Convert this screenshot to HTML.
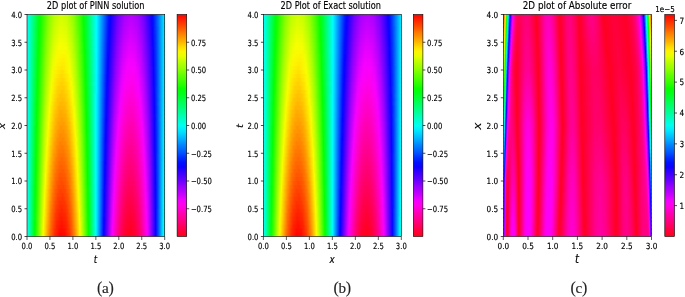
<!DOCTYPE html><html><head><meta charset="utf-8"><title>2D plots</title><style>html,body{margin:0;padding:0;background:#fff}svg{display:block}</style></head><body><svg width="685" height="297" viewBox="0 0 685 297"><defs><linearGradient id="g1"><stop offset="0" stop-color="#00fff3"/><stop offset="0.0072" stop-color="#00ffec"/><stop offset="0.087" stop-color="#00ff10"/><stop offset="0.1014" stop-color="#13ff00"/><stop offset="0.1558" stop-color="#82ff00"/><stop offset="0.2029" stop-color="#beff00"/><stop offset="0.25" stop-color="#d3ff00"/><stop offset="0.2935" stop-color="#c4ff00"/><stop offset="0.3406" stop-color="#8dff00"/><stop offset="0.3913" stop-color="#2cff00"/><stop offset="0.4094" stop-color="#06ff04"/><stop offset="0.4348" stop-color="#00ff3f"/><stop offset="0.5036" stop-color="#00fdff"/><stop offset="0.5906" stop-color="#0019ff"/><stop offset="0.6087" stop-color="#1000ff"/><stop offset="0.663" stop-color="#7500ff"/><stop offset="0.7138" stop-color="#ad00ff"/><stop offset="0.7609" stop-color="#bb00ff"/><stop offset="0.808" stop-color="#a400ff"/><stop offset="0.8587" stop-color="#6400ff"/><stop offset="0.9094" stop-color="#0505ff"/><stop offset="0.9384" stop-color="#0048ff"/><stop offset="1" stop-color="#00f3ff"/></linearGradient><linearGradient id="g2"><stop offset="0" stop-color="#00fff3"/><stop offset="0.0072" stop-color="#00ffec"/><stop offset="0.087" stop-color="#01ff0e"/><stop offset="0.1014" stop-color="#16ff00"/><stop offset="0.1558" stop-color="#86ff00"/><stop offset="0.2029" stop-color="#c3ff00"/><stop offset="0.2464" stop-color="#d9ff00"/><stop offset="0.2899" stop-color="#cbff00"/><stop offset="0.337" stop-color="#97ff00"/><stop offset="0.3877" stop-color="#37ff00"/><stop offset="0.4094" stop-color="#07ff02"/><stop offset="0.4348" stop-color="#00ff3d"/><stop offset="0.5036" stop-color="#00fdff"/><stop offset="0.5906" stop-color="#0016ff"/><stop offset="0.6051" stop-color="#0c00ff"/><stop offset="0.6594" stop-color="#7400ff"/><stop offset="0.7065" stop-color="#ad00ff"/><stop offset="0.7536" stop-color="#c100ff"/><stop offset="0.8007" stop-color="#af00ff"/><stop offset="0.8478" stop-color="#7900ff"/><stop offset="0.9022" stop-color="#1400ff"/><stop offset="0.9167" stop-color="#000fff"/><stop offset="0.9928" stop-color="#00dfff"/><stop offset="1" stop-color="#00f4ff"/></linearGradient><linearGradient id="g3"><stop offset="0" stop-color="#00fff3"/><stop offset="0.0072" stop-color="#00ffec"/><stop offset="0.0833" stop-color="#00ff14"/><stop offset="0.0978" stop-color="#11ff00"/><stop offset="0.1522" stop-color="#84ff00"/><stop offset="0.1993" stop-color="#c5ff00"/><stop offset="0.2428" stop-color="#ddff00"/><stop offset="0.2862" stop-color="#d3ff00"/><stop offset="0.3333" stop-color="#a1ff00"/><stop offset="0.3841" stop-color="#43ff00"/><stop offset="0.4094" stop-color="#08ff01"/><stop offset="0.4312" stop-color="#00ff31"/><stop offset="0.5036" stop-color="#00fdff"/><stop offset="0.5906" stop-color="#0013ff"/><stop offset="0.6051" stop-color="#0f00ff"/><stop offset="0.6594" stop-color="#7900ff"/><stop offset="0.7065" stop-color="#b200ff"/><stop offset="0.7536" stop-color="#c600ff"/><stop offset="0.8007" stop-color="#b400ff"/><stop offset="0.8478" stop-color="#7e00ff"/><stop offset="0.9022" stop-color="#1600ff"/><stop offset="0.9167" stop-color="#010eff"/><stop offset="0.9891" stop-color="#00d4ff"/><stop offset="1" stop-color="#00f4ff"/></linearGradient><linearGradient id="g4"><stop offset="0" stop-color="#00fff3"/><stop offset="0.0072" stop-color="#00ffeb"/><stop offset="0.0833" stop-color="#00ff11"/><stop offset="0.0978" stop-color="#14ff00"/><stop offset="0.1522" stop-color="#88ff00"/><stop offset="0.1993" stop-color="#caff00"/><stop offset="0.2428" stop-color="#e3ff00"/><stop offset="0.2862" stop-color="#d8ff00"/><stop offset="0.3333" stop-color="#a6ff00"/><stop offset="0.3841" stop-color="#46ff00"/><stop offset="0.413" stop-color="#06ff05"/><stop offset="0.442" stop-color="#00ff4d"/><stop offset="0.5036" stop-color="#00fdff"/><stop offset="0.587" stop-color="#0019ff"/><stop offset="0.6014" stop-color="#0a00ff"/><stop offset="0.6558" stop-color="#7700ff"/><stop offset="0.7029" stop-color="#b400ff"/><stop offset="0.75" stop-color="#cb00ff"/><stop offset="0.7971" stop-color="#bc00ff"/><stop offset="0.8442" stop-color="#8700ff"/><stop offset="0.8986" stop-color="#2100ff"/><stop offset="0.913" stop-color="#0506ff"/><stop offset="0.9493" stop-color="#0061ff"/><stop offset="1" stop-color="#00f5ff"/></linearGradient><linearGradient id="g5"><stop offset="0" stop-color="#00fff3"/><stop offset="0.0072" stop-color="#00ffeb"/><stop offset="0.0833" stop-color="#00ff0f"/><stop offset="0.0942" stop-color="#0dff00"/><stop offset="0.1486" stop-color="#86ff00"/><stop offset="0.1957" stop-color="#cbff00"/><stop offset="0.2391" stop-color="#e7ff00"/><stop offset="0.2826" stop-color="#e0ff00"/><stop offset="0.3297" stop-color="#b0ff00"/><stop offset="0.3804" stop-color="#52ff00"/><stop offset="0.413" stop-color="#07ff03"/><stop offset="0.4348" stop-color="#00ff37"/><stop offset="0.5036" stop-color="#00fcff"/><stop offset="0.587" stop-color="#0016ff"/><stop offset="0.6014" stop-color="#0e00ff"/><stop offset="0.6558" stop-color="#7c00ff"/><stop offset="0.7029" stop-color="#b900ff"/><stop offset="0.75" stop-color="#d100ff"/><stop offset="0.7971" stop-color="#c100ff"/><stop offset="0.8442" stop-color="#8b00ff"/><stop offset="0.8986" stop-color="#2400ff"/><stop offset="0.913" stop-color="#0605ff"/><stop offset="0.9384" stop-color="#0042ff"/><stop offset="1" stop-color="#00f5ff"/></linearGradient><linearGradient id="g6"><stop offset="0" stop-color="#00fff3"/><stop offset="0.0072" stop-color="#00ffeb"/><stop offset="0.0833" stop-color="#01ff0d"/><stop offset="0.0942" stop-color="#10ff00"/><stop offset="0.1486" stop-color="#8aff00"/><stop offset="0.1957" stop-color="#d0ff00"/><stop offset="0.2391" stop-color="#edff00"/><stop offset="0.2826" stop-color="#e5ff00"/><stop offset="0.3261" stop-color="#b9ff00"/><stop offset="0.3732" stop-color="#66ff00"/><stop offset="0.413" stop-color="#07ff01"/><stop offset="0.4384" stop-color="#00ff3f"/><stop offset="0.5036" stop-color="#00fcff"/><stop offset="0.587" stop-color="#0013ff"/><stop offset="0.6014" stop-color="#1100ff"/><stop offset="0.6558" stop-color="#8100ff"/><stop offset="0.7029" stop-color="#be00ff"/><stop offset="0.75" stop-color="#d600ff"/><stop offset="0.7971" stop-color="#c600ff"/><stop offset="0.8442" stop-color="#9000ff"/><stop offset="0.8949" stop-color="#2f00ff"/><stop offset="0.913" stop-color="#0603ff"/><stop offset="0.9348" stop-color="#0036ff"/><stop offset="1" stop-color="#00f6ff"/></linearGradient><linearGradient id="g7"><stop offset="0" stop-color="#00fff3"/><stop offset="0.0072" stop-color="#00ffeb"/><stop offset="0.0833" stop-color="#02ff0c"/><stop offset="0.0942" stop-color="#13ff00"/><stop offset="0.1486" stop-color="#8fff00"/><stop offset="0.1957" stop-color="#d5ff00"/><stop offset="0.2391" stop-color="#f2ff00"/><stop offset="0.2826" stop-color="#eaff00"/><stop offset="0.3261" stop-color="#beff00"/><stop offset="0.3732" stop-color="#6aff00"/><stop offset="0.413" stop-color="#09ff00"/><stop offset="0.4312" stop-color="#00ff28"/><stop offset="0.5036" stop-color="#00fcff"/><stop offset="0.587" stop-color="#0010ff"/><stop offset="0.6014" stop-color="#1400ff"/><stop offset="0.6558" stop-color="#8500ff"/><stop offset="0.7029" stop-color="#c400ff"/><stop offset="0.75" stop-color="#dc00ff"/><stop offset="0.7935" stop-color="#ce00ff"/><stop offset="0.8406" stop-color="#9900ff"/><stop offset="0.8913" stop-color="#3a00ff"/><stop offset="0.913" stop-color="#0701ff"/><stop offset="0.9384" stop-color="#003fff"/><stop offset="1" stop-color="#00f7ff"/></linearGradient><linearGradient id="g8"><stop offset="0" stop-color="#00fff3"/><stop offset="0.0072" stop-color="#00ffeb"/><stop offset="0.0797" stop-color="#00ff11"/><stop offset="0.0906" stop-color="#0dff00"/><stop offset="0.1449" stop-color="#8cff00"/><stop offset="0.192" stop-color="#d6ff00"/><stop offset="0.2355" stop-color="#f7ff00"/><stop offset="0.2826" stop-color="#f0ff00"/><stop offset="0.3261" stop-color="#c3ff00"/><stop offset="0.3732" stop-color="#6dff00"/><stop offset="0.4167" stop-color="#06ff04"/><stop offset="0.442" stop-color="#00ff46"/><stop offset="0.5036" stop-color="#00fcff"/><stop offset="0.5833" stop-color="#0016ff"/><stop offset="0.5978" stop-color="#0f00ff"/><stop offset="0.6522" stop-color="#8300ff"/><stop offset="0.6993" stop-color="#c500ff"/><stop offset="0.7428" stop-color="#e000ff"/><stop offset="0.7862" stop-color="#d800ff"/><stop offset="0.8333" stop-color="#a800ff"/><stop offset="0.8841" stop-color="#4d00ff"/><stop offset="0.913" stop-color="#0800ff"/><stop offset="0.9348" stop-color="#0033ff"/><stop offset="1" stop-color="#00f7ff"/></linearGradient><linearGradient id="g9"><stop offset="0" stop-color="#00fff3"/><stop offset="0.0072" stop-color="#00ffeb"/><stop offset="0.0797" stop-color="#00ff0f"/><stop offset="0.0906" stop-color="#0fff00"/><stop offset="0.1449" stop-color="#90ff00"/><stop offset="0.192" stop-color="#dbff00"/><stop offset="0.2283" stop-color="#f8fe00"/><stop offset="0.2862" stop-color="#f3ff00"/><stop offset="0.3297" stop-color="#c3ff00"/><stop offset="0.3768" stop-color="#69ff00"/><stop offset="0.4167" stop-color="#07ff02"/><stop offset="0.4384" stop-color="#00ff39"/><stop offset="0.5036" stop-color="#00fcff"/><stop offset="0.5833" stop-color="#0013ff"/><stop offset="0.5978" stop-color="#1200ff"/><stop offset="0.6522" stop-color="#8800ff"/><stop offset="0.6993" stop-color="#cb00ff"/><stop offset="0.7428" stop-color="#e500ff"/><stop offset="0.7862" stop-color="#dd00ff"/><stop offset="0.8333" stop-color="#ad00ff"/><stop offset="0.8841" stop-color="#5000ff"/><stop offset="0.9167" stop-color="#0605ff"/><stop offset="0.9457" stop-color="#0051ff"/><stop offset="1" stop-color="#00f8ff"/></linearGradient><linearGradient id="g10"><stop offset="0" stop-color="#00fff3"/><stop offset="0.0072" stop-color="#00ffeb"/><stop offset="0.0797" stop-color="#01ff0d"/><stop offset="0.0906" stop-color="#12ff00"/><stop offset="0.1449" stop-color="#94ff00"/><stop offset="0.192" stop-color="#e0ff00"/><stop offset="0.2246" stop-color="#f9fb00"/><stop offset="0.279" stop-color="#f9fb00"/><stop offset="0.3116" stop-color="#e0ff00"/><stop offset="0.3587" stop-color="#94ff00"/><stop offset="0.413" stop-color="#12ff00"/><stop offset="0.4239" stop-color="#01ff0e"/><stop offset="0.5036" stop-color="#00fcff"/><stop offset="0.5833" stop-color="#0011ff"/><stop offset="0.5978" stop-color="#1500ff"/><stop offset="0.6522" stop-color="#8d00ff"/><stop offset="0.6993" stop-color="#d000ff"/><stop offset="0.7428" stop-color="#eb00ff"/><stop offset="0.7862" stop-color="#e200ff"/><stop offset="0.8333" stop-color="#b100ff"/><stop offset="0.8841" stop-color="#5300ff"/><stop offset="0.9167" stop-color="#0603ff"/><stop offset="0.9384" stop-color="#003aff"/><stop offset="1" stop-color="#00f9ff"/></linearGradient><linearGradient id="g11"><stop offset="0" stop-color="#00fff3"/><stop offset="0.0072" stop-color="#00ffeb"/><stop offset="0.0797" stop-color="#02ff0c"/><stop offset="0.0906" stop-color="#15ff00"/><stop offset="0.1449" stop-color="#98ff00"/><stop offset="0.192" stop-color="#e5ff00"/><stop offset="0.2174" stop-color="#f9fb00"/><stop offset="0.2681" stop-color="#fcf500"/><stop offset="0.3007" stop-color="#f1ff00"/><stop offset="0.3442" stop-color="#b4ff00"/><stop offset="0.3949" stop-color="#45ff00"/><stop offset="0.4203" stop-color="#05ff05"/><stop offset="0.4529" stop-color="#00ff61"/><stop offset="0.5036" stop-color="#00fbff"/><stop offset="0.5833" stop-color="#010eff"/><stop offset="0.5942" stop-color="#0f00ff"/><stop offset="0.6486" stop-color="#8a00ff"/><stop offset="0.6957" stop-color="#d100ff"/><stop offset="0.7391" stop-color="#ef00ff"/><stop offset="0.7826" stop-color="#e900ff"/><stop offset="0.8261" stop-color="#c000ff"/><stop offset="0.8732" stop-color="#6e00ff"/><stop offset="0.9167" stop-color="#0702ff"/><stop offset="0.9384" stop-color="#0039ff"/><stop offset="1" stop-color="#00f9ff"/></linearGradient><linearGradient id="g12"><stop offset="0" stop-color="#00fff3"/><stop offset="0.0072" stop-color="#00ffeb"/><stop offset="0.0761" stop-color="#00ff12"/><stop offset="0.087" stop-color="#0eff00"/><stop offset="0.1413" stop-color="#95ff00"/><stop offset="0.1884" stop-color="#e6ff00"/><stop offset="0.2138" stop-color="#faf900"/><stop offset="0.2645" stop-color="#fef000"/><stop offset="0.3043" stop-color="#f2ff00"/><stop offset="0.3478" stop-color="#b2ff00"/><stop offset="0.3986" stop-color="#3eff00"/><stop offset="0.4203" stop-color="#06ff04"/><stop offset="0.4457" stop-color="#00ff49"/><stop offset="0.5036" stop-color="#00fbff"/><stop offset="0.5797" stop-color="#0015ff"/><stop offset="0.5906" stop-color="#0900ff"/><stop offset="0.6449" stop-color="#8800ff"/><stop offset="0.692" stop-color="#d200ff"/><stop offset="0.7355" stop-color="#f400ff"/><stop offset="0.779" stop-color="#f000ff"/><stop offset="0.8225" stop-color="#c900ff"/><stop offset="0.8696" stop-color="#7900ff"/><stop offset="0.9167" stop-color="#0801ff"/><stop offset="0.9384" stop-color="#0037ff"/><stop offset="1" stop-color="#00faff"/></linearGradient><linearGradient id="g13"><stop offset="0" stop-color="#00fff3"/><stop offset="0.0072" stop-color="#00ffeb"/><stop offset="0.0761" stop-color="#00ff10"/><stop offset="0.087" stop-color="#10ff00"/><stop offset="0.1413" stop-color="#99ff00"/><stop offset="0.1884" stop-color="#ebff00"/><stop offset="0.2101" stop-color="#fbf800"/><stop offset="0.2609" stop-color="#ffeb00"/><stop offset="0.308" stop-color="#f3ff00"/><stop offset="0.3514" stop-color="#afff00"/><stop offset="0.4022" stop-color="#38ff00"/><stop offset="0.4203" stop-color="#07ff02"/><stop offset="0.4384" stop-color="#00ff31"/><stop offset="0.5036" stop-color="#00fbff"/><stop offset="0.5797" stop-color="#0012ff"/><stop offset="0.5906" stop-color="#0c00ff"/><stop offset="0.6449" stop-color="#8c00ff"/><stop offset="0.692" stop-color="#d700ff"/><stop offset="0.7319" stop-color="#f700ff"/><stop offset="0.7862" stop-color="#f200ff"/><stop offset="0.8297" stop-color="#c400ff"/><stop offset="0.8768" stop-color="#6d00ff"/><stop offset="0.9167" stop-color="#0900ff"/><stop offset="0.9348" stop-color="#002bff"/><stop offset="1" stop-color="#00fbff"/></linearGradient><linearGradient id="g14"><stop offset="0" stop-color="#00fff3"/><stop offset="0.0072" stop-color="#00ffeb"/><stop offset="0.0761" stop-color="#01ff0e"/><stop offset="0.087" stop-color="#13ff00"/><stop offset="0.1377" stop-color="#95ff00"/><stop offset="0.1848" stop-color="#ebff00"/><stop offset="0.2065" stop-color="#fbf600"/><stop offset="0.2536" stop-color="#ffe500"/><stop offset="0.308" stop-color="#f7fe00"/><stop offset="0.3514" stop-color="#b3ff00"/><stop offset="0.4022" stop-color="#3bff00"/><stop offset="0.4203" stop-color="#08ff00"/><stop offset="0.4384" stop-color="#00ff2f"/><stop offset="0.5036" stop-color="#00fbff"/><stop offset="0.5797" stop-color="#0010ff"/><stop offset="0.5906" stop-color="#0f00ff"/><stop offset="0.6449" stop-color="#9100ff"/><stop offset="0.692" stop-color="#dd00ff"/><stop offset="0.7283" stop-color="#f800fc"/><stop offset="0.7826" stop-color="#f800fe"/><stop offset="0.8225" stop-color="#d200ff"/><stop offset="0.8696" stop-color="#8000ff"/><stop offset="0.9203" stop-color="#0605ff"/><stop offset="0.9493" stop-color="#0056ff"/><stop offset="1" stop-color="#00fcff"/></linearGradient><linearGradient id="g15"><stop offset="0" stop-color="#00fff3"/><stop offset="0.0072" stop-color="#00ffeb"/><stop offset="0.0761" stop-color="#02ff0c"/><stop offset="0.087" stop-color="#16ff00"/><stop offset="0.1377" stop-color="#99ff00"/><stop offset="0.1848" stop-color="#f0ff00"/><stop offset="0.2174" stop-color="#ffec00"/><stop offset="0.2572" stop-color="#ffe000"/><stop offset="0.3116" stop-color="#f8fe00"/><stop offset="0.3551" stop-color="#b0ff00"/><stop offset="0.4058" stop-color="#34ff00"/><stop offset="0.4239" stop-color="#05ff06"/><stop offset="0.4601" stop-color="#00ff72"/><stop offset="0.5036" stop-color="#00fbff"/><stop offset="0.5797" stop-color="#010eff"/><stop offset="0.5906" stop-color="#1200ff"/><stop offset="0.6449" stop-color="#9500ff"/><stop offset="0.692" stop-color="#e200ff"/><stop offset="0.721" stop-color="#f900fb"/><stop offset="0.7754" stop-color="#fb00f8"/><stop offset="0.8043" stop-color="#ec00ff"/><stop offset="0.8514" stop-color="#a800ff"/><stop offset="0.9022" stop-color="#3500ff"/><stop offset="0.9203" stop-color="#0603ff"/><stop offset="0.942" stop-color="#003fff"/><stop offset="1" stop-color="#00fcff"/></linearGradient><linearGradient id="g16"><stop offset="0" stop-color="#00fff3"/><stop offset="0.0072" stop-color="#00ffea"/><stop offset="0.0761" stop-color="#03ff0b"/><stop offset="0.087" stop-color="#18ff00"/><stop offset="0.1377" stop-color="#9dff00"/><stop offset="0.1812" stop-color="#efff00"/><stop offset="0.2101" stop-color="#ffec00"/><stop offset="0.25" stop-color="#ffda00"/><stop offset="0.2899" stop-color="#ffea00"/><stop offset="0.3188" stop-color="#f4ff00"/><stop offset="0.3623" stop-color="#a5ff00"/><stop offset="0.413" stop-color="#22ff00"/><stop offset="0.4239" stop-color="#06ff04"/><stop offset="0.4493" stop-color="#00ff4e"/><stop offset="0.5036" stop-color="#00faff"/><stop offset="0.5761" stop-color="#0014ff"/><stop offset="0.587" stop-color="#0b00ff"/><stop offset="0.6413" stop-color="#9200ff"/><stop offset="0.6884" stop-color="#e200ff"/><stop offset="0.7138" stop-color="#f900fb"/><stop offset="0.7681" stop-color="#fd00f2"/><stop offset="0.8043" stop-color="#f100ff"/><stop offset="0.8478" stop-color="#b300ff"/><stop offset="0.8986" stop-color="#4200ff"/><stop offset="0.9203" stop-color="#0702ff"/><stop offset="0.9384" stop-color="#0032ff"/><stop offset="1" stop-color="#00fdff"/></linearGradient><linearGradient id="g17"><stop offset="0" stop-color="#00fff3"/><stop offset="0.0072" stop-color="#00ffea"/><stop offset="0.0725" stop-color="#00ff11"/><stop offset="0.0833" stop-color="#10ff00"/><stop offset="0.1341" stop-color="#99ff00"/><stop offset="0.1812" stop-color="#f4ff00"/><stop offset="0.221" stop-color="#ffdf00"/><stop offset="0.2609" stop-color="#ffd500"/><stop offset="0.3116" stop-color="#fbf700"/><stop offset="0.3297" stop-color="#e8ff00"/><stop offset="0.3768" stop-color="#87ff00"/><stop offset="0.4239" stop-color="#07ff02"/><stop offset="0.4457" stop-color="#00ff40"/><stop offset="0.5036" stop-color="#00faff"/><stop offset="0.5761" stop-color="#0012ff"/><stop offset="0.587" stop-color="#0e00ff"/><stop offset="0.6413" stop-color="#9600ff"/><stop offset="0.6884" stop-color="#e800ff"/><stop offset="0.7138" stop-color="#fb00f8"/><stop offset="0.7645" stop-color="#ff00ee"/><stop offset="0.808" stop-color="#f200ff"/><stop offset="0.8514" stop-color="#b000ff"/><stop offset="0.9022" stop-color="#3a00ff"/><stop offset="0.9203" stop-color="#0801ff"/><stop offset="0.9384" stop-color="#0031ff"/><stop offset="1" stop-color="#00feff"/></linearGradient><linearGradient id="g18"><stop offset="0" stop-color="#00fff3"/><stop offset="0.0072" stop-color="#00ffea"/><stop offset="0.0725" stop-color="#00ff0f"/><stop offset="0.0833" stop-color="#13ff00"/><stop offset="0.1341" stop-color="#9dff00"/><stop offset="0.1775" stop-color="#f3ff00"/><stop offset="0.2101" stop-color="#ffe200"/><stop offset="0.25" stop-color="#ffcf00"/><stop offset="0.2899" stop-color="#ffdf00"/><stop offset="0.3225" stop-color="#f8fe00"/><stop offset="0.3659" stop-color="#a5ff00"/><stop offset="0.4167" stop-color="#1dff00"/><stop offset="0.4275" stop-color="#04ff08"/><stop offset="0.4855" stop-color="#00ffc5"/><stop offset="0.5036" stop-color="#00faff"/><stop offset="0.5761" stop-color="#000fff"/><stop offset="0.587" stop-color="#1100ff"/><stop offset="0.6377" stop-color="#9300ff"/><stop offset="0.6848" stop-color="#e800ff"/><stop offset="0.7065" stop-color="#fa00f8"/><stop offset="0.7572" stop-color="#ff00e7"/><stop offset="0.808" stop-color="#f700ff"/><stop offset="0.8514" stop-color="#b400ff"/><stop offset="0.9022" stop-color="#3d00ff"/><stop offset="0.9203" stop-color="#0900ff"/><stop offset="0.9384" stop-color="#002fff"/><stop offset="1" stop-color="#00ffff"/></linearGradient><linearGradient id="g19"><stop offset="0" stop-color="#00fff3"/><stop offset="0.0072" stop-color="#00ffea"/><stop offset="0.0725" stop-color="#01ff0e"/><stop offset="0.0833" stop-color="#15ff00"/><stop offset="0.1341" stop-color="#a1ff00"/><stop offset="0.1775" stop-color="#f7fe00"/><stop offset="0.2283" stop-color="#ffd000"/><stop offset="0.2681" stop-color="#ffcd00"/><stop offset="0.3152" stop-color="#fdf400"/><stop offset="0.3333" stop-color="#ecff00"/><stop offset="0.3804" stop-color="#86ff00"/><stop offset="0.4239" stop-color="#09ff00"/><stop offset="0.4384" stop-color="#00ff25"/><stop offset="0.5036" stop-color="#00faff"/><stop offset="0.5761" stop-color="#010eff"/><stop offset="0.587" stop-color="#1400ff"/><stop offset="0.6377" stop-color="#9700ff"/><stop offset="0.6848" stop-color="#ed00ff"/><stop offset="0.7101" stop-color="#fd00f3"/><stop offset="0.7572" stop-color="#ff00e2"/><stop offset="0.8116" stop-color="#f700ff"/><stop offset="0.8551" stop-color="#b000ff"/><stop offset="0.9058" stop-color="#3500ff"/><stop offset="0.9239" stop-color="#0506ff"/><stop offset="0.9565" stop-color="#006aff"/><stop offset="1" stop-color="#00fffe"/></linearGradient><linearGradient id="g20"><stop offset="0" stop-color="#00fff3"/><stop offset="0.0072" stop-color="#00ffea"/><stop offset="0.0725" stop-color="#02ff0c"/><stop offset="0.0833" stop-color="#18ff00"/><stop offset="0.1341" stop-color="#a5ff00"/><stop offset="0.1739" stop-color="#f7ff00"/><stop offset="0.2174" stop-color="#ffd200"/><stop offset="0.2572" stop-color="#ffc500"/><stop offset="0.2971" stop-color="#ffdb00"/><stop offset="0.3297" stop-color="#f7ff00"/><stop offset="0.3768" stop-color="#93ff00"/><stop offset="0.4275" stop-color="#05ff05"/><stop offset="0.4601" stop-color="#00ff6c"/><stop offset="0.5036" stop-color="#00faff"/><stop offset="0.5761" stop-color="#020cff"/><stop offset="0.587" stop-color="#1700ff"/><stop offset="0.6377" stop-color="#9c00ff"/><stop offset="0.6848" stop-color="#f200ff"/><stop offset="0.7246" stop-color="#ff00e4"/><stop offset="0.7645" stop-color="#ff00de"/><stop offset="0.8152" stop-color="#f700ff"/><stop offset="0.8587" stop-color="#ad00ff"/><stop offset="0.9058" stop-color="#3700ff"/><stop offset="0.9239" stop-color="#0605ff"/><stop offset="0.9529" stop-color="#005dff"/><stop offset="1" stop-color="#00fffd"/></linearGradient><linearGradient id="g21"><stop offset="0" stop-color="#00fff3"/><stop offset="0.0072" stop-color="#00ffea"/><stop offset="0.0725" stop-color="#03ff0b"/><stop offset="0.0833" stop-color="#1aff00"/><stop offset="0.1341" stop-color="#a9ff00"/><stop offset="0.1703" stop-color="#f5ff00"/><stop offset="0.2029" stop-color="#ffda00"/><stop offset="0.2428" stop-color="#ffc000"/><stop offset="0.2826" stop-color="#ffca00"/><stop offset="0.3297" stop-color="#f8fc00"/><stop offset="0.3659" stop-color="#b1ff00"/><stop offset="0.4167" stop-color="#25ff00"/><stop offset="0.4275" stop-color="#06ff04"/><stop offset="0.4529" stop-color="#00ff52"/><stop offset="0.5" stop-color="#00fff8"/><stop offset="0.5109" stop-color="#00e0ff"/><stop offset="0.5761" stop-color="#030aff"/><stop offset="0.587" stop-color="#1a00ff"/><stop offset="0.6377" stop-color="#a000ff"/><stop offset="0.6812" stop-color="#f200ff"/><stop offset="0.7174" stop-color="#ff00e4"/><stop offset="0.7572" stop-color="#ff00d7"/><stop offset="0.8007" stop-color="#ff00f0"/><stop offset="0.8225" stop-color="#f200ff"/><stop offset="0.8696" stop-color="#9800ff"/><stop offset="0.9167" stop-color="#1900ff"/><stop offset="0.9275" stop-color="#020bff"/><stop offset="1" stop-color="#00fffc"/></linearGradient><linearGradient id="g22"><stop offset="0" stop-color="#00fff3"/><stop offset="0.0072" stop-color="#00ffea"/><stop offset="0.0725" stop-color="#03ff09"/><stop offset="0.0833" stop-color="#1dff00"/><stop offset="0.1341" stop-color="#adff00"/><stop offset="0.1703" stop-color="#f8fd00"/><stop offset="0.221" stop-color="#ffc400"/><stop offset="0.2609" stop-color="#ffbb00"/><stop offset="0.3007" stop-color="#ffd500"/><stop offset="0.3333" stop-color="#f8fd00"/><stop offset="0.3732" stop-color="#a3ff00"/><stop offset="0.4275" stop-color="#07ff02"/><stop offset="0.4457" stop-color="#00ff37"/><stop offset="0.5" stop-color="#00fff8"/><stop offset="0.5109" stop-color="#00e0ff"/><stop offset="0.5725" stop-color="#0010ff"/><stop offset="0.5833" stop-color="#1200ff"/><stop offset="0.6341" stop-color="#9c00ff"/><stop offset="0.6775" stop-color="#f100ff"/><stop offset="0.7101" stop-color="#ff00e4"/><stop offset="0.75" stop-color="#ff00d2"/><stop offset="0.7899" stop-color="#ff00e1"/><stop offset="0.8225" stop-color="#f700ff"/><stop offset="0.8659" stop-color="#a400ff"/><stop offset="0.913" stop-color="#2600ff"/><stop offset="0.9239" stop-color="#0702ff"/><stop offset="0.942" stop-color="#0037ff"/><stop offset="1" stop-color="#00fffb"/></linearGradient><linearGradient id="g23"><stop offset="0" stop-color="#00fff3"/><stop offset="0.0072" stop-color="#00ffea"/><stop offset="0.0688" stop-color="#00ff10"/><stop offset="0.0761" stop-color="#08ff00"/><stop offset="0.1268" stop-color="#9eff00"/><stop offset="0.1667" stop-color="#f7fe00"/><stop offset="0.2065" stop-color="#ffcc00"/><stop offset="0.2464" stop-color="#ffb500"/><stop offset="0.2862" stop-color="#ffc200"/><stop offset="0.3333" stop-color="#f9fa00"/><stop offset="0.3587" stop-color="#caff00"/><stop offset="0.4094" stop-color="#41ff00"/><stop offset="0.4275" stop-color="#08ff00"/><stop offset="0.442" stop-color="#00ff29"/><stop offset="0.5" stop-color="#00fff8"/><stop offset="0.5109" stop-color="#00e0ff"/><stop offset="0.5725" stop-color="#010eff"/><stop offset="0.5833" stop-color="#1500ff"/><stop offset="0.6341" stop-color="#a000ff"/><stop offset="0.6775" stop-color="#f600ff"/><stop offset="0.7174" stop-color="#ff00d9"/><stop offset="0.7572" stop-color="#ff00cc"/><stop offset="0.7971" stop-color="#ff00e3"/><stop offset="0.8261" stop-color="#f600ff"/><stop offset="0.8696" stop-color="#9f00ff"/><stop offset="0.9167" stop-color="#1d00ff"/><stop offset="0.9275" stop-color="#0309ff"/><stop offset="0.9855" stop-color="#00cfff"/><stop offset="1" stop-color="#00fffa"/></linearGradient><linearGradient id="g24"><stop offset="0" stop-color="#00fff3"/><stop offset="0.0072" stop-color="#00ffea"/><stop offset="0.0688" stop-color="#01ff0e"/><stop offset="0.0797" stop-color="#16ff00"/><stop offset="0.1304" stop-color="#acff00"/><stop offset="0.163" stop-color="#f6ff00"/><stop offset="0.192" stop-color="#ffd800"/><stop offset="0.2319" stop-color="#ffb300"/><stop offset="0.2717" stop-color="#ffb400"/><stop offset="0.3116" stop-color="#ffd800"/><stop offset="0.3406" stop-color="#f5ff00"/><stop offset="0.3877" stop-color="#84ff00"/><stop offset="0.4275" stop-color="#0aff00"/><stop offset="0.442" stop-color="#00ff27"/><stop offset="0.5" stop-color="#00fff8"/><stop offset="0.5109" stop-color="#00dfff"/><stop offset="0.5725" stop-color="#020dff"/><stop offset="0.5833" stop-color="#1800ff"/><stop offset="0.6341" stop-color="#a400ff"/><stop offset="0.6739" stop-color="#f600ff"/><stop offset="0.7101" stop-color="#ff00da"/><stop offset="0.75" stop-color="#ff00c7"/><stop offset="0.7899" stop-color="#ff00d7"/><stop offset="0.8261" stop-color="#f800fd"/><stop offset="0.8659" stop-color="#ab00ff"/><stop offset="0.913" stop-color="#2a00ff"/><stop offset="0.9239" stop-color="#0800ff"/><stop offset="0.9384" stop-color="#0028ff"/><stop offset="0.9964" stop-color="#00f7ff"/><stop offset="1" stop-color="#00fffa"/></linearGradient><linearGradient id="g25"><stop offset="0" stop-color="#00fff3"/><stop offset="0.0072" stop-color="#00ffea"/><stop offset="0.0688" stop-color="#01ff0d"/><stop offset="0.0797" stop-color="#19ff00"/><stop offset="0.1304" stop-color="#afff00"/><stop offset="0.163" stop-color="#f8fd00"/><stop offset="0.2029" stop-color="#ffc500"/><stop offset="0.2428" stop-color="#ffaa00"/><stop offset="0.2826" stop-color="#ffb500"/><stop offset="0.3225" stop-color="#ffe400"/><stop offset="0.3442" stop-color="#f2ff00"/><stop offset="0.3913" stop-color="#7dff00"/><stop offset="0.4312" stop-color="#05ff05"/><stop offset="0.4638" stop-color="#00ff73"/><stop offset="0.5" stop-color="#00fff8"/><stop offset="0.5109" stop-color="#00dfff"/><stop offset="0.5725" stop-color="#030bff"/><stop offset="0.5833" stop-color="#1a00ff"/><stop offset="0.6341" stop-color="#a800ff"/><stop offset="0.6739" stop-color="#f800fd"/><stop offset="0.7283" stop-color="#ff00c7"/><stop offset="0.7681" stop-color="#ff00c5"/><stop offset="0.808" stop-color="#ff00e5"/><stop offset="0.8333" stop-color="#f200ff"/><stop offset="0.8804" stop-color="#8a00ff"/><stop offset="0.9239" stop-color="#0900ff"/><stop offset="0.9384" stop-color="#0027ff"/><stop offset="0.9964" stop-color="#00f8ff"/><stop offset="1" stop-color="#00fff9"/></linearGradient><linearGradient id="g26"><stop offset="0" stop-color="#00fff3"/><stop offset="0.0072" stop-color="#00ffea"/><stop offset="0.0688" stop-color="#02ff0c"/><stop offset="0.0797" stop-color="#1bff00"/><stop offset="0.1304" stop-color="#b3ff00"/><stop offset="0.1594" stop-color="#f7ff00"/><stop offset="0.1993" stop-color="#ffc400"/><stop offset="0.2391" stop-color="#ffa600"/><stop offset="0.279" stop-color="#ffad00"/><stop offset="0.3188" stop-color="#ffd900"/><stop offset="0.3442" stop-color="#f7ff00"/><stop offset="0.3913" stop-color="#81ff00"/><stop offset="0.4312" stop-color="#06ff04"/><stop offset="0.4565" stop-color="#00ff57"/><stop offset="0.5" stop-color="#00fff8"/><stop offset="0.5109" stop-color="#00deff"/><stop offset="0.5725" stop-color="#0309ff"/><stop offset="0.5833" stop-color="#1d00ff"/><stop offset="0.6341" stop-color="#ad00ff"/><stop offset="0.6703" stop-color="#f800fe"/><stop offset="0.7138" stop-color="#ff00cc"/><stop offset="0.7536" stop-color="#ff00bc"/><stop offset="0.7935" stop-color="#ff00d0"/><stop offset="0.8297" stop-color="#f900fb"/><stop offset="0.8623" stop-color="#ba00ff"/><stop offset="0.9094" stop-color="#3a00ff"/><stop offset="0.9275" stop-color="#0506ff"/><stop offset="0.9638" stop-color="#0080ff"/><stop offset="0.9964" stop-color="#00f9ff"/><stop offset="1" stop-color="#00fff8"/></linearGradient><linearGradient id="g27"><stop offset="0" stop-color="#00fff3"/><stop offset="0.0072" stop-color="#00ffe9"/><stop offset="0.0688" stop-color="#03ff0a"/><stop offset="0.0797" stop-color="#1eff00"/><stop offset="0.1304" stop-color="#b7ff00"/><stop offset="0.1594" stop-color="#f9fc00"/><stop offset="0.2101" stop-color="#ffb300"/><stop offset="0.25" stop-color="#ff9f00"/><stop offset="0.2899" stop-color="#ffb000"/><stop offset="0.3297" stop-color="#ffe600"/><stop offset="0.3478" stop-color="#f4ff00"/><stop offset="0.3949" stop-color="#79ff00"/><stop offset="0.4312" stop-color="#07ff02"/><stop offset="0.4529" stop-color="#00ff48"/><stop offset="0.5" stop-color="#00fff8"/><stop offset="0.5109" stop-color="#00deff"/><stop offset="0.5688" stop-color="#0010ff"/><stop offset="0.5761" stop-color="#0900ff"/><stop offset="0.6268" stop-color="#9f00ff"/><stop offset="0.6667" stop-color="#f700ff"/><stop offset="0.7065" stop-color="#ff00cd"/><stop offset="0.7464" stop-color="#ff00b7"/><stop offset="0.7862" stop-color="#ff00c5"/><stop offset="0.8333" stop-color="#f800fd"/><stop offset="0.8732" stop-color="#a300ff"/><stop offset="0.9203" stop-color="#1900ff"/><stop offset="0.9312" stop-color="#010dff"/><stop offset="0.9964" stop-color="#00faff"/><stop offset="1" stop-color="#00fff7"/></linearGradient><linearGradient id="g28"><stop offset="0" stop-color="#00fff3"/><stop offset="0.0072" stop-color="#00ffe9"/><stop offset="0.0688" stop-color="#04ff09"/><stop offset="0.0761" stop-color="#14ff00"/><stop offset="0.1268" stop-color="#b1ff00"/><stop offset="0.1558" stop-color="#f8fe00"/><stop offset="0.1884" stop-color="#ffc900"/><stop offset="0.2283" stop-color="#ffa000"/><stop offset="0.2681" stop-color="#ff9d00"/><stop offset="0.308" stop-color="#ffbf00"/><stop offset="0.3442" stop-color="#faf900"/><stop offset="0.3659" stop-color="#cdff00"/><stop offset="0.4167" stop-color="#38ff00"/><stop offset="0.4312" stop-color="#08ff01"/><stop offset="0.4493" stop-color="#00ff3a"/><stop offset="0.5" stop-color="#00fff8"/><stop offset="0.5109" stop-color="#00ddff"/><stop offset="0.5688" stop-color="#010eff"/><stop offset="0.5797" stop-color="#1700ff"/><stop offset="0.6304" stop-color="#ac00ff"/><stop offset="0.663" stop-color="#f600ff"/><stop offset="0.692" stop-color="#ff00d9"/><stop offset="0.7319" stop-color="#ff00b5"/><stop offset="0.7717" stop-color="#ff00b6"/><stop offset="0.8116" stop-color="#ff00dc"/><stop offset="0.837" stop-color="#f700fe"/><stop offset="0.8804" stop-color="#9300ff"/><stop offset="0.9275" stop-color="#0604ff"/><stop offset="0.9529" stop-color="#0058ff"/><stop offset="0.9964" stop-color="#00fbff"/><stop offset="1" stop-color="#00fff5"/></linearGradient><linearGradient id="g29"><stop offset="0" stop-color="#00fff3"/><stop offset="0.0072" stop-color="#00ffe9"/><stop offset="0.0652" stop-color="#00ff10"/><stop offset="0.0725" stop-color="#0aff00"/><stop offset="0.1232" stop-color="#abff00"/><stop offset="0.1558" stop-color="#f9fb00"/><stop offset="0.2065" stop-color="#ffad00"/><stop offset="0.2464" stop-color="#ff9400"/><stop offset="0.2862" stop-color="#ffa200"/><stop offset="0.3261" stop-color="#ffd600"/><stop offset="0.3478" stop-color="#f9fb00"/><stop offset="0.3804" stop-color="#aaff00"/><stop offset="0.4312" stop-color="#09ff00"/><stop offset="0.4457" stop-color="#00ff2b"/><stop offset="0.5" stop-color="#00fff8"/><stop offset="0.5109" stop-color="#00ddff"/><stop offset="0.5688" stop-color="#020cff"/><stop offset="0.5797" stop-color="#1a00ff"/><stop offset="0.6304" stop-color="#b000ff"/><stop offset="0.663" stop-color="#f800fd"/><stop offset="0.7065" stop-color="#ff00c2"/><stop offset="0.7464" stop-color="#ff00ac"/><stop offset="0.7862" stop-color="#ff00bb"/><stop offset="0.837" stop-color="#f900fb"/><stop offset="0.8696" stop-color="#b300ff"/><stop offset="0.9167" stop-color="#2800ff"/><stop offset="0.9275" stop-color="#0603ff"/><stop offset="0.9493" stop-color="#004aff"/><stop offset="0.9964" stop-color="#00fcff"/><stop offset="1" stop-color="#00fff4"/></linearGradient><linearGradient id="g30"><stop offset="0" stop-color="#00fff3"/><stop offset="0.0072" stop-color="#00ffe9"/><stop offset="0.0652" stop-color="#01ff0f"/><stop offset="0.0761" stop-color="#19ff00"/><stop offset="0.1268" stop-color="#b9ff00"/><stop offset="0.1522" stop-color="#f8fe00"/><stop offset="0.1848" stop-color="#ffc500"/><stop offset="0.2246" stop-color="#ff9800"/><stop offset="0.2645" stop-color="#ff9100"/><stop offset="0.3043" stop-color="#ffb000"/><stop offset="0.3478" stop-color="#faf800"/><stop offset="0.3659" stop-color="#d5ff00"/><stop offset="0.413" stop-color="#49ff00"/><stop offset="0.4312" stop-color="#0bff00"/><stop offset="0.442" stop-color="#00ff1c"/><stop offset="0.5" stop-color="#00fff8"/><stop offset="0.5109" stop-color="#00dcff"/><stop offset="0.5688" stop-color="#030bff"/><stop offset="0.5797" stop-color="#1d00ff"/><stop offset="0.6304" stop-color="#b400ff"/><stop offset="0.6594" stop-color="#f700fe"/><stop offset="0.6993" stop-color="#ff00c5"/><stop offset="0.7391" stop-color="#ff00a8"/><stop offset="0.779" stop-color="#ff00b0"/><stop offset="0.8188" stop-color="#ff00dd"/><stop offset="0.8406" stop-color="#f800fe"/><stop offset="0.8804" stop-color="#9900ff"/><stop offset="0.9275" stop-color="#0702ff"/><stop offset="0.9457" stop-color="#003cff"/><stop offset="0.9964" stop-color="#00fdff"/><stop offset="1" stop-color="#00fff3"/></linearGradient><linearGradient id="g31"><stop offset="0" stop-color="#00fff3"/><stop offset="0.0072" stop-color="#00ffe9"/><stop offset="0.0652" stop-color="#01ff0d"/><stop offset="0.0761" stop-color="#1bff00"/><stop offset="0.1268" stop-color="#bdff00"/><stop offset="0.1522" stop-color="#f9fb00"/><stop offset="0.2029" stop-color="#ffa700"/><stop offset="0.2428" stop-color="#ff8a00"/><stop offset="0.2826" stop-color="#ff9500"/><stop offset="0.3225" stop-color="#ffc600"/><stop offset="0.3514" stop-color="#f9fb00"/><stop offset="0.3841" stop-color="#a7ff00"/><stop offset="0.4348" stop-color="#05ff05"/><stop offset="0.4674" stop-color="#00ff79"/><stop offset="0.5" stop-color="#00fff8"/><stop offset="0.5109" stop-color="#00dcff"/><stop offset="0.5688" stop-color="#0309ff"/><stop offset="0.5761" stop-color="#1300ff"/><stop offset="0.6268" stop-color="#af00ff"/><stop offset="0.6594" stop-color="#f900fb"/><stop offset="0.7101" stop-color="#ff00b4"/><stop offset="0.75" stop-color="#ff00a1"/><stop offset="0.7899" stop-color="#ff00b4"/><stop offset="0.8406" stop-color="#f900fb"/><stop offset="0.8696" stop-color="#b900ff"/><stop offset="0.9167" stop-color="#2c00ff"/><stop offset="0.9275" stop-color="#0701ff"/><stop offset="0.9457" stop-color="#003bff"/><stop offset="0.9964" stop-color="#00feff"/><stop offset="1" stop-color="#00fff2"/></linearGradient><linearGradient id="g32"><stop offset="0" stop-color="#00fff3"/><stop offset="0.0072" stop-color="#00ffe9"/><stop offset="0.0652" stop-color="#02ff0c"/><stop offset="0.0761" stop-color="#1dff00"/><stop offset="0.1268" stop-color="#c0ff00"/><stop offset="0.1486" stop-color="#f8fe00"/><stop offset="0.1812" stop-color="#ffc100"/><stop offset="0.221" stop-color="#ff9000"/><stop offset="0.2609" stop-color="#ff8500"/><stop offset="0.3007" stop-color="#ffa200"/><stop offset="0.3406" stop-color="#ffe400"/><stop offset="0.3587" stop-color="#f0ff00"/><stop offset="0.4058" stop-color="#67ff00"/><stop offset="0.4348" stop-color="#06ff04"/><stop offset="0.4601" stop-color="#00ff5c"/><stop offset="0.5" stop-color="#00fff8"/><stop offset="0.5109" stop-color="#00dcff"/><stop offset="0.5652" stop-color="#0010ff"/><stop offset="0.5725" stop-color="#0a00ff"/><stop offset="0.6232" stop-color="#a900ff"/><stop offset="0.6558" stop-color="#f800fd"/><stop offset="0.692" stop-color="#ff00c4"/><stop offset="0.7319" stop-color="#ff00a0"/><stop offset="0.7717" stop-color="#ff00a1"/><stop offset="0.8116" stop-color="#ff00c9"/><stop offset="0.8442" stop-color="#f800fd"/><stop offset="0.8841" stop-color="#9500ff"/><stop offset="0.9275" stop-color="#0800ff"/><stop offset="0.942" stop-color="#002dff"/><stop offset="0.9964" stop-color="#00ffff"/><stop offset="1" stop-color="#00fff1"/></linearGradient><linearGradient id="g33"><stop offset="0" stop-color="#00fff3"/><stop offset="0.0036" stop-color="#00fff3"/><stop offset="0.0652" stop-color="#03ff0b"/><stop offset="0.0725" stop-color="#13ff00"/><stop offset="0.1232" stop-color="#baff00"/><stop offset="0.1486" stop-color="#f9fb00"/><stop offset="0.1993" stop-color="#ffa100"/><stop offset="0.2391" stop-color="#ff8000"/><stop offset="0.279" stop-color="#ff8800"/><stop offset="0.3188" stop-color="#ffb700"/><stop offset="0.3551" stop-color="#f9fb00"/><stop offset="0.3877" stop-color="#a3ff00"/><stop offset="0.4348" stop-color="#07ff02"/><stop offset="0.4529" stop-color="#00ff3f"/><stop offset="0.5" stop-color="#00fff8"/><stop offset="0.5109" stop-color="#00dbff"/><stop offset="0.5652" stop-color="#010eff"/><stop offset="0.5761" stop-color="#1900ff"/><stop offset="0.6268" stop-color="#b700ff"/><stop offset="0.6522" stop-color="#f600ff"/><stop offset="0.6812" stop-color="#ff00cf"/><stop offset="0.721" stop-color="#ff00a0"/><stop offset="0.7609" stop-color="#ff0098"/><stop offset="0.8007" stop-color="#ff00b6"/><stop offset="0.8442" stop-color="#f900fb"/><stop offset="0.8732" stop-color="#b600ff"/><stop offset="0.9203" stop-color="#2300ff"/><stop offset="0.9275" stop-color="#0900ff"/><stop offset="0.942" stop-color="#002cff"/><stop offset="0.9964" stop-color="#00fffe"/><stop offset="1" stop-color="#00fff0"/></linearGradient><linearGradient id="g34"><stop offset="0" stop-color="#00fff3"/><stop offset="0.0036" stop-color="#00fff3"/><stop offset="0.0652" stop-color="#03ff09"/><stop offset="0.0725" stop-color="#15ff00"/><stop offset="0.1232" stop-color="#bdff00"/><stop offset="0.1449" stop-color="#f8fe00"/><stop offset="0.1775" stop-color="#ffbe00"/><stop offset="0.2174" stop-color="#ff8800"/><stop offset="0.2536" stop-color="#ff7900"/><stop offset="0.2935" stop-color="#ff8f00"/><stop offset="0.3333" stop-color="#ffcc00"/><stop offset="0.3587" stop-color="#f7fe00"/><stop offset="0.4022" stop-color="#79ff00"/><stop offset="0.4348" stop-color="#08ff01"/><stop offset="0.4529" stop-color="#00ff3e"/><stop offset="0.5" stop-color="#00fff8"/><stop offset="0.5145" stop-color="#00ccff"/><stop offset="0.5652" stop-color="#020dff"/><stop offset="0.5761" stop-color="#1c00ff"/><stop offset="0.6268" stop-color="#bb00ff"/><stop offset="0.6522" stop-color="#f800fc"/><stop offset="0.6957" stop-color="#ff00b5"/><stop offset="0.7355" stop-color="#ff0093"/><stop offset="0.7754" stop-color="#ff0099"/><stop offset="0.8152" stop-color="#ff00c5"/><stop offset="0.8478" stop-color="#f800fd"/><stop offset="0.8877" stop-color="#8f00ff"/><stop offset="0.9275" stop-color="#0a00ff"/><stop offset="0.9384" stop-color="#001eff"/><stop offset="0.9964" stop-color="#00fffd"/><stop offset="1" stop-color="#00ffef"/></linearGradient><linearGradient id="g35"><stop offset="0" stop-color="#00fff3"/><stop offset="0.0036" stop-color="#00fff3"/><stop offset="0.0652" stop-color="#04ff08"/><stop offset="0.0725" stop-color="#17ff00"/><stop offset="0.1232" stop-color="#c1ff00"/><stop offset="0.1449" stop-color="#f9fb00"/><stop offset="0.1884" stop-color="#ffa700"/><stop offset="0.2283" stop-color="#ff7b00"/><stop offset="0.2645" stop-color="#ff7600"/><stop offset="0.3043" stop-color="#ff9700"/><stop offset="0.3442" stop-color="#ffdf00"/><stop offset="0.3623" stop-color="#f3ff00"/><stop offset="0.4094" stop-color="#64ff00"/><stop offset="0.4348" stop-color="#09ff00"/><stop offset="0.4493" stop-color="#00ff2e"/><stop offset="0.5" stop-color="#00fff8"/><stop offset="0.5145" stop-color="#00ccff"/><stop offset="0.5652" stop-color="#020bff"/><stop offset="0.5725" stop-color="#1100ff"/><stop offset="0.6232" stop-color="#b500ff"/><stop offset="0.6486" stop-color="#f700ff"/><stop offset="0.6775" stop-color="#ff00cb"/><stop offset="0.7174" stop-color="#ff0098"/><stop offset="0.7572" stop-color="#ff008c"/><stop offset="0.7971" stop-color="#ff00a8"/><stop offset="0.837" stop-color="#ff00e9"/><stop offset="0.8514" stop-color="#f500ff"/><stop offset="0.8986" stop-color="#7000ff"/><stop offset="0.9275" stop-color="#0c00ff"/><stop offset="0.9384" stop-color="#001dff"/><stop offset="0.9964" stop-color="#00fffc"/><stop offset="1" stop-color="#00ffee"/></linearGradient><linearGradient id="g36"><stop offset="0" stop-color="#00fff3"/><stop offset="0.0036" stop-color="#00fff3"/><stop offset="0.0652" stop-color="#05ff06"/><stop offset="0.0797" stop-color="#34ff00"/><stop offset="0.1304" stop-color="#daff00"/><stop offset="0.1449" stop-color="#faf800"/><stop offset="0.192" stop-color="#ff9c00"/><stop offset="0.2319" stop-color="#ff7300"/><stop offset="0.2681" stop-color="#ff7200"/><stop offset="0.308" stop-color="#ff9700"/><stop offset="0.3478" stop-color="#ffe300"/><stop offset="0.3623" stop-color="#f7ff00"/><stop offset="0.4094" stop-color="#67ff00"/><stop offset="0.4348" stop-color="#0bff00"/><stop offset="0.4457" stop-color="#00ff1e"/><stop offset="0.5" stop-color="#00fff8"/><stop offset="0.5145" stop-color="#00cbff"/><stop offset="0.5652" stop-color="#030aff"/><stop offset="0.5725" stop-color="#1400ff"/><stop offset="0.6232" stop-color="#b900ff"/><stop offset="0.6486" stop-color="#f900fc"/><stop offset="0.6993" stop-color="#ff00a5"/><stop offset="0.7391" stop-color="#ff0087"/><stop offset="0.779" stop-color="#ff0091"/><stop offset="0.8188" stop-color="#ff00c2"/><stop offset="0.8478" stop-color="#fa00f8"/><stop offset="0.8659" stop-color="#d300ff"/><stop offset="0.913" stop-color="#4100ff"/><stop offset="0.9312" stop-color="#0506ff"/><stop offset="0.9638" stop-color="#007fff"/><stop offset="0.9964" stop-color="#00fffb"/><stop offset="1" stop-color="#00ffec"/></linearGradient><linearGradient id="g37"><stop offset="0" stop-color="#00fff3"/><stop offset="0.0036" stop-color="#00fff3"/><stop offset="0.0616" stop-color="#01ff0e"/><stop offset="0.0725" stop-color="#1cff00"/><stop offset="0.1232" stop-color="#c8ff00"/><stop offset="0.1413" stop-color="#f9fc00"/><stop offset="0.1775" stop-color="#ffb000"/><stop offset="0.2174" stop-color="#ff7800"/><stop offset="0.2536" stop-color="#ff6900"/><stop offset="0.2899" stop-color="#ff7c00"/><stop offset="0.3297" stop-color="#ffb700"/><stop offset="0.3623" stop-color="#f8fc00"/><stop offset="0.3986" stop-color="#8eff00"/><stop offset="0.4348" stop-color="#0dff00"/><stop offset="0.4457" stop-color="#00ff1d"/><stop offset="0.5" stop-color="#00fff8"/><stop offset="0.5145" stop-color="#00cbff"/><stop offset="0.5652" stop-color="#0408ff"/><stop offset="0.5725" stop-color="#1700ff"/><stop offset="0.6232" stop-color="#bd00ff"/><stop offset="0.6449" stop-color="#f700ff"/><stop offset="0.6739" stop-color="#ff00c7"/><stop offset="0.7138" stop-color="#ff0091"/><stop offset="0.7536" stop-color="#ff0081"/><stop offset="0.7935" stop-color="#ff009a"/><stop offset="0.8333" stop-color="#ff00d9"/><stop offset="0.8514" stop-color="#f900fc"/><stop offset="0.8877" stop-color="#9700ff"/><stop offset="0.9312" stop-color="#0605ff"/><stop offset="0.9601" stop-color="#0070ff"/><stop offset="0.9964" stop-color="#00fffa"/><stop offset="1" stop-color="#00ffeb"/></linearGradient><linearGradient id="g38"><stop offset="0" stop-color="#00fff3"/><stop offset="0.0036" stop-color="#00fff3"/><stop offset="0.0616" stop-color="#01ff0d"/><stop offset="0.0725" stop-color="#1eff00"/><stop offset="0.1232" stop-color="#ccff00"/><stop offset="0.1377" stop-color="#f6ff00"/><stop offset="0.1594" stop-color="#ffd100"/><stop offset="0.1993" stop-color="#ff8700"/><stop offset="0.2355" stop-color="#ff6700"/><stop offset="0.2717" stop-color="#ff6900"/><stop offset="0.308" stop-color="#ff8d00"/><stop offset="0.3478" stop-color="#ffda00"/><stop offset="0.3659" stop-color="#f5ff00"/><stop offset="0.413" stop-color="#60ff00"/><stop offset="0.4384" stop-color="#06ff04"/><stop offset="0.4674" stop-color="#00ff72"/><stop offset="0.5" stop-color="#00fff9"/><stop offset="0.5145" stop-color="#00caff"/><stop offset="0.5616" stop-color="#0010ff"/><stop offset="0.5688" stop-color="#0c00ff"/><stop offset="0.6196" stop-color="#b700ff"/><stop offset="0.6449" stop-color="#f900fc"/><stop offset="0.6957" stop-color="#ff00a0"/><stop offset="0.7355" stop-color="#ff007e"/><stop offset="0.7717" stop-color="#ff0082"/><stop offset="0.8116" stop-color="#ff00ad"/><stop offset="0.8514" stop-color="#fa00f9"/><stop offset="0.8659" stop-color="#da00ff"/><stop offset="0.913" stop-color="#4500ff"/><stop offset="0.9312" stop-color="#0604ff"/><stop offset="0.9565" stop-color="#0061ff"/><stop offset="0.9928" stop-color="#00f6ff"/><stop offset="1" stop-color="#00ffea"/></linearGradient><linearGradient id="g39"><stop offset="0" stop-color="#00fff3"/><stop offset="0.0036" stop-color="#00fff3"/><stop offset="0.0616" stop-color="#02ff0c"/><stop offset="0.0688" stop-color="#12ff00"/><stop offset="0.1196" stop-color="#c5ff00"/><stop offset="0.1377" stop-color="#f8fd00"/><stop offset="0.1703" stop-color="#ffb400"/><stop offset="0.2101" stop-color="#ff7500"/><stop offset="0.2464" stop-color="#ff5f00"/><stop offset="0.2826" stop-color="#ff6b00"/><stop offset="0.3225" stop-color="#ffa000"/><stop offset="0.3623" stop-color="#fbf700"/><stop offset="0.3768" stop-color="#daff00"/><stop offset="0.4275" stop-color="#2dff00"/><stop offset="0.4384" stop-color="#06ff03"/><stop offset="0.4601" stop-color="#00ff53"/><stop offset="0.5" stop-color="#00fff9"/><stop offset="0.5145" stop-color="#00caff"/><stop offset="0.5616" stop-color="#010eff"/><stop offset="0.5725" stop-color="#1c00ff"/><stop offset="0.6232" stop-color="#c600ff"/><stop offset="0.6413" stop-color="#f700ff"/><stop offset="0.6703" stop-color="#ff00c4"/><stop offset="0.7101" stop-color="#ff0089"/><stop offset="0.7464" stop-color="#ff0076"/><stop offset="0.7826" stop-color="#ff0085"/><stop offset="0.8225" stop-color="#ff00bb"/><stop offset="0.8551" stop-color="#f800fd"/><stop offset="0.8949" stop-color="#8500ff"/><stop offset="0.9312" stop-color="#0603ff"/><stop offset="0.9529" stop-color="#0052ff"/><stop offset="0.9928" stop-color="#00f7ff"/><stop offset="1" stop-color="#00ffe9"/></linearGradient><linearGradient id="g40"><stop offset="0" stop-color="#00fff3"/><stop offset="0.0036" stop-color="#00fff3"/><stop offset="0.0616" stop-color="#03ff0b"/><stop offset="0.0688" stop-color="#14ff00"/><stop offset="0.1196" stop-color="#c8ff00"/><stop offset="0.1377" stop-color="#f9fa00"/><stop offset="0.1884" stop-color="#ff8e00"/><stop offset="0.2246" stop-color="#ff6300"/><stop offset="0.2609" stop-color="#ff5a00"/><stop offset="0.2971" stop-color="#ff7400"/><stop offset="0.337" stop-color="#ffb800"/><stop offset="0.3659" stop-color="#f9fb00"/><stop offset="0.3949" stop-color="#a4ff00"/><stop offset="0.4384" stop-color="#07ff02"/><stop offset="0.4565" stop-color="#00ff43"/><stop offset="0.5" stop-color="#00fff9"/><stop offset="0.5145" stop-color="#00c9ff"/><stop offset="0.5616" stop-color="#020dff"/><stop offset="0.5688" stop-color="#1100ff"/><stop offset="0.6196" stop-color="#bf00ff"/><stop offset="0.6413" stop-color="#f900fc"/><stop offset="0.6812" stop-color="#ff00ab"/><stop offset="0.721" stop-color="#ff007b"/><stop offset="0.7572" stop-color="#ff0072"/><stop offset="0.7935" stop-color="#ff008b"/><stop offset="0.8333" stop-color="#ff00cd"/><stop offset="0.8551" stop-color="#f900fa"/><stop offset="0.8841" stop-color="#ab00ff"/><stop offset="0.9312" stop-color="#0703ff"/><stop offset="0.9529" stop-color="#0052ff"/><stop offset="0.9928" stop-color="#00f8ff"/><stop offset="1" stop-color="#00ffe8"/></linearGradient><linearGradient id="g41"><stop offset="0" stop-color="#00fff3"/><stop offset="0.0036" stop-color="#00fff3"/><stop offset="0.0616" stop-color="#03ff09"/><stop offset="0.0688" stop-color="#17ff00"/><stop offset="0.1196" stop-color="#ccff00"/><stop offset="0.1341" stop-color="#f7ff00"/><stop offset="0.163" stop-color="#ffbb00"/><stop offset="0.2029" stop-color="#ff7300"/><stop offset="0.2391" stop-color="#ff5600"/><stop offset="0.2754" stop-color="#ff5b00"/><stop offset="0.3116" stop-color="#ff8300"/><stop offset="0.3514" stop-color="#ffd600"/><stop offset="0.3696" stop-color="#f7ff00"/><stop offset="0.4167" stop-color="#5bff00"/><stop offset="0.4384" stop-color="#08ff00"/><stop offset="0.4529" stop-color="#00ff33"/><stop offset="0.5" stop-color="#00fff9"/><stop offset="0.5145" stop-color="#00c8ff"/><stop offset="0.5616" stop-color="#020bff"/><stop offset="0.5688" stop-color="#1300ff"/><stop offset="0.6196" stop-color="#c300ff"/><stop offset="0.6377" stop-color="#f700ff"/><stop offset="0.663" stop-color="#ff00c9"/><stop offset="0.7029" stop-color="#ff0086"/><stop offset="0.7391" stop-color="#ff006c"/><stop offset="0.7754" stop-color="#ff0075"/><stop offset="0.8152" stop-color="#ff00a6"/><stop offset="0.8551" stop-color="#fa00f8"/><stop offset="0.8659" stop-color="#e400ff"/><stop offset="0.913" stop-color="#4a00ff"/><stop offset="0.9312" stop-color="#0702ff"/><stop offset="0.9493" stop-color="#0043ff"/><stop offset="0.9928" stop-color="#00f9ff"/><stop offset="1" stop-color="#00ffe6"/></linearGradient><linearGradient id="g42"><stop offset="0" stop-color="#00fff3"/><stop offset="0.0036" stop-color="#00fff3"/><stop offset="0.0616" stop-color="#04ff08"/><stop offset="0.0688" stop-color="#19ff00"/><stop offset="0.1196" stop-color="#cfff00"/><stop offset="0.1341" stop-color="#f9fc00"/><stop offset="0.1667" stop-color="#ffae00"/><stop offset="0.2065" stop-color="#ff6a00"/><stop offset="0.2428" stop-color="#ff4f00"/><stop offset="0.279" stop-color="#ff5800"/><stop offset="0.3152" stop-color="#ff8400"/><stop offset="0.3551" stop-color="#ffdb00"/><stop offset="0.3696" stop-color="#f8fc00"/><stop offset="0.4094" stop-color="#78ff00"/><stop offset="0.4384" stop-color="#09ff00"/><stop offset="0.4529" stop-color="#00ff31"/><stop offset="0.5" stop-color="#00fff9"/><stop offset="0.5145" stop-color="#00c8ff"/><stop offset="0.5616" stop-color="#030aff"/><stop offset="0.5688" stop-color="#1600ff"/><stop offset="0.6196" stop-color="#c700ff"/><stop offset="0.6377" stop-color="#f800fc"/><stop offset="0.6703" stop-color="#ff00b5"/><stop offset="0.7101" stop-color="#ff0079"/><stop offset="0.7464" stop-color="#ff0066"/><stop offset="0.7826" stop-color="#ff0076"/><stop offset="0.8225" stop-color="#ff00ae"/><stop offset="0.8551" stop-color="#fc00f6"/><stop offset="0.8659" stop-color="#e700ff"/><stop offset="0.913" stop-color="#4c00ff"/><stop offset="0.9312" stop-color="#0701ff"/><stop offset="0.9493" stop-color="#0042ff"/><stop offset="0.9928" stop-color="#00faff"/><stop offset="1" stop-color="#00ffe5"/></linearGradient><linearGradient id="g43"><stop offset="0" stop-color="#00fff3"/><stop offset="0.0036" stop-color="#00fff3"/><stop offset="0.0616" stop-color="#05ff07"/><stop offset="0.0725" stop-color="#29ff00"/><stop offset="0.1232" stop-color="#deff00"/><stop offset="0.1341" stop-color="#faf900"/><stop offset="0.1812" stop-color="#ff8c00"/><stop offset="0.2174" stop-color="#ff5900"/><stop offset="0.2536" stop-color="#ff4900"/><stop offset="0.2899" stop-color="#ff5d00"/><stop offset="0.3261" stop-color="#ff9300"/><stop offset="0.3696" stop-color="#fafa00"/><stop offset="0.3877" stop-color="#c6ff00"/><stop offset="0.4384" stop-color="#0bff00"/><stop offset="0.4493" stop-color="#00ff21"/><stop offset="0.5" stop-color="#00fff9"/><stop offset="0.5181" stop-color="#00b8ff"/><stop offset="0.5616" stop-color="#0408ff"/><stop offset="0.5688" stop-color="#1800ff"/><stop offset="0.6196" stop-color="#cb00ff"/><stop offset="0.6341" stop-color="#f600ff"/><stop offset="0.6558" stop-color="#ff00d0"/><stop offset="0.6957" stop-color="#ff0085"/><stop offset="0.7319" stop-color="#ff0064"/><stop offset="0.7681" stop-color="#ff0066"/><stop offset="0.8043" stop-color="#ff008b"/><stop offset="0.8442" stop-color="#ff00da"/><stop offset="0.8623" stop-color="#f500ff"/><stop offset="0.9094" stop-color="#5b00ff"/><stop offset="0.9312" stop-color="#0800ff"/><stop offset="0.9457" stop-color="#0033ff"/><stop offset="0.9928" stop-color="#00fbff"/><stop offset="1" stop-color="#00ffe4"/></linearGradient><linearGradient id="g44"><stop offset="0" stop-color="#00fff3"/><stop offset="0.0036" stop-color="#00fff3"/><stop offset="0.058" stop-color="#00ff0f"/><stop offset="0.0652" stop-color="#0eff00"/><stop offset="0.1159" stop-color="#cbff00"/><stop offset="0.1304" stop-color="#f8fe00"/><stop offset="0.1522" stop-color="#ffc800"/><stop offset="0.192" stop-color="#ff7400"/><stop offset="0.2283" stop-color="#ff4b00"/><stop offset="0.2645" stop-color="#ff4600"/><stop offset="0.3007" stop-color="#ff6400"/><stop offset="0.3406" stop-color="#ffae00"/><stop offset="0.3696" stop-color="#fbf700"/><stop offset="0.3804" stop-color="#e1ff00"/><stop offset="0.4312" stop-color="#2aff00"/><stop offset="0.442" stop-color="#05ff06"/><stop offset="0.4855" stop-color="#00ffba"/><stop offset="0.5" stop-color="#00fff9"/><stop offset="0.5181" stop-color="#00b7ff"/><stop offset="0.5616" stop-color="#0507ff"/><stop offset="0.5761" stop-color="#3700ff"/><stop offset="0.6232" stop-color="#da00ff"/><stop offset="0.6341" stop-color="#f800fd"/><stop offset="0.663" stop-color="#ff00bb"/><stop offset="0.7029" stop-color="#ff0076"/><stop offset="0.7391" stop-color="#ff005c"/><stop offset="0.7754" stop-color="#ff0065"/><stop offset="0.8116" stop-color="#ff0092"/><stop offset="0.8514" stop-color="#ff00e8"/><stop offset="0.8623" stop-color="#f700fe"/><stop offset="0.9058" stop-color="#6a00ff"/><stop offset="0.9312" stop-color="#0900ff"/><stop offset="0.9457" stop-color="#0032ff"/><stop offset="0.9928" stop-color="#00fcff"/><stop offset="1" stop-color="#00ffe2"/></linearGradient><linearGradient id="g45"><stop offset="0" stop-color="#00fff3"/><stop offset="0.0036" stop-color="#00fff3"/><stop offset="0.058" stop-color="#01ff0e"/><stop offset="0.0652" stop-color="#10ff00"/><stop offset="0.1159" stop-color="#ceff00"/><stop offset="0.1304" stop-color="#f9fb00"/><stop offset="0.1667" stop-color="#ffa000"/><stop offset="0.2029" stop-color="#ff5f00"/><stop offset="0.2391" stop-color="#ff4000"/><stop offset="0.2754" stop-color="#ff4600"/><stop offset="0.3116" stop-color="#ff6f00"/><stop offset="0.3514" stop-color="#ffc400"/><stop offset="0.3732" stop-color="#f9fc00"/><stop offset="0.4094" stop-color="#81ff00"/><stop offset="0.442" stop-color="#06ff05"/><stop offset="0.4746" stop-color="#00ff8a"/><stop offset="0.5" stop-color="#00fff9"/><stop offset="0.5181" stop-color="#00b6ff"/><stop offset="0.558" stop-color="#010fff"/><stop offset="0.5688" stop-color="#1d00ff"/><stop offset="0.6159" stop-color="#c700ff"/><stop offset="0.6341" stop-color="#f900fa"/><stop offset="0.6848" stop-color="#ff008b"/><stop offset="0.721" stop-color="#ff0060"/><stop offset="0.7572" stop-color="#ff0057"/><stop offset="0.7935" stop-color="#ff0072"/><stop offset="0.8333" stop-color="#ff00b8"/><stop offset="0.8623" stop-color="#f800fc"/><stop offset="0.8986" stop-color="#8600ff"/><stop offset="0.9312" stop-color="#0a00ff"/><stop offset="0.942" stop-color="#0023ff"/><stop offset="0.9928" stop-color="#00fdff"/><stop offset="1" stop-color="#00ffe1"/></linearGradient><linearGradient id="g46"><stop offset="0" stop-color="#00fff3"/><stop offset="0.0036" stop-color="#00fff3"/><stop offset="0.058" stop-color="#01ff0d"/><stop offset="0.0652" stop-color="#12ff00"/><stop offset="0.1159" stop-color="#d2ff00"/><stop offset="0.1268" stop-color="#f5ff00"/><stop offset="0.1449" stop-color="#ffd300"/><stop offset="0.1848" stop-color="#ff7700"/><stop offset="0.221" stop-color="#ff4600"/><stop offset="0.2572" stop-color="#ff3900"/><stop offset="0.2935" stop-color="#ff5100"/><stop offset="0.3297" stop-color="#ff8c00"/><stop offset="0.3732" stop-color="#faf900"/><stop offset="0.3877" stop-color="#d1ff00"/><stop offset="0.442" stop-color="#06ff04"/><stop offset="0.4674" stop-color="#00ff69"/><stop offset="0.5" stop-color="#00fff9"/><stop offset="0.5181" stop-color="#00b6ff"/><stop offset="0.558" stop-color="#010dff"/><stop offset="0.5652" stop-color="#1100ff"/><stop offset="0.6159" stop-color="#cb00ff"/><stop offset="0.6304" stop-color="#f700fe"/><stop offset="0.6558" stop-color="#ff00c2"/><stop offset="0.6957" stop-color="#ff0075"/><stop offset="0.7319" stop-color="#ff0054"/><stop offset="0.7681" stop-color="#ff0056"/><stop offset="0.8043" stop-color="#ff007d"/><stop offset="0.8442" stop-color="#ff00ce"/><stop offset="0.8623" stop-color="#fa00fa"/><stop offset="0.8841" stop-color="#ba00ff"/><stop offset="0.9312" stop-color="#0b00ff"/><stop offset="0.942" stop-color="#0022ff"/><stop offset="0.9928" stop-color="#00feff"/><stop offset="1" stop-color="#00ffdf"/></linearGradient><linearGradient id="g47"><stop offset="0" stop-color="#00fff3"/><stop offset="0.0036" stop-color="#00fff3"/><stop offset="0.058" stop-color="#02ff0c"/><stop offset="0.0652" stop-color="#14ff00"/><stop offset="0.1159" stop-color="#d5ff00"/><stop offset="0.1268" stop-color="#f8fe00"/><stop offset="0.1486" stop-color="#ffc500"/><stop offset="0.1884" stop-color="#ff6b00"/><stop offset="0.2246" stop-color="#ff3d00"/><stop offset="0.2609" stop-color="#ff3400"/><stop offset="0.2971" stop-color="#ff5000"/><stop offset="0.3333" stop-color="#ff9000"/><stop offset="0.3732" stop-color="#fbf700"/><stop offset="0.3804" stop-color="#ecff00"/><stop offset="0.4275" stop-color="#40ff00"/><stop offset="0.442" stop-color="#07ff02"/><stop offset="0.4638" stop-color="#00ff58"/><stop offset="0.5" stop-color="#00fff9"/><stop offset="0.5181" stop-color="#00b5ff"/><stop offset="0.558" stop-color="#020cff"/><stop offset="0.5652" stop-color="#1400ff"/><stop offset="0.6159" stop-color="#cf00ff"/><stop offset="0.6304" stop-color="#f900fc"/><stop offset="0.6667" stop-color="#ff00a4"/><stop offset="0.7029" stop-color="#ff0066"/><stop offset="0.7391" stop-color="#ff004c"/><stop offset="0.7754" stop-color="#ff0056"/><stop offset="0.8116" stop-color="#ff0084"/><stop offset="0.8514" stop-color="#ff00de"/><stop offset="0.8659" stop-color="#f700ff"/><stop offset="0.913" stop-color="#5400ff"/><stop offset="0.9312" stop-color="#0c00ff"/><stop offset="0.942" stop-color="#0022ff"/><stop offset="0.9928" stop-color="#00fffe"/><stop offset="1" stop-color="#00ffde"/></linearGradient><linearGradient id="g48"><stop offset="0" stop-color="#00fff3"/><stop offset="0.0036" stop-color="#00fff3"/><stop offset="0.058" stop-color="#03ff0b"/><stop offset="0.0652" stop-color="#16ff00"/><stop offset="0.1159" stop-color="#d9ff00"/><stop offset="0.1268" stop-color="#f9fb00"/><stop offset="0.1667" stop-color="#ff9300"/><stop offset="0.2029" stop-color="#ff5000"/><stop offset="0.2391" stop-color="#ff3000"/><stop offset="0.2754" stop-color="#ff3600"/><stop offset="0.3116" stop-color="#ff6000"/><stop offset="0.3514" stop-color="#ffb700"/><stop offset="0.3768" stop-color="#f9fc00"/><stop offset="0.413" stop-color="#7bff00"/><stop offset="0.442" stop-color="#07ff01"/><stop offset="0.4601" stop-color="#00ff47"/><stop offset="0.5" stop-color="#00fff9"/><stop offset="0.5181" stop-color="#00b4ff"/><stop offset="0.558" stop-color="#030bff"/><stop offset="0.5652" stop-color="#1600ff"/><stop offset="0.6159" stop-color="#d300ff"/><stop offset="0.6268" stop-color="#f500ff"/><stop offset="0.6449" stop-color="#ff00d4"/><stop offset="0.6848" stop-color="#ff007c"/><stop offset="0.721" stop-color="#ff004f"/><stop offset="0.7572" stop-color="#ff0047"/><stop offset="0.7935" stop-color="#ff0064"/><stop offset="0.8297" stop-color="#ff00a4"/><stop offset="0.8623" stop-color="#fc00f6"/><stop offset="0.8732" stop-color="#e300ff"/><stop offset="0.9203" stop-color="#3900ff"/><stop offset="0.9312" stop-color="#0d00ff"/><stop offset="0.942" stop-color="#0021ff"/><stop offset="0.9928" stop-color="#00fffd"/><stop offset="1" stop-color="#00ffdd"/></linearGradient><linearGradient id="g49"><stop offset="0" stop-color="#00fff3"/><stop offset="0.0036" stop-color="#00fff3"/><stop offset="0.058" stop-color="#03ff09"/><stop offset="0.0652" stop-color="#18ff00"/><stop offset="0.1159" stop-color="#dcff00"/><stop offset="0.1268" stop-color="#faf900"/><stop offset="0.1739" stop-color="#ff7e00"/><stop offset="0.2101" stop-color="#ff4100"/><stop offset="0.2464" stop-color="#ff2900"/><stop offset="0.2826" stop-color="#ff3600"/><stop offset="0.3188" stop-color="#ff6800"/><stop offset="0.3587" stop-color="#ffc700"/><stop offset="0.3768" stop-color="#faf900"/><stop offset="0.3913" stop-color="#cfff00"/><stop offset="0.442" stop-color="#08ff00"/><stop offset="0.4565" stop-color="#00ff36"/><stop offset="0.5" stop-color="#00fff9"/><stop offset="0.5217" stop-color="#00a3ff"/><stop offset="0.558" stop-color="#0309ff"/><stop offset="0.5652" stop-color="#1800ff"/><stop offset="0.6123" stop-color="#ca00ff"/><stop offset="0.6268" stop-color="#f800fd"/><stop offset="0.6486" stop-color="#ff00c6"/><stop offset="0.6884" stop-color="#ff0071"/><stop offset="0.7246" stop-color="#ff0047"/><stop offset="0.7609" stop-color="#ff0043"/><stop offset="0.7971" stop-color="#ff0064"/><stop offset="0.8333" stop-color="#ff00a8"/><stop offset="0.8659" stop-color="#f900fb"/><stop offset="0.8986" stop-color="#8e00ff"/><stop offset="0.9312" stop-color="#0d00ff"/><stop offset="0.942" stop-color="#0020ff"/><stop offset="0.9928" stop-color="#00fffc"/><stop offset="1" stop-color="#00ffdb"/></linearGradient><linearGradient id="g50"><stop offset="0" stop-color="#00fff3"/><stop offset="0.0036" stop-color="#00fff3"/><stop offset="0.058" stop-color="#04ff08"/><stop offset="0.0652" stop-color="#1aff00"/><stop offset="0.1159" stop-color="#e0ff00"/><stop offset="0.1232" stop-color="#f7fe00"/><stop offset="0.1413" stop-color="#ffcd00"/><stop offset="0.1812" stop-color="#ff6a00"/><stop offset="0.2174" stop-color="#ff3400"/><stop offset="0.2536" stop-color="#ff2300"/><stop offset="0.2899" stop-color="#ff3800"/><stop offset="0.3261" stop-color="#ff7200"/><stop offset="0.3659" stop-color="#ffd800"/><stop offset="0.3804" stop-color="#f7ff00"/><stop offset="0.4275" stop-color="#47ff00"/><stop offset="0.442" stop-color="#0aff00"/><stop offset="0.4529" stop-color="#00ff25"/><stop offset="0.5" stop-color="#00fff9"/><stop offset="0.5217" stop-color="#00a2ff"/><stop offset="0.558" stop-color="#0408ff"/><stop offset="0.5652" stop-color="#1b00ff"/><stop offset="0.6123" stop-color="#ce00ff"/><stop offset="0.6268" stop-color="#f900fb"/><stop offset="0.6739" stop-color="#ff0086"/><stop offset="0.7101" stop-color="#ff004e"/><stop offset="0.7464" stop-color="#ff003b"/><stop offset="0.7826" stop-color="#ff004d"/><stop offset="0.8188" stop-color="#ff0084"/><stop offset="0.8587" stop-color="#ff00e8"/><stop offset="0.8696" stop-color="#f500ff"/><stop offset="0.9167" stop-color="#4a00ff"/><stop offset="0.9348" stop-color="#0506ff"/><stop offset="0.9674" stop-color="#0090ff"/><stop offset="0.9928" stop-color="#00fffb"/><stop offset="1" stop-color="#00ffda"/></linearGradient><linearGradient id="g51"><stop offset="0" stop-color="#00fff3"/><stop offset="0.0036" stop-color="#00fff3"/><stop offset="0.058" stop-color="#04ff07"/><stop offset="0.0688" stop-color="#2cff00"/><stop offset="0.1159" stop-color="#e3ff00"/><stop offset="0.1268" stop-color="#fdf400"/><stop offset="0.1703" stop-color="#ff7c00"/><stop offset="0.2065" stop-color="#ff3b00"/><stop offset="0.2428" stop-color="#ff1f00"/><stop offset="0.279" stop-color="#ff2800"/><stop offset="0.3152" stop-color="#ff5800"/><stop offset="0.3551" stop-color="#ffb400"/><stop offset="0.3804" stop-color="#f8fc00"/><stop offset="0.4203" stop-color="#67ff00"/><stop offset="0.442" stop-color="#0cff00"/><stop offset="0.4529" stop-color="#00ff23"/><stop offset="0.5" stop-color="#00fff9"/><stop offset="0.5217" stop-color="#00a2ff"/><stop offset="0.558" stop-color="#0506ff"/><stop offset="0.5725" stop-color="#3b00ff"/><stop offset="0.6196" stop-color="#eb00ff"/><stop offset="0.6268" stop-color="#fb00f8"/><stop offset="0.6739" stop-color="#ff0081"/><stop offset="0.7101" stop-color="#ff0049"/><stop offset="0.7464" stop-color="#ff0035"/><stop offset="0.7826" stop-color="#ff0048"/><stop offset="0.8188" stop-color="#ff0080"/><stop offset="0.8587" stop-color="#ff00e4"/><stop offset="0.8696" stop-color="#f700fe"/><stop offset="0.913" stop-color="#5a00ff"/><stop offset="0.9348" stop-color="#0505ff"/><stop offset="0.9638" stop-color="#0080ff"/><stop offset="0.9928" stop-color="#00fffa"/><stop offset="1" stop-color="#00ffd8"/></linearGradient><linearGradient id="g52"><stop offset="0" stop-color="#00fff3"/><stop offset="0.0036" stop-color="#00fff3"/><stop offset="0.058" stop-color="#05ff06"/><stop offset="0.0797" stop-color="#5cff00"/><stop offset="0.1196" stop-color="#f3ff00"/><stop offset="0.1341" stop-color="#ffdb00"/><stop offset="0.1739" stop-color="#ff7000"/><stop offset="0.2101" stop-color="#ff3200"/><stop offset="0.2464" stop-color="#ff1900"/><stop offset="0.2826" stop-color="#ff2600"/><stop offset="0.3188" stop-color="#ff5a00"/><stop offset="0.3587" stop-color="#ffbb00"/><stop offset="0.3804" stop-color="#fafa00"/><stop offset="0.4022" stop-color="#b1ff00"/><stop offset="0.442" stop-color="#0eff00"/><stop offset="0.4529" stop-color="#00ff22"/><stop offset="0.5" stop-color="#00fff9"/><stop offset="0.5254" stop-color="#0090ff"/><stop offset="0.5543" stop-color="#000fff"/><stop offset="0.5616" stop-color="#1000ff"/><stop offset="0.6123" stop-color="#d600ff"/><stop offset="0.6232" stop-color="#f800fd"/><stop offset="0.6486" stop-color="#ff00b8"/><stop offset="0.6848" stop-color="#ff0067"/><stop offset="0.721" stop-color="#ff003a"/><stop offset="0.7572" stop-color="#ff0032"/><stop offset="0.7935" stop-color="#ff0050"/><stop offset="0.8297" stop-color="#ff0093"/><stop offset="0.8659" stop-color="#fc00f5"/><stop offset="0.8768" stop-color="#e300ff"/><stop offset="0.9239" stop-color="#2f00ff"/><stop offset="0.9348" stop-color="#0605ff"/><stop offset="0.9638" stop-color="#0080ff"/><stop offset="0.9891" stop-color="#00f5ff"/><stop offset="0.9928" stop-color="#00fff8"/><stop offset="1" stop-color="#00ffd7"/></linearGradient><linearGradient id="g53"><stop offset="0" stop-color="#00fff3"/><stop offset="0.0036" stop-color="#00fff3"/><stop offset="0.0543" stop-color="#00ff0f"/><stop offset="0.0616" stop-color="#11ff00"/><stop offset="0.1123" stop-color="#ddff00"/><stop offset="0.1196" stop-color="#f7ff00"/><stop offset="0.1377" stop-color="#ffcc00"/><stop offset="0.1775" stop-color="#ff6300"/><stop offset="0.2138" stop-color="#ff2800"/><stop offset="0.25" stop-color="#ff1300"/><stop offset="0.2862" stop-color="#ff2400"/><stop offset="0.3225" stop-color="#ff5c00"/><stop offset="0.3623" stop-color="#ffc100"/><stop offset="0.3804" stop-color="#fbf700"/><stop offset="0.3877" stop-color="#e9ff00"/><stop offset="0.4384" stop-color="#20ff00"/><stop offset="0.4457" stop-color="#05ff05"/><stop offset="0.4746" stop-color="#00ff83"/><stop offset="0.5" stop-color="#00fff9"/><stop offset="0.5254" stop-color="#008fff"/><stop offset="0.5543" stop-color="#010eff"/><stop offset="0.5616" stop-color="#1200ff"/><stop offset="0.6087" stop-color="#cd00ff"/><stop offset="0.6232" stop-color="#fa00fa"/><stop offset="0.6703" stop-color="#ff007e"/><stop offset="0.7065" stop-color="#ff0042"/><stop offset="0.7428" stop-color="#ff002b"/><stop offset="0.779" stop-color="#ff003a"/><stop offset="0.8152" stop-color="#ff0070"/><stop offset="0.8551" stop-color="#ff00d3"/><stop offset="0.8696" stop-color="#f900fa"/><stop offset="0.8986" stop-color="#9600ff"/><stop offset="0.9348" stop-color="#0604ff"/><stop offset="0.9601" stop-color="#0070ff"/><stop offset="0.9891" stop-color="#00f6ff"/><stop offset="0.9964" stop-color="#00ffe6"/><stop offset="1" stop-color="#00ffd5"/></linearGradient><linearGradient id="g54"><stop offset="0" stop-color="#00fff3"/><stop offset="0.0036" stop-color="#00fff3"/><stop offset="0.0543" stop-color="#01ff0e"/><stop offset="0.0616" stop-color="#13ff00"/><stop offset="0.1123" stop-color="#e1ff00"/><stop offset="0.1196" stop-color="#f8fd00"/><stop offset="0.1449" stop-color="#ffb200"/><stop offset="0.1812" stop-color="#ff5700"/><stop offset="0.2174" stop-color="#ff1f00"/><stop offset="0.2536" stop-color="#ff0e00"/><stop offset="0.2899" stop-color="#ff2300"/><stop offset="0.3261" stop-color="#ff5f00"/><stop offset="0.3659" stop-color="#ffc800"/><stop offset="0.3841" stop-color="#f8fd00"/><stop offset="0.4275" stop-color="#50ff00"/><stop offset="0.4457" stop-color="#06ff04"/><stop offset="0.471" stop-color="#00ff72"/><stop offset="0.5" stop-color="#00fff9"/><stop offset="0.5254" stop-color="#008eff"/><stop offset="0.5543" stop-color="#020dff"/><stop offset="0.5616" stop-color="#1500ff"/><stop offset="0.6087" stop-color="#d100ff"/><stop offset="0.6196" stop-color="#f700ff"/><stop offset="0.6377" stop-color="#ff00ce"/><stop offset="0.6775" stop-color="#ff006a"/><stop offset="0.7138" stop-color="#ff0035"/><stop offset="0.75" stop-color="#ff0026"/><stop offset="0.7862" stop-color="#ff003d"/><stop offset="0.8225" stop-color="#ff007b"/><stop offset="0.8623" stop-color="#ff00e6"/><stop offset="0.8732" stop-color="#f500ff"/><stop offset="0.9203" stop-color="#4000ff"/><stop offset="0.9348" stop-color="#0604ff"/><stop offset="0.9601" stop-color="#0070ff"/><stop offset="0.9891" stop-color="#00f7ff"/><stop offset="0.9964" stop-color="#00ffe5"/><stop offset="1" stop-color="#00ffd4"/></linearGradient><linearGradient id="g55"><stop offset="0" stop-color="#00fff3"/><stop offset="0.0036" stop-color="#00fff3"/><stop offset="0.0543" stop-color="#01ff0d"/><stop offset="0.0616" stop-color="#15ff00"/><stop offset="0.1123" stop-color="#e4ff00"/><stop offset="0.1232" stop-color="#fef200"/><stop offset="0.1667" stop-color="#ff7200"/><stop offset="0.2029" stop-color="#ff2c00"/><stop offset="0.2391" stop-color="#ff0a00"/><stop offset="0.2754" stop-color="#ff1000"/><stop offset="0.3116" stop-color="#ff3d00"/><stop offset="0.3478" stop-color="#ff8f00"/><stop offset="0.3841" stop-color="#f9fb00"/><stop offset="0.4167" stop-color="#80ff00"/><stop offset="0.4457" stop-color="#06ff03"/><stop offset="0.4674" stop-color="#00ff60"/><stop offset="0.5" stop-color="#00fff9"/><stop offset="0.529" stop-color="#007cff"/><stop offset="0.5543" stop-color="#020bff"/><stop offset="0.558" stop-color="#0801ff"/><stop offset="0.6087" stop-color="#d400ff"/><stop offset="0.6196" stop-color="#f800fd"/><stop offset="0.6449" stop-color="#ff00b4"/><stop offset="0.6812" stop-color="#ff005e"/><stop offset="0.7174" stop-color="#ff002c"/><stop offset="0.7536" stop-color="#ff0021"/><stop offset="0.7899" stop-color="#ff003d"/><stop offset="0.8261" stop-color="#ff007f"/><stop offset="0.8696" stop-color="#fb00f7"/><stop offset="0.8768" stop-color="#eb00ff"/><stop offset="0.9239" stop-color="#3200ff"/><stop offset="0.9348" stop-color="#0603ff"/><stop offset="0.9565" stop-color="#005fff"/><stop offset="0.9891" stop-color="#00f8ff"/><stop offset="1" stop-color="#00ffd2"/></linearGradient><linearGradient id="g56"><stop offset="0" stop-color="#00fff3"/><stop offset="0.0036" stop-color="#00fff3"/><stop offset="0.0543" stop-color="#02ff0c"/><stop offset="0.0616" stop-color="#17ff00"/><stop offset="0.1123" stop-color="#e7ff00"/><stop offset="0.1196" stop-color="#fbf800"/><stop offset="0.1667" stop-color="#ff6e00"/><stop offset="0.2029" stop-color="#ff2700"/><stop offset="0.2391" stop-color="#ff0500"/><stop offset="0.2754" stop-color="#ff0b00"/><stop offset="0.3116" stop-color="#ff3800"/><stop offset="0.3478" stop-color="#ff8b00"/><stop offset="0.3841" stop-color="#faf900"/><stop offset="0.3949" stop-color="#d9ff00"/><stop offset="0.4457" stop-color="#07ff02"/><stop offset="0.4638" stop-color="#00ff4e"/><stop offset="0.5" stop-color="#00fff9"/><stop offset="0.529" stop-color="#007bff"/><stop offset="0.5543" stop-color="#030aff"/><stop offset="0.5616" stop-color="#1900ff"/><stop offset="0.6087" stop-color="#d800ff"/><stop offset="0.6196" stop-color="#fa00fa"/><stop offset="0.6667" stop-color="#ff0077"/><stop offset="0.7029" stop-color="#ff0036"/><stop offset="0.7391" stop-color="#ff001b"/><stop offset="0.7754" stop-color="#ff0028"/><stop offset="0.8116" stop-color="#ff005b"/><stop offset="0.8478" stop-color="#ff00b3"/><stop offset="0.8732" stop-color="#f800fd"/><stop offset="0.913" stop-color="#6100ff"/><stop offset="0.9348" stop-color="#0703ff"/><stop offset="0.9565" stop-color="#005fff"/><stop offset="0.9891" stop-color="#00faff"/><stop offset="1" stop-color="#00ffd1"/></linearGradient><linearGradient id="g57" x1="0" y1="0" x2="0" y2="1"><stop offset="0" stop-color="#ff0000"/><stop offset="0.02083" stop-color="#ff1e00"/><stop offset="0.04167" stop-color="#ff3b00"/><stop offset="0.0625" stop-color="#ff5900"/><stop offset="0.08333" stop-color="#ff7c00"/><stop offset="0.1042" stop-color="#ff9a00"/><stop offset="0.125" stop-color="#ffb700"/><stop offset="0.1458" stop-color="#ffdb00"/><stop offset="0.1667" stop-color="#fcf500"/><stop offset="0.1875" stop-color="#e8ff00"/><stop offset="0.2083" stop-color="#c5ff00"/><stop offset="0.2292" stop-color="#a7ff00"/><stop offset="0.25" stop-color="#8aff00"/><stop offset="0.2708" stop-color="#66ff00"/><stop offset="0.2917" stop-color="#49ff00"/><stop offset="0.3125" stop-color="#2bff00"/><stop offset="0.3333" stop-color="#08ff00"/><stop offset="0.3542" stop-color="#00ff16"/><stop offset="0.375" stop-color="#00ff33"/><stop offset="0.3958" stop-color="#00ff57"/><stop offset="0.4167" stop-color="#00ff74"/><stop offset="0.4375" stop-color="#00ff92"/><stop offset="0.4583" stop-color="#00ffb5"/><stop offset="0.4792" stop-color="#00ffd3"/><stop offset="0.5" stop-color="#00fff0"/><stop offset="0.5208" stop-color="#00eaff"/><stop offset="0.5417" stop-color="#00cdff"/><stop offset="0.5625" stop-color="#00afff"/><stop offset="0.5833" stop-color="#008cff"/><stop offset="0.6042" stop-color="#006eff"/><stop offset="0.625" stop-color="#0051ff"/><stop offset="0.6458" stop-color="#002dff"/><stop offset="0.6667" stop-color="#0010ff"/><stop offset="0.6875" stop-color="#0e00ff"/><stop offset="0.7083" stop-color="#3100ff"/><stop offset="0.7292" stop-color="#4f00ff"/><stop offset="0.75" stop-color="#6c00ff"/><stop offset="0.7708" stop-color="#9000ff"/><stop offset="0.7917" stop-color="#ad00ff"/><stop offset="0.8125" stop-color="#cb00ff"/><stop offset="0.8333" stop-color="#ee00ff"/><stop offset="0.8542" stop-color="#fe00f1"/><stop offset="0.875" stop-color="#ff00d5"/><stop offset="0.8958" stop-color="#ff00b1"/><stop offset="0.9167" stop-color="#ff0094"/><stop offset="0.9375" stop-color="#ff0076"/><stop offset="0.9583" stop-color="#ff0053"/><stop offset="0.9792" stop-color="#ff0035"/><stop offset="1" stop-color="#ff0018"/></linearGradient><linearGradient id="g58" x1="0" y1="0" x2="0" y2="1"><stop offset="0" stop-color="#ff0000"/><stop offset="0.02083" stop-color="#ff1e00"/><stop offset="0.04167" stop-color="#ff3b00"/><stop offset="0.0625" stop-color="#ff5900"/><stop offset="0.08333" stop-color="#ff7c00"/><stop offset="0.1042" stop-color="#ff9a00"/><stop offset="0.125" stop-color="#ffb700"/><stop offset="0.1458" stop-color="#ffdb00"/><stop offset="0.1667" stop-color="#fcf500"/><stop offset="0.1875" stop-color="#e8ff00"/><stop offset="0.2083" stop-color="#c5ff00"/><stop offset="0.2292" stop-color="#a7ff00"/><stop offset="0.25" stop-color="#8aff00"/><stop offset="0.2708" stop-color="#66ff00"/><stop offset="0.2917" stop-color="#49ff00"/><stop offset="0.3125" stop-color="#2bff00"/><stop offset="0.3333" stop-color="#08ff00"/><stop offset="0.3542" stop-color="#00ff16"/><stop offset="0.375" stop-color="#00ff33"/><stop offset="0.3958" stop-color="#00ff57"/><stop offset="0.4167" stop-color="#00ff74"/><stop offset="0.4375" stop-color="#00ff92"/><stop offset="0.4583" stop-color="#00ffb5"/><stop offset="0.4792" stop-color="#00ffd3"/><stop offset="0.5" stop-color="#00fff0"/><stop offset="0.5208" stop-color="#00eaff"/><stop offset="0.5417" stop-color="#00cdff"/><stop offset="0.5625" stop-color="#00afff"/><stop offset="0.5833" stop-color="#008cff"/><stop offset="0.6042" stop-color="#006eff"/><stop offset="0.625" stop-color="#0051ff"/><stop offset="0.6458" stop-color="#002dff"/><stop offset="0.6667" stop-color="#0010ff"/><stop offset="0.6875" stop-color="#0e00ff"/><stop offset="0.7083" stop-color="#3100ff"/><stop offset="0.7292" stop-color="#4f00ff"/><stop offset="0.75" stop-color="#6c00ff"/><stop offset="0.7708" stop-color="#9000ff"/><stop offset="0.7917" stop-color="#ad00ff"/><stop offset="0.8125" stop-color="#cb00ff"/><stop offset="0.8333" stop-color="#ee00ff"/><stop offset="0.8542" stop-color="#fe00f1"/><stop offset="0.875" stop-color="#ff00d5"/><stop offset="0.8958" stop-color="#ff00b1"/><stop offset="0.9167" stop-color="#ff0094"/><stop offset="0.9375" stop-color="#ff0076"/><stop offset="0.9583" stop-color="#ff0053"/><stop offset="0.9792" stop-color="#ff0035"/><stop offset="1" stop-color="#ff0018"/></linearGradient><linearGradient id="g59"><stop offset="0" stop-color="#ff2500"/><stop offset="0.0034" stop-color="#ff4600"/><stop offset="0.0067" stop-color="#ff7f00"/><stop offset="0.0101" stop-color="#ffc700"/><stop offset="0.0135" stop-color="#e7ff00"/><stop offset="0.0202" stop-color="#3cff00"/><stop offset="0.0236" stop-color="#00ff1b"/><stop offset="0.0303" stop-color="#00ffc3"/><stop offset="0.0337" stop-color="#00edff"/><stop offset="0.0438" stop-color="#001dff"/><stop offset="0.0471" stop-color="#1f00ff"/><stop offset="0.0572" stop-color="#b200ff"/><stop offset="0.064" stop-color="#f900fc"/><stop offset="0.0774" stop-color="#ff009a"/><stop offset="0.0909" stop-color="#ff0060"/><stop offset="0.1044" stop-color="#ff0054"/><stop offset="0.1549" stop-color="#ff0078"/><stop offset="0.1818" stop-color="#ff0066"/><stop offset="0.2222" stop-color="#ff0024"/><stop offset="0.2357" stop-color="#ff003a"/><stop offset="0.2761" stop-color="#ff00a1"/><stop offset="0.2997" stop-color="#ff00ba"/><stop offset="0.3199" stop-color="#ff00ae"/><stop offset="0.3468" stop-color="#ff0075"/><stop offset="0.3771" stop-color="#ff0027"/><stop offset="0.3838" stop-color="#ff0026"/><stop offset="0.431" stop-color="#ff0078"/><stop offset="0.4545" stop-color="#ff007f"/><stop offset="0.4815" stop-color="#ff005d"/><stop offset="0.5118" stop-color="#ff0024"/><stop offset="0.5286" stop-color="#ff0037"/><stop offset="0.5724" stop-color="#ff007e"/><stop offset="0.5993" stop-color="#ff0089"/><stop offset="0.6296" stop-color="#ff006c"/><stop offset="0.6734" stop-color="#ff0023"/><stop offset="0.7508" stop-color="#ff003c"/><stop offset="0.8249" stop-color="#ff0029"/><stop offset="0.8653" stop-color="#ff004b"/><stop offset="0.8889" stop-color="#ff0077"/><stop offset="0.9057" stop-color="#ff00b0"/><stop offset="0.9192" stop-color="#fd00f3"/><stop offset="0.9226" stop-color="#f300ff"/><stop offset="0.936" stop-color="#8400ff"/><stop offset="0.9461" stop-color="#1300ff"/><stop offset="0.9495" stop-color="#0019ff"/><stop offset="0.9596" stop-color="#00b1ff"/><stop offset="0.963" stop-color="#00ebff"/><stop offset="0.9663" stop-color="#00ffd6"/><stop offset="0.9764" stop-color="#02ff0b"/><stop offset="0.9798" stop-color="#40ff00"/><stop offset="0.9865" stop-color="#d7ff00"/><stop offset="0.9899" stop-color="#ffdc00"/><stop offset="0.9966" stop-color="#ff5400"/><stop offset="1" stop-color="#ff2600"/></linearGradient><linearGradient id="g60"><stop offset="0" stop-color="#ff3400"/><stop offset="0.0034" stop-color="#ff5500"/><stop offset="0.0067" stop-color="#ff9100"/><stop offset="0.0101" stop-color="#ffda00"/><stop offset="0.0135" stop-color="#d3ff00"/><stop offset="0.0202" stop-color="#25ff00"/><stop offset="0.0236" stop-color="#00ff33"/><stop offset="0.0303" stop-color="#00ffdc"/><stop offset="0.0337" stop-color="#00d4ff"/><stop offset="0.0404" stop-color="#0045ff"/><stop offset="0.0438" stop-color="#0309ff"/><stop offset="0.0505" stop-color="#6900ff"/><stop offset="0.0606" stop-color="#ea00ff"/><stop offset="0.064" stop-color="#fe00f1"/><stop offset="0.0741" stop-color="#ff00a3"/><stop offset="0.0875" stop-color="#ff0063"/><stop offset="0.0976" stop-color="#ff0050"/><stop offset="0.1212" stop-color="#ff005f"/><stop offset="0.1515" stop-color="#ff007a"/><stop offset="0.1751" stop-color="#ff0070"/><stop offset="0.2256" stop-color="#ff0023"/><stop offset="0.2593" stop-color="#ff0079"/><stop offset="0.2862" stop-color="#ff00b2"/><stop offset="0.3064" stop-color="#ff00bc"/><stop offset="0.33" stop-color="#ff00a0"/><stop offset="0.3805" stop-color="#ff0023"/><stop offset="0.431" stop-color="#ff0078"/><stop offset="0.4545" stop-color="#ff0080"/><stop offset="0.4815" stop-color="#ff005e"/><stop offset="0.5118" stop-color="#ff0025"/><stop offset="0.5253" stop-color="#ff0030"/><stop offset="0.5724" stop-color="#ff007a"/><stop offset="0.5993" stop-color="#ff0087"/><stop offset="0.6296" stop-color="#ff006d"/><stop offset="0.6768" stop-color="#ff0023"/><stop offset="0.7508" stop-color="#ff003d"/><stop offset="0.8249" stop-color="#ff0028"/><stop offset="0.8653" stop-color="#ff0048"/><stop offset="0.8923" stop-color="#ff007a"/><stop offset="0.9091" stop-color="#ff00b6"/><stop offset="0.9226" stop-color="#fa00fa"/><stop offset="0.9293" stop-color="#cd00ff"/><stop offset="0.9394" stop-color="#7100ff"/><stop offset="0.9461" stop-color="#2500ff"/><stop offset="0.9495" stop-color="#030aff"/><stop offset="0.9562" stop-color="#0067ff"/><stop offset="0.963" stop-color="#00d7ff"/><stop offset="0.9663" stop-color="#00ffea"/><stop offset="0.9764" stop-color="#00ff1e"/><stop offset="0.9798" stop-color="#2cff00"/><stop offset="0.9865" stop-color="#c4ff00"/><stop offset="0.9899" stop-color="#ffef00"/><stop offset="0.9966" stop-color="#ff6500"/><stop offset="1" stop-color="#ff3600"/></linearGradient><linearGradient id="g61"><stop offset="0" stop-color="#ff4300"/><stop offset="0.0034" stop-color="#ff6500"/><stop offset="0.0067" stop-color="#ffa200"/><stop offset="0.0101" stop-color="#ffec00"/><stop offset="0.0135" stop-color="#bfff00"/><stop offset="0.0202" stop-color="#0eff00"/><stop offset="0.0236" stop-color="#00ff4b"/><stop offset="0.0303" stop-color="#00fff5"/><stop offset="0.0337" stop-color="#00bbff"/><stop offset="0.0404" stop-color="#002dff"/><stop offset="0.0438" stop-color="#1200ff"/><stop offset="0.0505" stop-color="#7e00ff"/><stop offset="0.0572" stop-color="#d600ff"/><stop offset="0.0606" stop-color="#f800fc"/><stop offset="0.0707" stop-color="#ff00ad"/><stop offset="0.0808" stop-color="#ff0075"/><stop offset="0.0909" stop-color="#ff0052"/><stop offset="0.1044" stop-color="#ff004d"/><stop offset="0.1515" stop-color="#ff007c"/><stop offset="0.1751" stop-color="#ff0073"/><stop offset="0.2256" stop-color="#ff0022"/><stop offset="0.2492" stop-color="#ff005b"/><stop offset="0.2795" stop-color="#ff00a8"/><stop offset="0.2997" stop-color="#ff00bf"/><stop offset="0.3199" stop-color="#ff00b4"/><stop offset="0.3468" stop-color="#ff007b"/><stop offset="0.3805" stop-color="#ff0024"/><stop offset="0.3973" stop-color="#ff003c"/><stop offset="0.431" stop-color="#ff0078"/><stop offset="0.4545" stop-color="#ff0081"/><stop offset="0.4815" stop-color="#ff0060"/><stop offset="0.5152" stop-color="#ff0023"/><stop offset="0.5791" stop-color="#ff007d"/><stop offset="0.6061" stop-color="#ff0083"/><stop offset="0.6364" stop-color="#ff0065"/><stop offset="0.6801" stop-color="#ff0023"/><stop offset="0.7542" stop-color="#ff003d"/><stop offset="0.8283" stop-color="#ff0028"/><stop offset="0.8687" stop-color="#ff0049"/><stop offset="0.8923" stop-color="#ff0075"/><stop offset="0.9091" stop-color="#ff00ad"/><stop offset="0.9226" stop-color="#fd00f2"/><stop offset="0.9259" stop-color="#f300ff"/><stop offset="0.936" stop-color="#a100ff"/><stop offset="0.9461" stop-color="#3600ff"/><stop offset="0.9495" stop-color="#0b00ff"/><stop offset="0.9529" stop-color="#0023ff"/><stop offset="0.963" stop-color="#00c3ff"/><stop offset="0.9663" stop-color="#00fffe"/><stop offset="0.9764" stop-color="#00ff32"/><stop offset="0.9798" stop-color="#18ff00"/><stop offset="0.9899" stop-color="#f9fb00"/><stop offset="0.9966" stop-color="#ff7600"/><stop offset="1" stop-color="#ff4600"/></linearGradient><linearGradient id="g62"><stop offset="0" stop-color="#ff5200"/><stop offset="0.0034" stop-color="#ff7500"/><stop offset="0.0101" stop-color="#fafa00"/><stop offset="0.0168" stop-color="#51ff00"/><stop offset="0.0202" stop-color="#02ff0c"/><stop offset="0.0269" stop-color="#00ffbb"/><stop offset="0.0303" stop-color="#00f0ff"/><stop offset="0.037" stop-color="#0059ff"/><stop offset="0.0404" stop-color="#0015ff"/><stop offset="0.0438" stop-color="#2900ff"/><stop offset="0.0505" stop-color="#9300ff"/><stop offset="0.0572" stop-color="#e800ff"/><stop offset="0.0606" stop-color="#fe00f2"/><stop offset="0.0707" stop-color="#ff00a1"/><stop offset="0.0808" stop-color="#ff006c"/><stop offset="0.0909" stop-color="#ff004c"/><stop offset="0.1077" stop-color="#ff004d"/><stop offset="0.1481" stop-color="#ff007c"/><stop offset="0.1717" stop-color="#ff0078"/><stop offset="0.2054" stop-color="#ff0044"/><stop offset="0.2256" stop-color="#ff0023"/><stop offset="0.2424" stop-color="#ff0047"/><stop offset="0.2795" stop-color="#ff00a9"/><stop offset="0.2997" stop-color="#ff00c1"/><stop offset="0.3199" stop-color="#ff00b8"/><stop offset="0.3434" stop-color="#ff0088"/><stop offset="0.3805" stop-color="#ff0025"/><stop offset="0.3906" stop-color="#ff002e"/><stop offset="0.431" stop-color="#ff0078"/><stop offset="0.4545" stop-color="#ff0082"/><stop offset="0.4781" stop-color="#ff0068"/><stop offset="0.5152" stop-color="#ff0023"/><stop offset="0.5791" stop-color="#ff0079"/><stop offset="0.6094" stop-color="#ff0080"/><stop offset="0.6431" stop-color="#ff005d"/><stop offset="0.6835" stop-color="#ff0022"/><stop offset="0.7542" stop-color="#ff003e"/><stop offset="0.8316" stop-color="#ff0028"/><stop offset="0.8721" stop-color="#ff004a"/><stop offset="0.8956" stop-color="#ff0078"/><stop offset="0.9125" stop-color="#ff00b3"/><stop offset="0.9259" stop-color="#fa00f9"/><stop offset="0.9327" stop-color="#cd00ff"/><stop offset="0.9428" stop-color="#6d00ff"/><stop offset="0.9495" stop-color="#1d00ff"/><stop offset="0.9529" stop-color="#0010ff"/><stop offset="0.963" stop-color="#00afff"/><stop offset="0.9663" stop-color="#00ebff"/><stop offset="0.9697" stop-color="#00ffd2"/><stop offset="0.9798" stop-color="#06ff03"/><stop offset="0.9899" stop-color="#eaff00"/><stop offset="0.9933" stop-color="#ffca00"/><stop offset="0.9966" stop-color="#ff8700"/><stop offset="1" stop-color="#ff5700"/></linearGradient><linearGradient id="g63"><stop offset="0" stop-color="#ff6100"/><stop offset="0.0034" stop-color="#ff8500"/><stop offset="0.0067" stop-color="#ffc500"/><stop offset="0.0101" stop-color="#ebff00"/><stop offset="0.0168" stop-color="#3aff00"/><stop offset="0.0202" stop-color="#00ff22"/><stop offset="0.0269" stop-color="#00ffd4"/><stop offset="0.0303" stop-color="#00d6ff"/><stop offset="0.037" stop-color="#0040ff"/><stop offset="0.0404" stop-color="#0603ff"/><stop offset="0.0505" stop-color="#a700ff"/><stop offset="0.0572" stop-color="#f800fe"/><stop offset="0.0673" stop-color="#ff00ac"/><stop offset="0.0774" stop-color="#ff0072"/><stop offset="0.0909" stop-color="#ff0046"/><stop offset="0.1077" stop-color="#ff004b"/><stop offset="0.1481" stop-color="#ff007e"/><stop offset="0.1717" stop-color="#ff007b"/><stop offset="0.202" stop-color="#ff004d"/><stop offset="0.2256" stop-color="#ff0024"/><stop offset="0.2391" stop-color="#ff003b"/><stop offset="0.2795" stop-color="#ff00a9"/><stop offset="0.2997" stop-color="#ff00c3"/><stop offset="0.3199" stop-color="#ff00bb"/><stop offset="0.3434" stop-color="#ff008b"/><stop offset="0.3805" stop-color="#ff0026"/><stop offset="0.3872" stop-color="#ff0027"/><stop offset="0.431" stop-color="#ff0078"/><stop offset="0.4545" stop-color="#ff0083"/><stop offset="0.4781" stop-color="#ff0069"/><stop offset="0.5152" stop-color="#ff0023"/><stop offset="0.5589" stop-color="#ff005e"/><stop offset="0.5926" stop-color="#ff007e"/><stop offset="0.6229" stop-color="#ff0075"/><stop offset="0.6869" stop-color="#ff0022"/><stop offset="0.7576" stop-color="#ff003e"/><stop offset="0.835" stop-color="#ff0028"/><stop offset="0.8754" stop-color="#ff004b"/><stop offset="0.899" stop-color="#ff007b"/><stop offset="0.9158" stop-color="#ff00ba"/><stop offset="0.9259" stop-color="#fe00f2"/><stop offset="0.9293" stop-color="#f400ff"/><stop offset="0.9394" stop-color="#9f00ff"/><stop offset="0.9529" stop-color="#0604ff"/><stop offset="0.9596" stop-color="#0062ff"/><stop offset="0.9663" stop-color="#00d7ff"/><stop offset="0.9697" stop-color="#00ffe7"/><stop offset="0.9798" stop-color="#00ff11"/><stop offset="0.9832" stop-color="#3cff00"/><stop offset="0.9899" stop-color="#d7ff00"/><stop offset="0.9933" stop-color="#ffdc00"/><stop offset="0.9966" stop-color="#ff9800"/><stop offset="1" stop-color="#ff6700"/></linearGradient><linearGradient id="g64"><stop offset="0" stop-color="#ff7000"/><stop offset="0.0034" stop-color="#ff9500"/><stop offset="0.0067" stop-color="#ffd600"/><stop offset="0.0101" stop-color="#d8ff00"/><stop offset="0.0168" stop-color="#23ff00"/><stop offset="0.0202" stop-color="#00ff3a"/><stop offset="0.0269" stop-color="#00ffee"/><stop offset="0.0303" stop-color="#00bcff"/><stop offset="0.037" stop-color="#0027ff"/><stop offset="0.0404" stop-color="#1b00ff"/><stop offset="0.0471" stop-color="#8c00ff"/><stop offset="0.0539" stop-color="#e500ff"/><stop offset="0.0572" stop-color="#fd00f2"/><stop offset="0.0673" stop-color="#ff009f"/><stop offset="0.0774" stop-color="#ff0069"/><stop offset="0.0909" stop-color="#ff0041"/><stop offset="0.1077" stop-color="#ff0049"/><stop offset="0.1481" stop-color="#ff007f"/><stop offset="0.1717" stop-color="#ff007d"/><stop offset="0.202" stop-color="#ff004f"/><stop offset="0.2256" stop-color="#ff0024"/><stop offset="0.2323" stop-color="#ff0029"/><stop offset="0.2795" stop-color="#ff00a9"/><stop offset="0.2997" stop-color="#ff00c5"/><stop offset="0.3199" stop-color="#ff00be"/><stop offset="0.3434" stop-color="#ff008f"/><stop offset="0.3805" stop-color="#ff0028"/><stop offset="0.3872" stop-color="#ff0026"/><stop offset="0.4343" stop-color="#ff007c"/><stop offset="0.4579" stop-color="#ff0083"/><stop offset="0.4848" stop-color="#ff005e"/><stop offset="0.5152" stop-color="#ff0024"/><stop offset="0.5455" stop-color="#ff0047"/><stop offset="0.5859" stop-color="#ff0077"/><stop offset="0.6162" stop-color="#ff0079"/><stop offset="0.6532" stop-color="#ff0051"/><stop offset="0.6902" stop-color="#ff0023"/><stop offset="0.7609" stop-color="#ff003f"/><stop offset="0.8384" stop-color="#ff0028"/><stop offset="0.8788" stop-color="#ff004d"/><stop offset="0.9024" stop-color="#ff007f"/><stop offset="0.9192" stop-color="#ff00c1"/><stop offset="0.9293" stop-color="#fa00f9"/><stop offset="0.936" stop-color="#cc00ff"/><stop offset="0.9461" stop-color="#6800ff"/><stop offset="0.9529" stop-color="#1500ff"/><stop offset="0.9562" stop-color="#001bff"/><stop offset="0.9663" stop-color="#00c2ff"/><stop offset="0.9697" stop-color="#00fffc"/><stop offset="0.9798" stop-color="#00ff26"/><stop offset="0.9832" stop-color="#27ff00"/><stop offset="0.9899" stop-color="#c4ff00"/><stop offset="0.9933" stop-color="#ffee00"/><stop offset="0.9966" stop-color="#ffa900"/><stop offset="1" stop-color="#ff7800"/></linearGradient><linearGradient id="g65"><stop offset="0" stop-color="#ff7f00"/><stop offset="0.0034" stop-color="#ffa500"/><stop offset="0.0067" stop-color="#ffe800"/><stop offset="0.0101" stop-color="#c4ff00"/><stop offset="0.0168" stop-color="#0cff00"/><stop offset="0.0202" stop-color="#00ff53"/><stop offset="0.0236" stop-color="#00ffaf"/><stop offset="0.0269" stop-color="#00f6ff"/><stop offset="0.0337" stop-color="#0055ff"/><stop offset="0.037" stop-color="#010eff"/><stop offset="0.0404" stop-color="#3300ff"/><stop offset="0.0471" stop-color="#a100ff"/><stop offset="0.0539" stop-color="#f700ff"/><stop offset="0.0606" stop-color="#ff00c5"/><stop offset="0.0707" stop-color="#ff0080"/><stop offset="0.0842" stop-color="#ff004b"/><stop offset="0.0943" stop-color="#ff003c"/><stop offset="0.1178" stop-color="#ff0058"/><stop offset="0.1481" stop-color="#ff0081"/><stop offset="0.1717" stop-color="#ff0080"/><stop offset="0.202" stop-color="#ff0052"/><stop offset="0.229" stop-color="#ff0023"/><stop offset="0.2525" stop-color="#ff005f"/><stop offset="0.2828" stop-color="#ff00b1"/><stop offset="0.303" stop-color="#ff00c8"/><stop offset="0.3232" stop-color="#ff00bd"/><stop offset="0.3468" stop-color="#ff0089"/><stop offset="0.3805" stop-color="#ff0029"/><stop offset="0.3872" stop-color="#ff0025"/><stop offset="0.4343" stop-color="#ff007c"/><stop offset="0.4579" stop-color="#ff0084"/><stop offset="0.4815" stop-color="#ff0066"/><stop offset="0.5152" stop-color="#ff0024"/><stop offset="0.5387" stop-color="#ff003b"/><stop offset="0.5859" stop-color="#ff0073"/><stop offset="0.6162" stop-color="#ff0077"/><stop offset="0.6532" stop-color="#ff0053"/><stop offset="0.6902" stop-color="#ff0023"/><stop offset="0.7643" stop-color="#ff0040"/><stop offset="0.8384" stop-color="#ff0027"/><stop offset="0.8788" stop-color="#ff0049"/><stop offset="0.9024" stop-color="#ff0079"/><stop offset="0.9192" stop-color="#ff00b8"/><stop offset="0.9293" stop-color="#fe00f1"/><stop offset="0.9327" stop-color="#f400ff"/><stop offset="0.9428" stop-color="#9c00ff"/><stop offset="0.9529" stop-color="#2700ff"/><stop offset="0.9562" stop-color="#030bff"/><stop offset="0.963" stop-color="#0072ff"/><stop offset="0.9697" stop-color="#00edff"/><stop offset="0.9731" stop-color="#00ffcd"/><stop offset="0.9798" stop-color="#00ff3a"/><stop offset="0.9832" stop-color="#13ff00"/><stop offset="0.9933" stop-color="#f9fa00"/><stop offset="0.9966" stop-color="#ffba00"/><stop offset="1" stop-color="#ff8800"/></linearGradient><linearGradient id="g66"><stop offset="0" stop-color="#ff8e00"/><stop offset="0.0034" stop-color="#ffb500"/><stop offset="0.0067" stop-color="#fbf600"/><stop offset="0.0101" stop-color="#b0ff00"/><stop offset="0.0135" stop-color="#54ff00"/><stop offset="0.0168" stop-color="#01ff0d"/><stop offset="0.0236" stop-color="#00ffc9"/><stop offset="0.0269" stop-color="#00dbff"/><stop offset="0.0337" stop-color="#003bff"/><stop offset="0.037" stop-color="#0c00ff"/><stop offset="0.0438" stop-color="#8400ff"/><stop offset="0.0505" stop-color="#e200ff"/><stop offset="0.0539" stop-color="#fd00f3"/><stop offset="0.064" stop-color="#ff009e"/><stop offset="0.0741" stop-color="#ff0067"/><stop offset="0.0875" stop-color="#ff003e"/><stop offset="0.0976" stop-color="#ff003a"/><stop offset="0.1481" stop-color="#ff0083"/><stop offset="0.1717" stop-color="#ff0082"/><stop offset="0.202" stop-color="#ff0054"/><stop offset="0.229" stop-color="#ff0023"/><stop offset="0.2458" stop-color="#ff0049"/><stop offset="0.2795" stop-color="#ff00aa"/><stop offset="0.2997" stop-color="#ff00c8"/><stop offset="0.3199" stop-color="#ff00c4"/><stop offset="0.3434" stop-color="#ff0096"/><stop offset="0.3805" stop-color="#ff002b"/><stop offset="0.3872" stop-color="#ff0024"/><stop offset="0.4343" stop-color="#ff007c"/><stop offset="0.4579" stop-color="#ff0085"/><stop offset="0.4815" stop-color="#ff0068"/><stop offset="0.5152" stop-color="#ff0025"/><stop offset="0.532" stop-color="#ff0030"/><stop offset="0.5859" stop-color="#ff0070"/><stop offset="0.6195" stop-color="#ff0074"/><stop offset="0.6599" stop-color="#ff004c"/><stop offset="0.6936" stop-color="#ff0023"/><stop offset="0.7677" stop-color="#ff0040"/><stop offset="0.8418" stop-color="#ff0027"/><stop offset="0.8822" stop-color="#ff004b"/><stop offset="0.9057" stop-color="#ff007c"/><stop offset="0.9226" stop-color="#ff00bf"/><stop offset="0.9327" stop-color="#fa00f8"/><stop offset="0.9394" stop-color="#cb00ff"/><stop offset="0.9495" stop-color="#6300ff"/><stop offset="0.9562" stop-color="#0b00ff"/><stop offset="0.9596" stop-color="#0027ff"/><stop offset="0.9697" stop-color="#00d8ff"/><stop offset="0.9731" stop-color="#00ffe2"/><stop offset="0.9832" stop-color="#05ff06"/><stop offset="0.9933" stop-color="#ecff00"/><stop offset="0.9966" stop-color="#ffcb00"/><stop offset="1" stop-color="#ff9900"/></linearGradient><linearGradient id="g67"><stop offset="0" stop-color="#ff9d00"/><stop offset="0.0034" stop-color="#ffc500"/><stop offset="0.0067" stop-color="#f2ff00"/><stop offset="0.0135" stop-color="#3eff00"/><stop offset="0.0168" stop-color="#00ff24"/><stop offset="0.0236" stop-color="#00ffe4"/><stop offset="0.0269" stop-color="#00c0ff"/><stop offset="0.0337" stop-color="#0021ff"/><stop offset="0.037" stop-color="#2500ff"/><stop offset="0.0438" stop-color="#9a00ff"/><stop offset="0.0505" stop-color="#f500ff"/><stop offset="0.0572" stop-color="#ff00c4"/><stop offset="0.0673" stop-color="#ff007e"/><stop offset="0.0808" stop-color="#ff0049"/><stop offset="0.0909" stop-color="#ff0035"/><stop offset="0.1111" stop-color="#ff004b"/><stop offset="0.1448" stop-color="#ff0082"/><stop offset="0.1684" stop-color="#ff0087"/><stop offset="0.1953" stop-color="#ff0064"/><stop offset="0.229" stop-color="#ff0024"/><stop offset="0.2391" stop-color="#ff0034"/><stop offset="0.2828" stop-color="#ff00b1"/><stop offset="0.303" stop-color="#ff00cc"/><stop offset="0.3232" stop-color="#ff00c4"/><stop offset="0.3468" stop-color="#ff0090"/><stop offset="0.3838" stop-color="#ff0025"/><stop offset="0.3939" stop-color="#ff002e"/><stop offset="0.4343" stop-color="#ff007c"/><stop offset="0.4579" stop-color="#ff0086"/><stop offset="0.4815" stop-color="#ff006a"/><stop offset="0.5185" stop-color="#ff0022"/><stop offset="0.5892" stop-color="#ff006f"/><stop offset="0.6229" stop-color="#ff0071"/><stop offset="0.6667" stop-color="#ff0045"/><stop offset="0.697" stop-color="#ff0023"/><stop offset="0.7677" stop-color="#ff0041"/><stop offset="0.8451" stop-color="#ff0027"/><stop offset="0.8855" stop-color="#ff004c"/><stop offset="0.9091" stop-color="#ff0080"/><stop offset="0.9259" stop-color="#ff00c7"/><stop offset="0.9327" stop-color="#fe00f0"/><stop offset="0.936" stop-color="#f500ff"/><stop offset="0.9461" stop-color="#9900ff"/><stop offset="0.9562" stop-color="#1d00ff"/><stop offset="0.9596" stop-color="#0014ff"/><stop offset="0.9697" stop-color="#00c3ff"/><stop offset="0.9731" stop-color="#00fff7"/><stop offset="0.9832" stop-color="#00ff16"/><stop offset="0.9865" stop-color="#3bff00"/><stop offset="0.9933" stop-color="#daff00"/><stop offset="0.9966" stop-color="#ffdd00"/><stop offset="1" stop-color="#ffa900"/></linearGradient><linearGradient id="g68"><stop offset="0" stop-color="#ffab00"/><stop offset="0.0034" stop-color="#ffd500"/><stop offset="0.0067" stop-color="#e0ff00"/><stop offset="0.0135" stop-color="#27ff00"/><stop offset="0.0168" stop-color="#00ff3d"/><stop offset="0.0236" stop-color="#00ffff"/><stop offset="0.0303" stop-color="#0052ff"/><stop offset="0.0337" stop-color="#030aff"/><stop offset="0.0404" stop-color="#7b00ff"/><stop offset="0.0471" stop-color="#df00ff"/><stop offset="0.0505" stop-color="#fd00f4"/><stop offset="0.0606" stop-color="#ff009c"/><stop offset="0.0707" stop-color="#ff0064"/><stop offset="0.0842" stop-color="#ff003c"/><stop offset="0.0943" stop-color="#ff0033"/><stop offset="0.1481" stop-color="#ff0086"/><stop offset="0.1717" stop-color="#ff0087"/><stop offset="0.1987" stop-color="#ff0060"/><stop offset="0.229" stop-color="#ff0025"/><stop offset="0.2357" stop-color="#ff002a"/><stop offset="0.2828" stop-color="#ff00b2"/><stop offset="0.303" stop-color="#ff00ce"/><stop offset="0.3232" stop-color="#ff00c7"/><stop offset="0.3468" stop-color="#ff0094"/><stop offset="0.3838" stop-color="#ff0027"/><stop offset="0.3906" stop-color="#ff0027"/><stop offset="0.4343" stop-color="#ff007b"/><stop offset="0.4579" stop-color="#ff0087"/><stop offset="0.4815" stop-color="#ff006c"/><stop offset="0.5185" stop-color="#ff0023"/><stop offset="0.5926" stop-color="#ff006d"/><stop offset="0.6263" stop-color="#ff006d"/><stop offset="0.6734" stop-color="#ff003f"/><stop offset="0.7003" stop-color="#ff0022"/><stop offset="0.771" stop-color="#ff0041"/><stop offset="0.8485" stop-color="#ff0027"/><stop offset="0.8855" stop-color="#ff0049"/><stop offset="0.9091" stop-color="#ff0079"/><stop offset="0.9259" stop-color="#ff00bd"/><stop offset="0.936" stop-color="#fb00f8"/><stop offset="0.9394" stop-color="#e700ff"/><stop offset="0.9495" stop-color="#8500ff"/><stop offset="0.9596" stop-color="#0506ff"/><stop offset="0.9663" stop-color="#0070ff"/><stop offset="0.9731" stop-color="#00f1ff"/><stop offset="0.9764" stop-color="#00ffc5"/><stop offset="0.9832" stop-color="#00ff2b"/><stop offset="0.9865" stop-color="#26ff00"/><stop offset="0.9933" stop-color="#c7ff00"/><stop offset="0.9966" stop-color="#ffee00"/><stop offset="1" stop-color="#ffba00"/></linearGradient><linearGradient id="g69"><stop offset="0" stop-color="#ffba00"/><stop offset="0.0034" stop-color="#ffe600"/><stop offset="0.0067" stop-color="#cdff00"/><stop offset="0.0135" stop-color="#10ff00"/><stop offset="0.0168" stop-color="#00ff56"/><stop offset="0.0202" stop-color="#00ffba"/><stop offset="0.0236" stop-color="#00e4ff"/><stop offset="0.0303" stop-color="#0037ff"/><stop offset="0.0337" stop-color="#1400ff"/><stop offset="0.0404" stop-color="#9200ff"/><stop offset="0.0471" stop-color="#f300ff"/><stop offset="0.0505" stop-color="#ff00e4"/><stop offset="0.0606" stop-color="#ff008f"/><stop offset="0.0707" stop-color="#ff005c"/><stop offset="0.0875" stop-color="#ff0032"/><stop offset="0.101" stop-color="#ff0039"/><stop offset="0.1448" stop-color="#ff0085"/><stop offset="0.1684" stop-color="#ff008c"/><stop offset="0.1953" stop-color="#ff0069"/><stop offset="0.2323" stop-color="#ff0023"/><stop offset="0.2525" stop-color="#ff0058"/><stop offset="0.2828" stop-color="#ff00b2"/><stop offset="0.303" stop-color="#ff00d0"/><stop offset="0.3232" stop-color="#ff00ca"/><stop offset="0.3468" stop-color="#ff0098"/><stop offset="0.3838" stop-color="#ff0028"/><stop offset="0.3906" stop-color="#ff0026"/><stop offset="0.4377" stop-color="#ff007f"/><stop offset="0.4579" stop-color="#ff0088"/><stop offset="0.4815" stop-color="#ff006d"/><stop offset="0.5185" stop-color="#ff0023"/><stop offset="0.596" stop-color="#ff006b"/><stop offset="0.633" stop-color="#ff0068"/><stop offset="0.7037" stop-color="#ff0022"/><stop offset="0.7744" stop-color="#ff0042"/><stop offset="0.8519" stop-color="#ff0027"/><stop offset="0.8889" stop-color="#ff004a"/><stop offset="0.9125" stop-color="#ff007d"/><stop offset="0.9259" stop-color="#ff00b3"/><stop offset="0.936" stop-color="#ff00ef"/><stop offset="0.9394" stop-color="#f500ff"/><stop offset="0.9495" stop-color="#9500ff"/><stop offset="0.9596" stop-color="#1300ff"/><stop offset="0.963" stop-color="#0022ff"/><stop offset="0.9731" stop-color="#00dcff"/><stop offset="0.9764" stop-color="#00ffdb"/><stop offset="0.9832" stop-color="#00ff40"/><stop offset="0.9865" stop-color="#12ff00"/><stop offset="0.9933" stop-color="#b5ff00"/><stop offset="0.9966" stop-color="#fafa00"/><stop offset="1" stop-color="#ffca00"/></linearGradient><linearGradient id="g70"><stop offset="0" stop-color="#ffc900"/><stop offset="0.0034" stop-color="#fdf400"/><stop offset="0.0067" stop-color="#baff00"/><stop offset="0.0101" stop-color="#5dff00"/><stop offset="0.0135" stop-color="#03ff0b"/><stop offset="0.0202" stop-color="#00ffd5"/><stop offset="0.0236" stop-color="#00c8ff"/><stop offset="0.0303" stop-color="#001bff"/><stop offset="0.0337" stop-color="#2f00ff"/><stop offset="0.0404" stop-color="#aa00ff"/><stop offset="0.0438" stop-color="#dc00ff"/><stop offset="0.0471" stop-color="#fc00f5"/><stop offset="0.0572" stop-color="#ff009a"/><stop offset="0.0673" stop-color="#ff0062"/><stop offset="0.0808" stop-color="#ff003a"/><stop offset="0.0909" stop-color="#ff002c"/><stop offset="0.1145" stop-color="#ff0052"/><stop offset="0.1448" stop-color="#ff0087"/><stop offset="0.1684" stop-color="#ff008e"/><stop offset="0.1919" stop-color="#ff0072"/><stop offset="0.2323" stop-color="#ff0023"/><stop offset="0.2492" stop-color="#ff004b"/><stop offset="0.2828" stop-color="#ff00b2"/><stop offset="0.303" stop-color="#ff00d2"/><stop offset="0.3232" stop-color="#ff00cd"/><stop offset="0.3434" stop-color="#ff00a5"/><stop offset="0.3838" stop-color="#ff002a"/><stop offset="0.3906" stop-color="#ff0025"/><stop offset="0.4377" stop-color="#ff007f"/><stop offset="0.4579" stop-color="#ff0089"/><stop offset="0.4815" stop-color="#ff006f"/><stop offset="0.5185" stop-color="#ff0024"/><stop offset="0.5589" stop-color="#ff0049"/><stop offset="0.6027" stop-color="#ff006b"/><stop offset="0.6397" stop-color="#ff0063"/><stop offset="0.7071" stop-color="#ff0023"/><stop offset="0.7744" stop-color="#ff0042"/><stop offset="0.8283" stop-color="#ff002f"/><stop offset="0.8552" stop-color="#ff0028"/><stop offset="0.8923" stop-color="#ff004c"/><stop offset="0.9125" stop-color="#ff0077"/><stop offset="0.9293" stop-color="#ff00bb"/><stop offset="0.9394" stop-color="#fb00f8"/><stop offset="0.9428" stop-color="#e700ff"/><stop offset="0.9529" stop-color="#8000ff"/><stop offset="0.9596" stop-color="#2600ff"/><stop offset="0.963" stop-color="#010eff"/><stop offset="0.9697" stop-color="#0084ff"/><stop offset="0.9731" stop-color="#00c6ff"/><stop offset="0.9764" stop-color="#00fff0"/><stop offset="0.9865" stop-color="#05ff07"/><stop offset="0.9966" stop-color="#edff00"/><stop offset="1" stop-color="#ffdb00"/></linearGradient><linearGradient id="g71"><stop offset="0" stop-color="#ffd800"/><stop offset="0.0034" stop-color="#f7ff00"/><stop offset="0.0067" stop-color="#a7ff00"/><stop offset="0.0101" stop-color="#47ff00"/><stop offset="0.0135" stop-color="#00ff20"/><stop offset="0.0202" stop-color="#00fff0"/><stop offset="0.0236" stop-color="#00acff"/><stop offset="0.0269" stop-color="#0051ff"/><stop offset="0.0303" stop-color="#0505ff"/><stop offset="0.037" stop-color="#8900ff"/><stop offset="0.0438" stop-color="#f100ff"/><stop offset="0.0471" stop-color="#ff00e5"/><stop offset="0.0539" stop-color="#ff00a5"/><stop offset="0.064" stop-color="#ff0068"/><stop offset="0.0774" stop-color="#ff003d"/><stop offset="0.0909" stop-color="#ff002a"/><stop offset="0.1145" stop-color="#ff0052"/><stop offset="0.1448" stop-color="#ff0088"/><stop offset="0.1684" stop-color="#ff0091"/><stop offset="0.1919" stop-color="#ff0075"/><stop offset="0.2323" stop-color="#ff0024"/><stop offset="0.2424" stop-color="#ff0035"/><stop offset="0.2828" stop-color="#ff00b2"/><stop offset="0.303" stop-color="#ff00d4"/><stop offset="0.3232" stop-color="#ff00d0"/><stop offset="0.3434" stop-color="#ff00a9"/><stop offset="0.3872" stop-color="#ff0025"/><stop offset="0.3973" stop-color="#ff002f"/><stop offset="0.4377" stop-color="#ff007f"/><stop offset="0.4579" stop-color="#ff008a"/><stop offset="0.4815" stop-color="#ff0071"/><stop offset="0.5185" stop-color="#ff0025"/><stop offset="0.5488" stop-color="#ff003c"/><stop offset="0.5993" stop-color="#ff0066"/><stop offset="0.6364" stop-color="#ff0064"/><stop offset="0.7104" stop-color="#ff0023"/><stop offset="0.7778" stop-color="#ff0043"/><stop offset="0.8316" stop-color="#ff002e"/><stop offset="0.8586" stop-color="#ff0028"/><stop offset="0.8956" stop-color="#ff004d"/><stop offset="0.9158" stop-color="#ff007a"/><stop offset="0.9293" stop-color="#ff00b1"/><stop offset="0.9394" stop-color="#ff00ef"/><stop offset="0.9428" stop-color="#f500ff"/><stop offset="0.9529" stop-color="#9100ff"/><stop offset="0.963" stop-color="#0701ff"/><stop offset="0.9663" stop-color="#0031ff"/><stop offset="0.9731" stop-color="#00b1ff"/><stop offset="0.9764" stop-color="#00f8ff"/><stop offset="0.9798" stop-color="#00ffba"/><stop offset="0.9865" stop-color="#00ff17"/><stop offset="0.9899" stop-color="#3dff00"/><stop offset="0.9966" stop-color="#dcff00"/><stop offset="1" stop-color="#ffeb00"/></linearGradient><linearGradient id="g72"><stop offset="0" stop-color="#ffe700"/><stop offset="0.0034" stop-color="#e7ff00"/><stop offset="0.0067" stop-color="#94ff00"/><stop offset="0.0101" stop-color="#31ff00"/><stop offset="0.0135" stop-color="#00ff39"/><stop offset="0.0168" stop-color="#00ffa4"/><stop offset="0.0202" stop-color="#00f2ff"/><stop offset="0.0269" stop-color="#0035ff"/><stop offset="0.0303" stop-color="#1c00ff"/><stop offset="0.037" stop-color="#a200ff"/><stop offset="0.0404" stop-color="#d800ff"/><stop offset="0.0438" stop-color="#fc00f6"/><stop offset="0.0539" stop-color="#ff0097"/><stop offset="0.064" stop-color="#ff0060"/><stop offset="0.0774" stop-color="#ff0039"/><stop offset="0.0909" stop-color="#ff0029"/><stop offset="0.1178" stop-color="#ff005a"/><stop offset="0.1481" stop-color="#ff008e"/><stop offset="0.1717" stop-color="#ff0091"/><stop offset="0.1987" stop-color="#ff006b"/><stop offset="0.2323" stop-color="#ff0025"/><stop offset="0.2391" stop-color="#ff002a"/><stop offset="0.2862" stop-color="#ff00ba"/><stop offset="0.3064" stop-color="#ff00d8"/><stop offset="0.3266" stop-color="#ff00cf"/><stop offset="0.3502" stop-color="#ff0099"/><stop offset="0.3872" stop-color="#ff0026"/><stop offset="0.3939" stop-color="#ff0028"/><stop offset="0.4377" stop-color="#ff007f"/><stop offset="0.4579" stop-color="#ff008b"/><stop offset="0.4815" stop-color="#ff0072"/><stop offset="0.5219" stop-color="#ff0023"/><stop offset="0.5993" stop-color="#ff0063"/><stop offset="0.6397" stop-color="#ff0060"/><stop offset="0.7138" stop-color="#ff0023"/><stop offset="0.7811" stop-color="#ff0044"/><stop offset="0.8316" stop-color="#ff0030"/><stop offset="0.8586" stop-color="#ff0026"/><stop offset="0.8956" stop-color="#ff004a"/><stop offset="0.9158" stop-color="#ff0074"/><stop offset="0.9293" stop-color="#ff00a7"/><stop offset="0.9428" stop-color="#fb00f7"/><stop offset="0.9461" stop-color="#e600ff"/><stop offset="0.9562" stop-color="#7900ff"/><stop offset="0.963" stop-color="#1a00ff"/><stop offset="0.9663" stop-color="#001dff"/><stop offset="0.9731" stop-color="#009bff"/><stop offset="0.9764" stop-color="#00e2ff"/><stop offset="0.9798" stop-color="#00ffd0"/><stop offset="0.9865" stop-color="#00ff2c"/><stop offset="0.9899" stop-color="#2aff00"/><stop offset="0.9966" stop-color="#cbff00"/><stop offset="1" stop-color="#fbf700"/></linearGradient><linearGradient id="g73"><stop offset="0" stop-color="#fbf800"/><stop offset="0.0034" stop-color="#d1ff00"/><stop offset="0.0067" stop-color="#7dff00"/><stop offset="0.0101" stop-color="#19ff00"/><stop offset="0.0135" stop-color="#00ff53"/><stop offset="0.0168" stop-color="#00ffbe"/><stop offset="0.0202" stop-color="#00d7ff"/><stop offset="0.0269" stop-color="#001cff"/><stop offset="0.0303" stop-color="#3400ff"/><stop offset="0.037" stop-color="#b500ff"/><stop offset="0.0404" stop-color="#e900ff"/><stop offset="0.0438" stop-color="#ff00ea"/><stop offset="0.0505" stop-color="#ff00a8"/><stop offset="0.0606" stop-color="#ff006a"/><stop offset="0.0741" stop-color="#ff003f"/><stop offset="0.0909" stop-color="#ff0028"/><stop offset="0.1178" stop-color="#ff005b"/><stop offset="0.1481" stop-color="#ff0091"/><stop offset="0.1717" stop-color="#ff0095"/><stop offset="0.1987" stop-color="#ff006e"/><stop offset="0.2323" stop-color="#ff0026"/><stop offset="0.2391" stop-color="#ff0029"/><stop offset="0.2862" stop-color="#ff00ba"/><stop offset="0.3064" stop-color="#ff00d9"/><stop offset="0.3266" stop-color="#ff00d2"/><stop offset="0.3468" stop-color="#ff00a7"/><stop offset="0.3872" stop-color="#ff0028"/><stop offset="0.3939" stop-color="#ff0027"/><stop offset="0.4377" stop-color="#ff007f"/><stop offset="0.4579" stop-color="#ff008b"/><stop offset="0.4815" stop-color="#ff0074"/><stop offset="0.5219" stop-color="#ff0022"/><stop offset="0.6027" stop-color="#ff0063"/><stop offset="0.6431" stop-color="#ff005f"/><stop offset="0.7172" stop-color="#ff0023"/><stop offset="0.7811" stop-color="#ff0045"/><stop offset="0.8283" stop-color="#ff0035"/><stop offset="0.862" stop-color="#ff0027"/><stop offset="0.899" stop-color="#ff004c"/><stop offset="0.9192" stop-color="#ff007a"/><stop offset="0.9327" stop-color="#ff00b1"/><stop offset="0.9428" stop-color="#fe00f0"/><stop offset="0.9461" stop-color="#f200ff"/><stop offset="0.9562" stop-color="#8800ff"/><stop offset="0.963" stop-color="#2b00ff"/><stop offset="0.9663" stop-color="#020dff"/><stop offset="0.9731" stop-color="#0088ff"/><stop offset="0.9764" stop-color="#00cfff"/><stop offset="0.9798" stop-color="#00ffe3"/><stop offset="0.9865" stop-color="#00ff3f"/><stop offset="0.9899" stop-color="#16ff00"/><stop offset="0.9966" stop-color="#b9ff00"/><stop offset="1" stop-color="#f1ff00"/></linearGradient><linearGradient id="g74"><stop offset="0" stop-color="#e7ff00"/><stop offset="0.0034" stop-color="#b6ff00"/><stop offset="0.0101" stop-color="#05ff07"/><stop offset="0.0168" stop-color="#00ffd8"/><stop offset="0.0202" stop-color="#00bfff"/><stop offset="0.0236" stop-color="#005fff"/><stop offset="0.0269" stop-color="#030aff"/><stop offset="0.0337" stop-color="#8a00ff"/><stop offset="0.0404" stop-color="#f400ff"/><stop offset="0.0438" stop-color="#ff00e1"/><stop offset="0.0505" stop-color="#ff00a3"/><stop offset="0.0606" stop-color="#ff0069"/><stop offset="0.0774" stop-color="#ff0039"/><stop offset="0.0909" stop-color="#ff0027"/><stop offset="0.1178" stop-color="#ff005d"/><stop offset="0.1448" stop-color="#ff0091"/><stop offset="0.1684" stop-color="#ff009c"/><stop offset="0.1919" stop-color="#ff0080"/><stop offset="0.2357" stop-color="#ff0022"/><stop offset="0.2559" stop-color="#ff005a"/><stop offset="0.2862" stop-color="#ff00ba"/><stop offset="0.3064" stop-color="#ff00da"/><stop offset="0.3266" stop-color="#ff00d4"/><stop offset="0.3468" stop-color="#ff00a9"/><stop offset="0.3872" stop-color="#ff0029"/><stop offset="0.3939" stop-color="#ff0026"/><stop offset="0.4377" stop-color="#ff007f"/><stop offset="0.4579" stop-color="#ff008c"/><stop offset="0.4815" stop-color="#ff0076"/><stop offset="0.5219" stop-color="#ff0023"/><stop offset="0.6027" stop-color="#ff0063"/><stop offset="0.6431" stop-color="#ff0060"/><stop offset="0.7172" stop-color="#ff0022"/><stop offset="0.7845" stop-color="#ff0047"/><stop offset="0.8316" stop-color="#ff0034"/><stop offset="0.862" stop-color="#ff0026"/><stop offset="0.899" stop-color="#ff004b"/><stop offset="0.9192" stop-color="#ff0077"/><stop offset="0.9327" stop-color="#ff00ac"/><stop offset="0.9428" stop-color="#ff00ea"/><stop offset="0.9461" stop-color="#f800fd"/><stop offset="0.9529" stop-color="#ba00ff"/><stop offset="0.963" stop-color="#3800ff"/><stop offset="0.9663" stop-color="#0603ff"/><stop offset="0.9697" stop-color="#0038ff"/><stop offset="0.9764" stop-color="#00beff"/><stop offset="0.9798" stop-color="#00fff5"/><stop offset="0.9899" stop-color="#07ff03"/><stop offset="0.9966" stop-color="#a7ff00"/><stop offset="1" stop-color="#dfff00"/></linearGradient><linearGradient id="g75"><stop offset="0" stop-color="#ccff00"/><stop offset="0.0034" stop-color="#9bff00"/><stop offset="0.0067" stop-color="#47ff00"/><stop offset="0.0101" stop-color="#00ff1d"/><stop offset="0.0168" stop-color="#00fff1"/><stop offset="0.0202" stop-color="#00a7ff"/><stop offset="0.0236" stop-color="#0048ff"/><stop offset="0.0269" stop-color="#0e00ff"/><stop offset="0.0303" stop-color="#5900ff"/><stop offset="0.037" stop-color="#d100ff"/><stop offset="0.0404" stop-color="#fa00fa"/><stop offset="0.0505" stop-color="#ff009f"/><stop offset="0.0606" stop-color="#ff0069"/><stop offset="0.0774" stop-color="#ff003a"/><stop offset="0.0909" stop-color="#ff0026"/><stop offset="0.1145" stop-color="#ff0056"/><stop offset="0.1448" stop-color="#ff0096"/><stop offset="0.165" stop-color="#ff00a3"/><stop offset="0.1886" stop-color="#ff008b"/><stop offset="0.2357" stop-color="#ff0023"/><stop offset="0.2525" stop-color="#ff004e"/><stop offset="0.2862" stop-color="#ff00b9"/><stop offset="0.3064" stop-color="#ff00db"/><stop offset="0.3232" stop-color="#ff00d9"/><stop offset="0.3434" stop-color="#ff00b5"/><stop offset="0.3872" stop-color="#ff002b"/><stop offset="0.3939" stop-color="#ff0025"/><stop offset="0.4411" stop-color="#ff0083"/><stop offset="0.4613" stop-color="#ff008d"/><stop offset="0.4848" stop-color="#ff0072"/><stop offset="0.5219" stop-color="#ff0024"/><stop offset="0.6061" stop-color="#ff0065"/><stop offset="0.6465" stop-color="#ff0060"/><stop offset="0.7205" stop-color="#ff0023"/><stop offset="0.7845" stop-color="#ff0049"/><stop offset="0.8283" stop-color="#ff0039"/><stop offset="0.862" stop-color="#ff0025"/><stop offset="0.899" stop-color="#ff004a"/><stop offset="0.9226" stop-color="#ff007f"/><stop offset="0.936" stop-color="#ff00b8"/><stop offset="0.9461" stop-color="#fb00f8"/><stop offset="0.9495" stop-color="#e500ff"/><stop offset="0.9596" stop-color="#7400ff"/><stop offset="0.9663" stop-color="#1100ff"/><stop offset="0.9697" stop-color="#0029ff"/><stop offset="0.9764" stop-color="#00adff"/><stop offset="0.9798" stop-color="#00f8ff"/><stop offset="0.9832" stop-color="#00ffb7"/><stop offset="0.9899" stop-color="#01ff0f"/><stop offset="0.9933" stop-color="#46ff00"/><stop offset="0.9966" stop-color="#94ff00"/><stop offset="1" stop-color="#cdff00"/></linearGradient><linearGradient id="g76"><stop offset="0" stop-color="#b1ff00"/><stop offset="0.0034" stop-color="#80ff00"/><stop offset="0.0067" stop-color="#2cff00"/><stop offset="0.0101" stop-color="#00ff37"/><stop offset="0.0135" stop-color="#00ffa0"/><stop offset="0.0168" stop-color="#00f4ff"/><stop offset="0.0236" stop-color="#0032ff"/><stop offset="0.0269" stop-color="#2300ff"/><stop offset="0.0303" stop-color="#6b00ff"/><stop offset="0.037" stop-color="#de00ff"/><stop offset="0.0404" stop-color="#fd00f3"/><stop offset="0.0471" stop-color="#ff00b3"/><stop offset="0.0572" stop-color="#ff0077"/><stop offset="0.0741" stop-color="#ff0042"/><stop offset="0.0909" stop-color="#ff0025"/><stop offset="0.1145" stop-color="#ff0057"/><stop offset="0.1448" stop-color="#ff009a"/><stop offset="0.165" stop-color="#ff00a8"/><stop offset="0.1852" stop-color="#ff0096"/><stop offset="0.2357" stop-color="#ff0023"/><stop offset="0.2492" stop-color="#ff0041"/><stop offset="0.2862" stop-color="#ff00b9"/><stop offset="0.3064" stop-color="#ff00dc"/><stop offset="0.3232" stop-color="#ff00db"/><stop offset="0.3434" stop-color="#ff00b8"/><stop offset="0.3906" stop-color="#ff0025"/><stop offset="0.4007" stop-color="#ff002f"/><stop offset="0.4411" stop-color="#ff0083"/><stop offset="0.4613" stop-color="#ff008e"/><stop offset="0.4848" stop-color="#ff0073"/><stop offset="0.5219" stop-color="#ff0024"/><stop offset="0.5623" stop-color="#ff0044"/><stop offset="0.6094" stop-color="#ff0066"/><stop offset="0.6498" stop-color="#ff0060"/><stop offset="0.7239" stop-color="#ff0023"/><stop offset="0.7845" stop-color="#ff004b"/><stop offset="0.8249" stop-color="#ff003e"/><stop offset="0.8653" stop-color="#ff0026"/><stop offset="0.9024" stop-color="#ff004f"/><stop offset="0.9226" stop-color="#ff007c"/><stop offset="0.936" stop-color="#ff00b3"/><stop offset="0.9461" stop-color="#fd00f3"/><stop offset="0.9495" stop-color="#ed00ff"/><stop offset="0.9596" stop-color="#8000ff"/><stop offset="0.9663" stop-color="#1f00ff"/><stop offset="0.9697" stop-color="#001aff"/><stop offset="0.9764" stop-color="#009dff"/><stop offset="0.9798" stop-color="#00e7ff"/><stop offset="0.9832" stop-color="#00ffc8"/><stop offset="0.9899" stop-color="#00ff21"/><stop offset="0.9933" stop-color="#34ff00"/><stop offset="0.9966" stop-color="#82ff00"/><stop offset="1" stop-color="#bbff00"/></linearGradient><linearGradient id="g77"><stop offset="0" stop-color="#96ff00"/><stop offset="0.0034" stop-color="#65ff00"/><stop offset="0.0067" stop-color="#11ff00"/><stop offset="0.0101" stop-color="#00ff52"/><stop offset="0.0135" stop-color="#00ffba"/><stop offset="0.0168" stop-color="#00dcff"/><stop offset="0.0236" stop-color="#001cff"/><stop offset="0.0269" stop-color="#3700ff"/><stop offset="0.0303" stop-color="#7d00ff"/><stop offset="0.037" stop-color="#ea00ff"/><stop offset="0.0404" stop-color="#ff00ea"/><stop offset="0.0471" stop-color="#ff00ad"/><stop offset="0.0572" stop-color="#ff0076"/><stop offset="0.0774" stop-color="#ff003c"/><stop offset="0.0909" stop-color="#ff0025"/><stop offset="0.1111" stop-color="#ff004f"/><stop offset="0.1414" stop-color="#ff0098"/><stop offset="0.1616" stop-color="#ff00ad"/><stop offset="0.1818" stop-color="#ff00a0"/><stop offset="0.2088" stop-color="#ff0066"/><stop offset="0.2357" stop-color="#ff0024"/><stop offset="0.2458" stop-color="#ff0036"/><stop offset="0.2862" stop-color="#ff00b8"/><stop offset="0.3064" stop-color="#ff00dc"/><stop offset="0.3232" stop-color="#ff00dd"/><stop offset="0.3434" stop-color="#ff00ba"/><stop offset="0.3906" stop-color="#ff0027"/><stop offset="0.3973" stop-color="#ff0028"/><stop offset="0.4411" stop-color="#ff0083"/><stop offset="0.4613" stop-color="#ff008f"/><stop offset="0.4848" stop-color="#ff0075"/><stop offset="0.5219" stop-color="#ff0025"/><stop offset="0.5488" stop-color="#ff0036"/><stop offset="0.6061" stop-color="#ff0065"/><stop offset="0.6465" stop-color="#ff0063"/><stop offset="0.7239" stop-color="#ff0022"/><stop offset="0.7879" stop-color="#ff004d"/><stop offset="0.8283" stop-color="#ff003e"/><stop offset="0.8653" stop-color="#ff0025"/><stop offset="0.9024" stop-color="#ff004e"/><stop offset="0.9226" stop-color="#ff007a"/><stop offset="0.936" stop-color="#ff00ae"/><stop offset="0.9461" stop-color="#ff00ed"/><stop offset="0.9495" stop-color="#f600ff"/><stop offset="0.9596" stop-color="#8c00ff"/><stop offset="0.9663" stop-color="#2d00ff"/><stop offset="0.9697" stop-color="#020dff"/><stop offset="0.9764" stop-color="#008cff"/><stop offset="0.9798" stop-color="#00d5ff"/><stop offset="0.9832" stop-color="#00ffda"/><stop offset="0.9899" stop-color="#00ff33"/><stop offset="0.9933" stop-color="#22ff00"/><stop offset="0.9966" stop-color="#70ff00"/><stop offset="1" stop-color="#a9ff00"/></linearGradient><linearGradient id="g78"><stop offset="0" stop-color="#7bff00"/><stop offset="0.0034" stop-color="#4aff00"/><stop offset="0.0067" stop-color="#02ff0c"/><stop offset="0.0135" stop-color="#00ffd4"/><stop offset="0.0168" stop-color="#00c3ff"/><stop offset="0.0202" stop-color="#0061ff"/><stop offset="0.0236" stop-color="#030aff"/><stop offset="0.0303" stop-color="#8f00ff"/><stop offset="0.037" stop-color="#f700ff"/><stop offset="0.0438" stop-color="#ff00c1"/><stop offset="0.0539" stop-color="#ff0083"/><stop offset="0.0741" stop-color="#ff0046"/><stop offset="0.0909" stop-color="#ff0025"/><stop offset="0.1077" stop-color="#ff0047"/><stop offset="0.1414" stop-color="#ff009c"/><stop offset="0.1616" stop-color="#ff00b2"/><stop offset="0.1818" stop-color="#ff00a6"/><stop offset="0.2088" stop-color="#ff0069"/><stop offset="0.2357" stop-color="#ff0025"/><stop offset="0.2424" stop-color="#ff002c"/><stop offset="0.2896" stop-color="#ff00c0"/><stop offset="0.3098" stop-color="#ff00df"/><stop offset="0.3266" stop-color="#ff00db"/><stop offset="0.3468" stop-color="#ff00b4"/><stop offset="0.3906" stop-color="#ff0028"/><stop offset="0.3973" stop-color="#ff0027"/><stop offset="0.4411" stop-color="#ff0083"/><stop offset="0.4613" stop-color="#ff0090"/><stop offset="0.4848" stop-color="#ff0077"/><stop offset="0.5253" stop-color="#ff0022"/><stop offset="0.6061" stop-color="#ff0065"/><stop offset="0.6465" stop-color="#ff0065"/><stop offset="0.7273" stop-color="#ff0023"/><stop offset="0.7879" stop-color="#ff004f"/><stop offset="0.8249" stop-color="#ff0044"/><stop offset="0.8653" stop-color="#ff0024"/><stop offset="0.9024" stop-color="#ff004d"/><stop offset="0.9259" stop-color="#ff0082"/><stop offset="0.9394" stop-color="#ff00bb"/><stop offset="0.9495" stop-color="#f900fa"/><stop offset="0.9562" stop-color="#be00ff"/><stop offset="0.963" stop-color="#6c00ff"/><stop offset="0.9697" stop-color="#0703ff"/><stop offset="0.9731" stop-color="#0039ff"/><stop offset="0.9798" stop-color="#00c4ff"/><stop offset="0.9832" stop-color="#00ffec"/><stop offset="0.9899" stop-color="#00ff45"/><stop offset="0.9933" stop-color="#0fff00"/><stop offset="0.9966" stop-color="#5eff00"/><stop offset="1" stop-color="#98ff00"/></linearGradient><linearGradient id="g79"><stop offset="0" stop-color="#60ff00"/><stop offset="0.0034" stop-color="#2fff00"/><stop offset="0.0067" stop-color="#00ff24"/><stop offset="0.0135" stop-color="#00ffed"/><stop offset="0.0168" stop-color="#00abff"/><stop offset="0.0202" stop-color="#004aff"/><stop offset="0.0236" stop-color="#0f00ff"/><stop offset="0.0269" stop-color="#5e00ff"/><stop offset="0.0303" stop-color="#a000ff"/><stop offset="0.0337" stop-color="#d600ff"/><stop offset="0.037" stop-color="#fb00f7"/><stop offset="0.0471" stop-color="#ff00a3"/><stop offset="0.0572" stop-color="#ff0076"/><stop offset="0.0875" stop-color="#ff002a"/><stop offset="0.0943" stop-color="#ff0027"/><stop offset="0.1414" stop-color="#ff00a0"/><stop offset="0.1616" stop-color="#ff00b7"/><stop offset="0.1818" stop-color="#ff00ab"/><stop offset="0.2088" stop-color="#ff006d"/><stop offset="0.2357" stop-color="#ff0026"/><stop offset="0.2424" stop-color="#ff002a"/><stop offset="0.2896" stop-color="#ff00c0"/><stop offset="0.3098" stop-color="#ff00e0"/><stop offset="0.3266" stop-color="#ff00dd"/><stop offset="0.3468" stop-color="#ff00b7"/><stop offset="0.3906" stop-color="#ff002a"/><stop offset="0.3973" stop-color="#ff0025"/><stop offset="0.4411" stop-color="#ff0082"/><stop offset="0.4613" stop-color="#ff0091"/><stop offset="0.4815" stop-color="#ff007f"/><stop offset="0.5253" stop-color="#ff0023"/><stop offset="0.6094" stop-color="#ff0067"/><stop offset="0.6498" stop-color="#ff0064"/><stop offset="0.7306" stop-color="#ff0024"/><stop offset="0.7879" stop-color="#ff0050"/><stop offset="0.8249" stop-color="#ff0046"/><stop offset="0.8687" stop-color="#ff0025"/><stop offset="0.9057" stop-color="#ff0051"/><stop offset="0.9259" stop-color="#ff007f"/><stop offset="0.9394" stop-color="#ff00b6"/><stop offset="0.9495" stop-color="#fc00f5"/><stop offset="0.9529" stop-color="#e900ff"/><stop offset="0.963" stop-color="#7800ff"/><stop offset="0.9697" stop-color="#1200ff"/><stop offset="0.9731" stop-color="#0029ff"/><stop offset="0.9798" stop-color="#00b3ff"/><stop offset="0.9832" stop-color="#00fffe"/><stop offset="0.9933" stop-color="#04ff07"/><stop offset="0.9966" stop-color="#4cff00"/><stop offset="1" stop-color="#86ff00"/></linearGradient><linearGradient id="g80"><stop offset="0" stop-color="#45ff00"/><stop offset="0.0034" stop-color="#15ff00"/><stop offset="0.0067" stop-color="#00ff3f"/><stop offset="0.0135" stop-color="#00f7ff"/><stop offset="0.0202" stop-color="#0033ff"/><stop offset="0.0236" stop-color="#2400ff"/><stop offset="0.0269" stop-color="#7100ff"/><stop offset="0.0303" stop-color="#b000ff"/><stop offset="0.0337" stop-color="#e400ff"/><stop offset="0.037" stop-color="#ff00f0"/><stop offset="0.0438" stop-color="#ff00b4"/><stop offset="0.0539" stop-color="#ff0081"/><stop offset="0.0909" stop-color="#ff0025"/><stop offset="0.1044" stop-color="#ff003e"/><stop offset="0.1414" stop-color="#ff00a4"/><stop offset="0.1616" stop-color="#ff00bc"/><stop offset="0.1818" stop-color="#ff00b0"/><stop offset="0.2054" stop-color="#ff007b"/><stop offset="0.2357" stop-color="#ff0027"/><stop offset="0.2391" stop-color="#ff0023"/><stop offset="0.2593" stop-color="#ff005e"/><stop offset="0.2896" stop-color="#ff00c0"/><stop offset="0.3098" stop-color="#ff00e1"/><stop offset="0.3266" stop-color="#ff00df"/><stop offset="0.3468" stop-color="#ff00b9"/><stop offset="0.3906" stop-color="#ff002c"/><stop offset="0.3973" stop-color="#ff0024"/><stop offset="0.4444" stop-color="#ff0087"/><stop offset="0.4646" stop-color="#ff0091"/><stop offset="0.4882" stop-color="#ff0074"/><stop offset="0.5253" stop-color="#ff0023"/><stop offset="0.6094" stop-color="#ff0067"/><stop offset="0.6498" stop-color="#ff0066"/><stop offset="0.7306" stop-color="#ff0022"/><stop offset="0.7912" stop-color="#ff0053"/><stop offset="0.8249" stop-color="#ff0049"/><stop offset="0.8687" stop-color="#ff0024"/><stop offset="0.9057" stop-color="#ff0050"/><stop offset="0.9293" stop-color="#ff0087"/><stop offset="0.9428" stop-color="#ff00c3"/><stop offset="0.9495" stop-color="#ff00f0"/><stop offset="0.9529" stop-color="#f200ff"/><stop offset="0.963" stop-color="#8400ff"/><stop offset="0.9697" stop-color="#2100ff"/><stop offset="0.9731" stop-color="#001aff"/><stop offset="0.9798" stop-color="#00a2ff"/><stop offset="0.9832" stop-color="#00efff"/><stop offset="0.9865" stop-color="#00ffbe"/><stop offset="0.9933" stop-color="#00ff15"/><stop offset="0.9966" stop-color="#3aff00"/><stop offset="1" stop-color="#74ff00"/></linearGradient><linearGradient id="g81"><stop offset="0" stop-color="#2aff00"/><stop offset="0.0034" stop-color="#03ff0a"/><stop offset="0.0067" stop-color="#00ff59"/><stop offset="0.0101" stop-color="#00ffbb"/><stop offset="0.0135" stop-color="#00deff"/><stop offset="0.0202" stop-color="#001dff"/><stop offset="0.0236" stop-color="#3900ff"/><stop offset="0.0269" stop-color="#8400ff"/><stop offset="0.0303" stop-color="#c100ff"/><stop offset="0.0337" stop-color="#f200ff"/><stop offset="0.037" stop-color="#ff00e5"/><stop offset="0.0438" stop-color="#ff00ae"/><stop offset="0.0539" stop-color="#ff0080"/><stop offset="0.0909" stop-color="#ff0025"/><stop offset="0.1044" stop-color="#ff003e"/><stop offset="0.1414" stop-color="#ff00a8"/><stop offset="0.1616" stop-color="#ff00c1"/><stop offset="0.1818" stop-color="#ff00b6"/><stop offset="0.2054" stop-color="#ff007f"/><stop offset="0.2357" stop-color="#ff0028"/><stop offset="0.2391" stop-color="#ff0022"/><stop offset="0.2593" stop-color="#ff005c"/><stop offset="0.2896" stop-color="#ff00bf"/><stop offset="0.3098" stop-color="#ff00e2"/><stop offset="0.3266" stop-color="#ff00e1"/><stop offset="0.3468" stop-color="#ff00bc"/><stop offset="0.3939" stop-color="#ff0026"/><stop offset="0.4007" stop-color="#ff0029"/><stop offset="0.4444" stop-color="#ff0087"/><stop offset="0.4646" stop-color="#ff0092"/><stop offset="0.4848" stop-color="#ff007d"/><stop offset="0.5253" stop-color="#ff0024"/><stop offset="0.5791" stop-color="#ff0052"/><stop offset="0.6229" stop-color="#ff006b"/><stop offset="0.6667" stop-color="#ff005d"/><stop offset="0.734" stop-color="#ff0023"/><stop offset="0.7912" stop-color="#ff0054"/><stop offset="0.8249" stop-color="#ff004c"/><stop offset="0.8721" stop-color="#ff0025"/><stop offset="0.9091" stop-color="#ff0055"/><stop offset="0.9293" stop-color="#ff0084"/><stop offset="0.9428" stop-color="#ff00bd"/><stop offset="0.9529" stop-color="#f800fd"/><stop offset="0.9596" stop-color="#b800ff"/><stop offset="0.9663" stop-color="#6300ff"/><stop offset="0.9697" stop-color="#2f00ff"/><stop offset="0.9731" stop-color="#020cff"/><stop offset="0.9798" stop-color="#0091ff"/><stop offset="0.9832" stop-color="#00ddff"/><stop offset="0.9865" stop-color="#00ffd0"/><stop offset="0.9933" stop-color="#00ff28"/><stop offset="0.9966" stop-color="#27ff00"/><stop offset="1" stop-color="#62ff00"/></linearGradient><linearGradient id="g82"><stop offset="0" stop-color="#0fff00"/><stop offset="0.0034" stop-color="#00ff21"/><stop offset="0.0067" stop-color="#00ff74"/><stop offset="0.0101" stop-color="#00ffd5"/><stop offset="0.0135" stop-color="#00c5ff"/><stop offset="0.0202" stop-color="#0309ff"/><stop offset="0.0269" stop-color="#9700ff"/><stop offset="0.0303" stop-color="#d100ff"/><stop offset="0.0337" stop-color="#fa00fa"/><stop offset="0.0404" stop-color="#ff00be"/><stop offset="0.0505" stop-color="#ff008a"/><stop offset="0.0909" stop-color="#ff0025"/><stop offset="0.101" stop-color="#ff0035"/><stop offset="0.1414" stop-color="#ff00ab"/><stop offset="0.1616" stop-color="#ff00c6"/><stop offset="0.1818" stop-color="#ff00bb"/><stop offset="0.2054" stop-color="#ff0084"/><stop offset="0.2357" stop-color="#ff0029"/><stop offset="0.2391" stop-color="#ff0023"/><stop offset="0.2525" stop-color="#ff0044"/><stop offset="0.2896" stop-color="#ff00bf"/><stop offset="0.3098" stop-color="#ff00e3"/><stop offset="0.3266" stop-color="#ff00e2"/><stop offset="0.3468" stop-color="#ff00bf"/><stop offset="0.3939" stop-color="#ff0027"/><stop offset="0.4007" stop-color="#ff0028"/><stop offset="0.4444" stop-color="#ff0087"/><stop offset="0.4646" stop-color="#ff0093"/><stop offset="0.4848" stop-color="#ff007f"/><stop offset="0.5253" stop-color="#ff0025"/><stop offset="0.5589" stop-color="#ff003d"/><stop offset="0.6128" stop-color="#ff0069"/><stop offset="0.6532" stop-color="#ff0067"/><stop offset="0.734" stop-color="#ff0023"/><stop offset="0.7946" stop-color="#ff0056"/><stop offset="0.8283" stop-color="#ff004d"/><stop offset="0.8721" stop-color="#ff0024"/><stop offset="0.9091" stop-color="#ff0054"/><stop offset="0.9327" stop-color="#ff008d"/><stop offset="0.9461" stop-color="#ff00cb"/><stop offset="0.9529" stop-color="#fb00f7"/><stop offset="0.9562" stop-color="#e500ff"/><stop offset="0.963" stop-color="#9c00ff"/><stop offset="0.9697" stop-color="#3d00ff"/><stop offset="0.9731" stop-color="#0702ff"/><stop offset="0.9764" stop-color="#003bff"/><stop offset="0.9832" stop-color="#00cbff"/><stop offset="0.9865" stop-color="#00ffe2"/><stop offset="0.9933" stop-color="#00ff3a"/><stop offset="0.9966" stop-color="#15ff00"/><stop offset="1" stop-color="#50ff00"/></linearGradient><linearGradient id="g83"><stop offset="0" stop-color="#01ff0d"/><stop offset="0.0034" stop-color="#00ff3c"/><stop offset="0.0067" stop-color="#00ff8f"/><stop offset="0.0101" stop-color="#00ffef"/><stop offset="0.0135" stop-color="#00acff"/><stop offset="0.0168" stop-color="#004bff"/><stop offset="0.0202" stop-color="#1000ff"/><stop offset="0.0236" stop-color="#6100ff"/><stop offset="0.0269" stop-color="#a900ff"/><stop offset="0.0303" stop-color="#e000ff"/><stop offset="0.0337" stop-color="#fe00f1"/><stop offset="0.0404" stop-color="#ff00b6"/><stop offset="0.0505" stop-color="#ff0089"/><stop offset="0.0909" stop-color="#ff0025"/><stop offset="0.0976" stop-color="#ff002c"/><stop offset="0.1414" stop-color="#ff00af"/><stop offset="0.1616" stop-color="#ff00cb"/><stop offset="0.1785" stop-color="#ff00c5"/><stop offset="0.1987" stop-color="#ff009c"/><stop offset="0.2357" stop-color="#ff002a"/><stop offset="0.2424" stop-color="#ff0026"/><stop offset="0.2727" stop-color="#ff0089"/><stop offset="0.2963" stop-color="#ff00ce"/><stop offset="0.3165" stop-color="#ff00e7"/><stop offset="0.3333" stop-color="#ff00dd"/><stop offset="0.3535" stop-color="#ff00ae"/><stop offset="0.3939" stop-color="#ff0029"/><stop offset="0.3973" stop-color="#ff0023"/><stop offset="0.4276" stop-color="#ff0065"/><stop offset="0.4512" stop-color="#ff008f"/><stop offset="0.4714" stop-color="#ff0091"/><stop offset="0.4949" stop-color="#ff006c"/><stop offset="0.5253" stop-color="#ff0026"/><stop offset="0.5488" stop-color="#ff0033"/><stop offset="0.6094" stop-color="#ff0068"/><stop offset="0.6498" stop-color="#ff006a"/><stop offset="0.7071" stop-color="#ff003c"/><stop offset="0.7374" stop-color="#ff0022"/><stop offset="0.7946" stop-color="#ff0058"/><stop offset="0.8249" stop-color="#ff0053"/><stop offset="0.8721" stop-color="#ff0024"/><stop offset="0.9057" stop-color="#ff004d"/><stop offset="0.9293" stop-color="#ff007f"/><stop offset="0.9428" stop-color="#ff00b3"/><stop offset="0.9529" stop-color="#fe00f2"/><stop offset="0.9562" stop-color="#ee00ff"/><stop offset="0.963" stop-color="#a700ff"/><stop offset="0.9697" stop-color="#4b00ff"/><stop offset="0.9731" stop-color="#1300ff"/><stop offset="0.9764" stop-color="#002bff"/><stop offset="0.9832" stop-color="#00baff"/><stop offset="0.9865" stop-color="#00fff4"/><stop offset="0.9933" stop-color="#00ff4c"/><stop offset="0.9966" stop-color="#06ff03"/><stop offset="1" stop-color="#3eff00"/></linearGradient><linearGradient id="g84"><stop offset="0" stop-color="#00ff27"/><stop offset="0.0034" stop-color="#00ff57"/><stop offset="0.0101" stop-color="#00f6ff"/><stop offset="0.0168" stop-color="#0033ff"/><stop offset="0.0202" stop-color="#2600ff"/><stop offset="0.0236" stop-color="#7500ff"/><stop offset="0.0269" stop-color="#ba00ff"/><stop offset="0.0303" stop-color="#ef00ff"/><stop offset="0.0337" stop-color="#ff00e6"/><stop offset="0.0404" stop-color="#ff00af"/><stop offset="0.0505" stop-color="#ff0087"/><stop offset="0.0774" stop-color="#ff004b"/><stop offset="0.0909" stop-color="#ff0026"/><stop offset="0.0976" stop-color="#ff002c"/><stop offset="0.1414" stop-color="#ff00b3"/><stop offset="0.1616" stop-color="#ff00d1"/><stop offset="0.1785" stop-color="#ff00cb"/><stop offset="0.1987" stop-color="#ff00a1"/><stop offset="0.2357" stop-color="#ff002b"/><stop offset="0.2424" stop-color="#ff0025"/><stop offset="0.2694" stop-color="#ff007c"/><stop offset="0.2963" stop-color="#ff00ce"/><stop offset="0.3165" stop-color="#ff00e8"/><stop offset="0.3333" stop-color="#ff00df"/><stop offset="0.3535" stop-color="#ff00b1"/><stop offset="0.3939" stop-color="#ff002a"/><stop offset="0.4007" stop-color="#ff0025"/><stop offset="0.4444" stop-color="#ff0086"/><stop offset="0.4646" stop-color="#ff0095"/><stop offset="0.4848" stop-color="#ff0082"/><stop offset="0.5286" stop-color="#ff0022"/><stop offset="0.6128" stop-color="#ff0069"/><stop offset="0.6532" stop-color="#ff006a"/><stop offset="0.7138" stop-color="#ff0037"/><stop offset="0.7407" stop-color="#ff0023"/><stop offset="0.7946" stop-color="#ff0059"/><stop offset="0.8249" stop-color="#ff0056"/><stop offset="0.8754" stop-color="#ff0024"/><stop offset="0.9125" stop-color="#ff0057"/><stop offset="0.9327" stop-color="#ff0087"/><stop offset="0.9461" stop-color="#ff00c0"/><stop offset="0.9529" stop-color="#ff00ec"/><stop offset="0.9562" stop-color="#f700ff"/><stop offset="0.963" stop-color="#b300ff"/><stop offset="0.9697" stop-color="#5800ff"/><stop offset="0.9731" stop-color="#2200ff"/><stop offset="0.9764" stop-color="#001bff"/><stop offset="0.9832" stop-color="#00a8ff"/><stop offset="0.9865" stop-color="#00f8ff"/><stop offset="0.9966" stop-color="#00ff0f"/><stop offset="1" stop-color="#2cff00"/></linearGradient><linearGradient id="g85"><stop offset="0" stop-color="#00ff41"/><stop offset="0.0034" stop-color="#00ff72"/><stop offset="0.0067" stop-color="#00ffc4"/><stop offset="0.0101" stop-color="#00dcff"/><stop offset="0.0168" stop-color="#001cff"/><stop offset="0.0202" stop-color="#3b00ff"/><stop offset="0.0236" stop-color="#8900ff"/><stop offset="0.0269" stop-color="#cc00ff"/><stop offset="0.0303" stop-color="#f900fa"/><stop offset="0.037" stop-color="#ff00bd"/><stop offset="0.0438" stop-color="#ff0099"/><stop offset="0.0774" stop-color="#ff004e"/><stop offset="0.0909" stop-color="#ff0026"/><stop offset="0.0976" stop-color="#ff002c"/><stop offset="0.1414" stop-color="#ff00b6"/><stop offset="0.1616" stop-color="#ff00d6"/><stop offset="0.1785" stop-color="#ff00d0"/><stop offset="0.1987" stop-color="#ff00a6"/><stop offset="0.2391" stop-color="#ff0025"/><stop offset="0.2458" stop-color="#ff002c"/><stop offset="0.2929" stop-color="#ff00c6"/><stop offset="0.3131" stop-color="#ff00e7"/><stop offset="0.33" stop-color="#ff00e5"/><stop offset="0.3502" stop-color="#ff00be"/><stop offset="0.3939" stop-color="#ff002c"/><stop offset="0.4007" stop-color="#ff0024"/><stop offset="0.4444" stop-color="#ff0086"/><stop offset="0.4646" stop-color="#ff0096"/><stop offset="0.4848" stop-color="#ff0084"/><stop offset="0.5286" stop-color="#ff0023"/><stop offset="0.6162" stop-color="#ff006b"/><stop offset="0.6566" stop-color="#ff006a"/><stop offset="0.7239" stop-color="#ff0030"/><stop offset="0.7441" stop-color="#ff0024"/><stop offset="0.798" stop-color="#ff005c"/><stop offset="0.8283" stop-color="#ff0056"/><stop offset="0.8754" stop-color="#ff0024"/><stop offset="0.9091" stop-color="#ff0050"/><stop offset="0.9327" stop-color="#ff0084"/><stop offset="0.9461" stop-color="#ff00ba"/><stop offset="0.9562" stop-color="#fa00f9"/><stop offset="0.9596" stop-color="#e100ff"/><stop offset="0.9663" stop-color="#9500ff"/><stop offset="0.9731" stop-color="#3100ff"/><stop offset="0.9764" stop-color="#020dff"/><stop offset="0.9832" stop-color="#0097ff"/><stop offset="0.9865" stop-color="#00e6ff"/><stop offset="0.9899" stop-color="#00ffc5"/><stop offset="0.9966" stop-color="#00ff21"/><stop offset="1" stop-color="#1aff00"/></linearGradient><linearGradient id="g86"><stop offset="0" stop-color="#00ff5c"/><stop offset="0.0034" stop-color="#00ff8d"/><stop offset="0.0067" stop-color="#00ffde"/><stop offset="0.0101" stop-color="#00c2ff"/><stop offset="0.0168" stop-color="#0409ff"/><stop offset="0.0236" stop-color="#9c00ff"/><stop offset="0.0269" stop-color="#dd00ff"/><stop offset="0.0303" stop-color="#fe00f1"/><stop offset="0.037" stop-color="#ff00b4"/><stop offset="0.0438" stop-color="#ff0095"/><stop offset="0.0741" stop-color="#ff005b"/><stop offset="0.0909" stop-color="#ff0027"/><stop offset="0.0943" stop-color="#ff0024"/><stop offset="0.1178" stop-color="#ff006e"/><stop offset="0.1448" stop-color="#ff00c2"/><stop offset="0.1616" stop-color="#ff00db"/><stop offset="0.1785" stop-color="#ff00d6"/><stop offset="0.1987" stop-color="#ff00ab"/><stop offset="0.2391" stop-color="#ff0026"/><stop offset="0.2458" stop-color="#ff002b"/><stop offset="0.2929" stop-color="#ff00c6"/><stop offset="0.3131" stop-color="#ff00e8"/><stop offset="0.33" stop-color="#ff00e6"/><stop offset="0.3502" stop-color="#ff00c0"/><stop offset="0.3973" stop-color="#ff0026"/><stop offset="0.404" stop-color="#ff0029"/><stop offset="0.4444" stop-color="#ff0086"/><stop offset="0.4646" stop-color="#ff0097"/><stop offset="0.4848" stop-color="#ff0086"/><stop offset="0.5286" stop-color="#ff0023"/><stop offset="0.6162" stop-color="#ff006b"/><stop offset="0.6566" stop-color="#ff006b"/><stop offset="0.7172" stop-color="#ff0038"/><stop offset="0.7441" stop-color="#ff0022"/><stop offset="0.798" stop-color="#ff005d"/><stop offset="0.8283" stop-color="#ff005a"/><stop offset="0.8788" stop-color="#ff0024"/><stop offset="0.9192" stop-color="#ff0062"/><stop offset="0.9394" stop-color="#ff0098"/><stop offset="0.9495" stop-color="#ff00c8"/><stop offset="0.9562" stop-color="#fd00f4"/><stop offset="0.9596" stop-color="#ea00ff"/><stop offset="0.9663" stop-color="#a100ff"/><stop offset="0.9731" stop-color="#3f00ff"/><stop offset="0.9764" stop-color="#0702ff"/><stop offset="0.9798" stop-color="#003dff"/><stop offset="0.9865" stop-color="#00d4ff"/><stop offset="0.9899" stop-color="#00ffd7"/><stop offset="0.9966" stop-color="#00ff33"/><stop offset="1" stop-color="#08ff00"/></linearGradient><linearGradient id="g87"><stop offset="0" stop-color="#00ff73"/><stop offset="0.0034" stop-color="#00ffa4"/><stop offset="0.0067" stop-color="#00fff6"/><stop offset="0.0101" stop-color="#00aaff"/><stop offset="0.0135" stop-color="#0049ff"/><stop offset="0.0168" stop-color="#1300ff"/><stop offset="0.0202" stop-color="#6700ff"/><stop offset="0.0236" stop-color="#b000ff"/><stop offset="0.0269" stop-color="#ef00ff"/><stop offset="0.0303" stop-color="#ff00e2"/><stop offset="0.037" stop-color="#ff00a9"/><stop offset="0.0471" stop-color="#ff0089"/><stop offset="0.0707" stop-color="#ff0068"/><stop offset="0.0943" stop-color="#ff0023"/><stop offset="0.1145" stop-color="#ff0061"/><stop offset="0.1414" stop-color="#ff00bc"/><stop offset="0.1582" stop-color="#ff00db"/><stop offset="0.1751" stop-color="#ff00dd"/><stop offset="0.1953" stop-color="#ff00b8"/><stop offset="0.2391" stop-color="#ff0026"/><stop offset="0.2458" stop-color="#ff002b"/><stop offset="0.2929" stop-color="#ff00c7"/><stop offset="0.3131" stop-color="#ff00e9"/><stop offset="0.33" stop-color="#ff00e8"/><stop offset="0.3502" stop-color="#ff00c1"/><stop offset="0.3973" stop-color="#ff0026"/><stop offset="0.404" stop-color="#ff0029"/><stop offset="0.4444" stop-color="#ff0087"/><stop offset="0.4646" stop-color="#ff0099"/><stop offset="0.4848" stop-color="#ff0088"/><stop offset="0.5286" stop-color="#ff0024"/><stop offset="0.569" stop-color="#ff0045"/><stop offset="0.6195" stop-color="#ff006e"/><stop offset="0.6599" stop-color="#ff006c"/><stop offset="0.7239" stop-color="#ff0034"/><stop offset="0.7475" stop-color="#ff0023"/><stop offset="0.8013" stop-color="#ff0060"/><stop offset="0.8283" stop-color="#ff005d"/><stop offset="0.8788" stop-color="#ff0023"/><stop offset="0.9158" stop-color="#ff005a"/><stop offset="0.9394" stop-color="#ff0094"/><stop offset="0.9495" stop-color="#ff00c1"/><stop offset="0.9562" stop-color="#ff00ed"/><stop offset="0.9596" stop-color="#f500ff"/><stop offset="0.9663" stop-color="#ae00ff"/><stop offset="0.9731" stop-color="#4f00ff"/><stop offset="0.9764" stop-color="#1500ff"/><stop offset="0.9798" stop-color="#002bff"/><stop offset="0.9865" stop-color="#00c1ff"/><stop offset="0.9899" stop-color="#00ffeb"/><stop offset="0.9966" stop-color="#00ff47"/><stop offset="1" stop-color="#02ff0d"/></linearGradient><linearGradient id="g88"><stop offset="0" stop-color="#00ff85"/><stop offset="0.0034" stop-color="#00ffb7"/><stop offset="0.0067" stop-color="#00f3ff"/><stop offset="0.0135" stop-color="#0031ff"/><stop offset="0.0168" stop-color="#2b00ff"/><stop offset="0.0202" stop-color="#7e00ff"/><stop offset="0.0236" stop-color="#c700ff"/><stop offset="0.0269" stop-color="#fb00f7"/><stop offset="0.0337" stop-color="#ff00b2"/><stop offset="0.0404" stop-color="#ff0090"/><stop offset="0.0539" stop-color="#ff0081"/><stop offset="0.0707" stop-color="#ff006c"/><stop offset="0.0943" stop-color="#ff0023"/><stop offset="0.1111" stop-color="#ff0054"/><stop offset="0.1414" stop-color="#ff00bd"/><stop offset="0.1582" stop-color="#ff00de"/><stop offset="0.1751" stop-color="#ff00e0"/><stop offset="0.1919" stop-color="#ff00c3"/><stop offset="0.2222" stop-color="#ff005c"/><stop offset="0.2391" stop-color="#ff0026"/><stop offset="0.2458" stop-color="#ff002c"/><stop offset="0.2929" stop-color="#ff00c9"/><stop offset="0.3131" stop-color="#ff00eb"/><stop offset="0.33" stop-color="#ff00e9"/><stop offset="0.3502" stop-color="#ff00c1"/><stop offset="0.3939" stop-color="#ff002c"/><stop offset="0.4007" stop-color="#ff0024"/><stop offset="0.4478" stop-color="#ff008f"/><stop offset="0.468" stop-color="#ff009c"/><stop offset="0.4882" stop-color="#ff0085"/><stop offset="0.5286" stop-color="#ff0025"/><stop offset="0.5556" stop-color="#ff0037"/><stop offset="0.6162" stop-color="#ff006e"/><stop offset="0.6566" stop-color="#ff0070"/><stop offset="0.7104" stop-color="#ff0044"/><stop offset="0.7475" stop-color="#ff0023"/><stop offset="0.8013" stop-color="#ff0062"/><stop offset="0.8283" stop-color="#ff005f"/><stop offset="0.8788" stop-color="#ff0023"/><stop offset="0.9158" stop-color="#ff005a"/><stop offset="0.9394" stop-color="#ff0091"/><stop offset="0.9529" stop-color="#ff00cd"/><stop offset="0.9596" stop-color="#fa00f9"/><stop offset="0.963" stop-color="#e100ff"/><stop offset="0.9697" stop-color="#9100ff"/><stop offset="0.9764" stop-color="#2800ff"/><stop offset="0.9798" stop-color="#0018ff"/><stop offset="0.9865" stop-color="#00acff"/><stop offset="0.9899" stop-color="#00feff"/><stop offset="0.9966" stop-color="#00ff5b"/><stop offset="1" stop-color="#00ff1e"/></linearGradient><linearGradient id="g89"><stop offset="0" stop-color="#00ff97"/><stop offset="0.0034" stop-color="#00ffcb"/><stop offset="0.0067" stop-color="#00ddff"/><stop offset="0.0135" stop-color="#0018ff"/><stop offset="0.0168" stop-color="#4400ff"/><stop offset="0.0202" stop-color="#9600ff"/><stop offset="0.0236" stop-color="#dd00ff"/><stop offset="0.0269" stop-color="#ff00e6"/><stop offset="0.0303" stop-color="#ff00bf"/><stop offset="0.037" stop-color="#ff0092"/><stop offset="0.0471" stop-color="#ff0081"/><stop offset="0.064" stop-color="#ff007c"/><stop offset="0.0774" stop-color="#ff005c"/><stop offset="0.0943" stop-color="#ff0024"/><stop offset="0.1044" stop-color="#ff003a"/><stop offset="0.1414" stop-color="#ff00be"/><stop offset="0.1582" stop-color="#ff00e0"/><stop offset="0.1751" stop-color="#ff00e3"/><stop offset="0.1919" stop-color="#ff00c5"/><stop offset="0.2222" stop-color="#ff005c"/><stop offset="0.2391" stop-color="#ff0025"/><stop offset="0.2458" stop-color="#ff002d"/><stop offset="0.2929" stop-color="#ff00cb"/><stop offset="0.3131" stop-color="#ff00ed"/><stop offset="0.33" stop-color="#ff00e9"/><stop offset="0.3502" stop-color="#ff00c0"/><stop offset="0.3939" stop-color="#ff002b"/><stop offset="0.4007" stop-color="#ff0025"/><stop offset="0.4444" stop-color="#ff008d"/><stop offset="0.4646" stop-color="#ff009f"/><stop offset="0.4848" stop-color="#ff008d"/><stop offset="0.5286" stop-color="#ff0026"/><stop offset="0.5455" stop-color="#ff002d"/><stop offset="0.6128" stop-color="#ff006e"/><stop offset="0.6532" stop-color="#ff0075"/><stop offset="0.7003" stop-color="#ff0051"/><stop offset="0.7475" stop-color="#ff0023"/><stop offset="0.8013" stop-color="#ff0064"/><stop offset="0.8283" stop-color="#ff0062"/><stop offset="0.8788" stop-color="#ff0024"/><stop offset="0.9091" stop-color="#ff004e"/><stop offset="0.9394" stop-color="#ff008d"/><stop offset="0.9529" stop-color="#ff00c5"/><stop offset="0.9596" stop-color="#fe00f2"/><stop offset="0.963" stop-color="#ed00ff"/><stop offset="0.9697" stop-color="#a100ff"/><stop offset="0.9764" stop-color="#3a00ff"/><stop offset="0.9798" stop-color="#0408ff"/><stop offset="0.9832" stop-color="#004aff"/><stop offset="0.9899" stop-color="#00e9ff"/><stop offset="0.9933" stop-color="#00ffc0"/><stop offset="0.9966" stop-color="#00ff6f"/><stop offset="1" stop-color="#00ff32"/></linearGradient><linearGradient id="g90"><stop offset="0" stop-color="#00ffa9"/><stop offset="0.0034" stop-color="#00ffde"/><stop offset="0.0067" stop-color="#00c7ff"/><stop offset="0.0135" stop-color="#0605ff"/><stop offset="0.0202" stop-color="#ae00ff"/><stop offset="0.0236" stop-color="#f300ff"/><stop offset="0.0269" stop-color="#ff00d3"/><stop offset="0.0303" stop-color="#ff00ae"/><stop offset="0.037" stop-color="#ff0088"/><stop offset="0.0471" stop-color="#ff007e"/><stop offset="0.064" stop-color="#ff0080"/><stop offset="0.0774" stop-color="#ff0061"/><stop offset="0.0943" stop-color="#ff0025"/><stop offset="0.101" stop-color="#ff002e"/><stop offset="0.1414" stop-color="#ff00bf"/><stop offset="0.1582" stop-color="#ff00e2"/><stop offset="0.1751" stop-color="#ff00e5"/><stop offset="0.1919" stop-color="#ff00c7"/><stop offset="0.2189" stop-color="#ff0069"/><stop offset="0.2391" stop-color="#ff0024"/><stop offset="0.2458" stop-color="#ff002e"/><stop offset="0.2929" stop-color="#ff00ce"/><stop offset="0.3131" stop-color="#ff00ef"/><stop offset="0.33" stop-color="#ff00ea"/><stop offset="0.3502" stop-color="#ff00c0"/><stop offset="0.3939" stop-color="#ff0029"/><stop offset="0.3973" stop-color="#ff0023"/><stop offset="0.4209" stop-color="#ff0059"/><stop offset="0.4478" stop-color="#ff0095"/><stop offset="0.468" stop-color="#ff00a1"/><stop offset="0.4882" stop-color="#ff008a"/><stop offset="0.532" stop-color="#ff0022"/><stop offset="0.6162" stop-color="#ff0072"/><stop offset="0.6566" stop-color="#ff0076"/><stop offset="0.7071" stop-color="#ff004c"/><stop offset="0.7475" stop-color="#ff0023"/><stop offset="0.7811" stop-color="#ff004f"/><stop offset="0.8114" stop-color="#ff006a"/><stop offset="0.8384" stop-color="#ff005c"/><stop offset="0.8788" stop-color="#ff0024"/><stop offset="0.9024" stop-color="#ff0042"/><stop offset="0.9394" stop-color="#ff008a"/><stop offset="0.9529" stop-color="#ff00be"/><stop offset="0.963" stop-color="#f800fe"/><stop offset="0.9697" stop-color="#b000ff"/><stop offset="0.9764" stop-color="#4c00ff"/><stop offset="0.9798" stop-color="#0f00ff"/><stop offset="0.9832" stop-color="#0036ff"/><stop offset="0.9899" stop-color="#00d4ff"/><stop offset="0.9933" stop-color="#00ffd5"/><stop offset="0.9966" stop-color="#00ff83"/><stop offset="1" stop-color="#00ff45"/></linearGradient><linearGradient id="g91"><stop offset="0" stop-color="#00ffbb"/><stop offset="0.0034" stop-color="#00fff2"/><stop offset="0.0067" stop-color="#00b0ff"/><stop offset="0.0101" stop-color="#004aff"/><stop offset="0.0135" stop-color="#1a00ff"/><stop offset="0.0168" stop-color="#7600ff"/><stop offset="0.0202" stop-color="#c600ff"/><stop offset="0.0236" stop-color="#fd00f3"/><stop offset="0.0269" stop-color="#ff00c0"/><stop offset="0.0303" stop-color="#ff009e"/><stop offset="0.037" stop-color="#ff007e"/><stop offset="0.0471" stop-color="#ff007c"/><stop offset="0.064" stop-color="#ff0083"/><stop offset="0.0774" stop-color="#ff0065"/><stop offset="0.0943" stop-color="#ff0027"/><stop offset="0.0976" stop-color="#ff0024"/><stop offset="0.1178" stop-color="#ff0069"/><stop offset="0.1448" stop-color="#ff00ca"/><stop offset="0.1616" stop-color="#ff00e8"/><stop offset="0.1785" stop-color="#ff00e5"/><stop offset="0.1953" stop-color="#ff00c0"/><stop offset="0.2357" stop-color="#ff002c"/><stop offset="0.2391" stop-color="#ff0024"/><stop offset="0.2492" stop-color="#ff0039"/><stop offset="0.2896" stop-color="#ff00c7"/><stop offset="0.3098" stop-color="#ff00ee"/><stop offset="0.33" stop-color="#ff00eb"/><stop offset="0.3502" stop-color="#ff00bf"/><stop offset="0.3939" stop-color="#ff0027"/><stop offset="0.4007" stop-color="#ff0028"/><stop offset="0.4444" stop-color="#ff0093"/><stop offset="0.4646" stop-color="#ff00a4"/><stop offset="0.4848" stop-color="#ff0093"/><stop offset="0.532" stop-color="#ff0023"/><stop offset="0.6195" stop-color="#ff0076"/><stop offset="0.6599" stop-color="#ff0078"/><stop offset="0.7104" stop-color="#ff004b"/><stop offset="0.7508" stop-color="#ff0023"/><stop offset="0.8013" stop-color="#ff0067"/><stop offset="0.8283" stop-color="#ff0068"/><stop offset="0.8687" stop-color="#ff0032"/><stop offset="0.8822" stop-color="#ff0023"/><stop offset="0.936" stop-color="#ff007f"/><stop offset="0.9495" stop-color="#ff00a8"/><stop offset="0.9596" stop-color="#ff00df"/><stop offset="0.963" stop-color="#fc00f6"/><stop offset="0.9663" stop-color="#e500ff"/><stop offset="0.9731" stop-color="#9200ff"/><stop offset="0.9798" stop-color="#2200ff"/><stop offset="0.9832" stop-color="#0022ff"/><stop offset="0.9899" stop-color="#00bfff"/><stop offset="0.9933" stop-color="#00ffe9"/><stop offset="0.9966" stop-color="#00ff97"/><stop offset="1" stop-color="#00ff59"/></linearGradient><linearGradient id="g92"><stop offset="0" stop-color="#00ffcd"/><stop offset="0.0034" stop-color="#00f8ff"/><stop offset="0.0101" stop-color="#0032ff"/><stop offset="0.0135" stop-color="#3400ff"/><stop offset="0.0168" stop-color="#8f00ff"/><stop offset="0.0202" stop-color="#de00ff"/><stop offset="0.0236" stop-color="#ff00e0"/><stop offset="0.0269" stop-color="#ff00ad"/><stop offset="0.0303" stop-color="#ff008f"/><stop offset="0.037" stop-color="#ff0075"/><stop offset="0.0505" stop-color="#ff007f"/><stop offset="0.064" stop-color="#ff0087"/><stop offset="0.0774" stop-color="#ff006a"/><stop offset="0.0943" stop-color="#ff002a"/><stop offset="0.0976" stop-color="#ff0023"/><stop offset="0.1145" stop-color="#ff005a"/><stop offset="0.1414" stop-color="#ff00c1"/><stop offset="0.1582" stop-color="#ff00e7"/><stop offset="0.1751" stop-color="#ff00eb"/><stop offset="0.1919" stop-color="#ff00cc"/><stop offset="0.2189" stop-color="#ff0069"/><stop offset="0.2357" stop-color="#ff002b"/><stop offset="0.2391" stop-color="#ff0023"/><stop offset="0.2525" stop-color="#ff0046"/><stop offset="0.2896" stop-color="#ff00ca"/><stop offset="0.3064" stop-color="#ff00ed"/><stop offset="0.3266" stop-color="#ff00ef"/><stop offset="0.3468" stop-color="#ff00c8"/><stop offset="0.3939" stop-color="#ff0026"/><stop offset="0.4007" stop-color="#ff0029"/><stop offset="0.4444" stop-color="#ff0095"/><stop offset="0.4646" stop-color="#ff00a7"/><stop offset="0.4848" stop-color="#ff0095"/><stop offset="0.532" stop-color="#ff0024"/><stop offset="0.5724" stop-color="#ff004b"/><stop offset="0.6229" stop-color="#ff007a"/><stop offset="0.6599" stop-color="#ff007b"/><stop offset="0.7071" stop-color="#ff0052"/><stop offset="0.7508" stop-color="#ff0023"/><stop offset="0.8047" stop-color="#ff006b"/><stop offset="0.8283" stop-color="#ff006b"/><stop offset="0.862" stop-color="#ff003e"/><stop offset="0.8822" stop-color="#ff0023"/><stop offset="0.9394" stop-color="#ff0085"/><stop offset="0.9529" stop-color="#ff00b0"/><stop offset="0.963" stop-color="#ff00ee"/><stop offset="0.9663" stop-color="#f200ff"/><stop offset="0.9731" stop-color="#a300ff"/><stop offset="0.9798" stop-color="#3600ff"/><stop offset="0.9832" stop-color="#010eff"/><stop offset="0.9899" stop-color="#00aaff"/><stop offset="0.9933" stop-color="#00fffe"/><stop offset="0.9966" stop-color="#00ffab"/><stop offset="1" stop-color="#00ff6c"/></linearGradient><linearGradient id="g93"><stop offset="0" stop-color="#00ffdf"/><stop offset="0.0034" stop-color="#00e4ff"/><stop offset="0.0101" stop-color="#0018ff"/><stop offset="0.0135" stop-color="#4e00ff"/><stop offset="0.0168" stop-color="#a800ff"/><stop offset="0.0202" stop-color="#f500ff"/><stop offset="0.0236" stop-color="#ff00cb"/><stop offset="0.0269" stop-color="#ff009c"/><stop offset="0.0303" stop-color="#ff0081"/><stop offset="0.037" stop-color="#ff006e"/><stop offset="0.0606" stop-color="#ff008c"/><stop offset="0.0707" stop-color="#ff0082"/><stop offset="0.0875" stop-color="#ff0047"/><stop offset="0.0976" stop-color="#ff0023"/><stop offset="0.1111" stop-color="#ff004b"/><stop offset="0.1414" stop-color="#ff00c2"/><stop offset="0.1582" stop-color="#ff00e9"/><stop offset="0.1751" stop-color="#ff00ee"/><stop offset="0.1919" stop-color="#ff00ce"/><stop offset="0.2189" stop-color="#ff0069"/><stop offset="0.2357" stop-color="#ff002a"/><stop offset="0.2391" stop-color="#ff0023"/><stop offset="0.2525" stop-color="#ff0047"/><stop offset="0.2896" stop-color="#ff00cc"/><stop offset="0.3064" stop-color="#ff00ef"/><stop offset="0.3266" stop-color="#ff00f0"/><stop offset="0.3434" stop-color="#ff00d1"/><stop offset="0.3737" stop-color="#ff0067"/><stop offset="0.3939" stop-color="#ff0024"/><stop offset="0.404" stop-color="#ff0033"/><stop offset="0.4444" stop-color="#ff0098"/><stop offset="0.4646" stop-color="#ff00aa"/><stop offset="0.4848" stop-color="#ff0098"/><stop offset="0.532" stop-color="#ff0025"/><stop offset="0.5589" stop-color="#ff003b"/><stop offset="0.6162" stop-color="#ff0078"/><stop offset="0.6532" stop-color="#ff0080"/><stop offset="0.697" stop-color="#ff0060"/><stop offset="0.7508" stop-color="#ff0023"/><stop offset="0.7744" stop-color="#ff0043"/><stop offset="0.8047" stop-color="#ff006d"/><stop offset="0.8283" stop-color="#ff006e"/><stop offset="0.862" stop-color="#ff0040"/><stop offset="0.8822" stop-color="#ff0023"/><stop offset="0.9428" stop-color="#ff008b"/><stop offset="0.9562" stop-color="#ff00ba"/><stop offset="0.9663" stop-color="#f900fa"/><stop offset="0.9697" stop-color="#dc00ff"/><stop offset="0.9764" stop-color="#8200ff"/><stop offset="0.9832" stop-color="#0801ff"/><stop offset="0.9865" stop-color="#0044ff"/><stop offset="0.9933" stop-color="#00ebff"/><stop offset="0.9966" stop-color="#00ffbf"/><stop offset="1" stop-color="#00ff80"/></linearGradient><linearGradient id="g94"><stop offset="0" stop-color="#00fff1"/><stop offset="0.0034" stop-color="#00cfff"/><stop offset="0.0101" stop-color="#0604ff"/><stop offset="0.0168" stop-color="#c200ff"/><stop offset="0.0202" stop-color="#fe00f1"/><stop offset="0.0236" stop-color="#ff00b7"/><stop offset="0.0269" stop-color="#ff008b"/><stop offset="0.0303" stop-color="#ff0074"/><stop offset="0.037" stop-color="#ff0067"/><stop offset="0.0606" stop-color="#ff0090"/><stop offset="0.0707" stop-color="#ff0087"/><stop offset="0.0875" stop-color="#ff004b"/><stop offset="0.0976" stop-color="#ff0024"/><stop offset="0.1044" stop-color="#ff0031"/><stop offset="0.1448" stop-color="#ff00ce"/><stop offset="0.1616" stop-color="#ff00ef"/><stop offset="0.1785" stop-color="#ff00ed"/><stop offset="0.1953" stop-color="#ff00c6"/><stop offset="0.2357" stop-color="#ff0029"/><stop offset="0.2391" stop-color="#ff0022"/><stop offset="0.2559" stop-color="#ff0056"/><stop offset="0.2896" stop-color="#ff00cf"/><stop offset="0.3064" stop-color="#fe00f0"/><stop offset="0.3266" stop-color="#fe00f1"/><stop offset="0.3434" stop-color="#ff00d1"/><stop offset="0.3737" stop-color="#ff0065"/><stop offset="0.3939" stop-color="#ff0023"/><stop offset="0.4108" stop-color="#ff0046"/><stop offset="0.4444" stop-color="#ff009b"/><stop offset="0.4646" stop-color="#ff00ad"/><stop offset="0.4848" stop-color="#ff009b"/><stop offset="0.5185" stop-color="#ff0046"/><stop offset="0.5354" stop-color="#ff0023"/><stop offset="0.6195" stop-color="#ff007c"/><stop offset="0.6566" stop-color="#ff0082"/><stop offset="0.7003" stop-color="#ff005f"/><stop offset="0.7542" stop-color="#ff0023"/><stop offset="0.8047" stop-color="#ff006f"/><stop offset="0.8283" stop-color="#ff0071"/><stop offset="0.8586" stop-color="#ff0049"/><stop offset="0.8822" stop-color="#ff0023"/><stop offset="0.9394" stop-color="#ff0081"/><stop offset="0.9529" stop-color="#ff00a5"/><stop offset="0.963" stop-color="#ff00d9"/><stop offset="0.9663" stop-color="#fd00f2"/><stop offset="0.9697" stop-color="#ea00ff"/><stop offset="0.9764" stop-color="#9300ff"/><stop offset="0.9832" stop-color="#1b00ff"/><stop offset="0.9865" stop-color="#002fff"/><stop offset="0.9933" stop-color="#00d6ff"/><stop offset="0.9966" stop-color="#00ffd3"/><stop offset="1" stop-color="#00ff93"/></linearGradient><linearGradient id="g95"><stop offset="0" stop-color="#00fcff"/><stop offset="0.0034" stop-color="#00bbff"/><stop offset="0.0067" stop-color="#0053ff"/><stop offset="0.0101" stop-color="#1b00ff"/><stop offset="0.0135" stop-color="#8200ff"/><stop offset="0.0168" stop-color="#db00ff"/><stop offset="0.0202" stop-color="#ff00db"/><stop offset="0.0236" stop-color="#ff00a4"/><stop offset="0.0269" stop-color="#ff007b"/><stop offset="0.0303" stop-color="#ff0067"/><stop offset="0.037" stop-color="#ff0061"/><stop offset="0.0572" stop-color="#ff0090"/><stop offset="0.0673" stop-color="#ff0092"/><stop offset="0.0808" stop-color="#ff006c"/><stop offset="0.0976" stop-color="#ff0026"/><stop offset="0.101" stop-color="#ff0025"/><stop offset="0.1212" stop-color="#ff0072"/><stop offset="0.1448" stop-color="#ff00cf"/><stop offset="0.1616" stop-color="#fe00f1"/><stop offset="0.1785" stop-color="#ff00ef"/><stop offset="0.1953" stop-color="#ff00c8"/><stop offset="0.2357" stop-color="#ff0029"/><stop offset="0.2391" stop-color="#ff0023"/><stop offset="0.2559" stop-color="#ff0057"/><stop offset="0.2862" stop-color="#ff00c8"/><stop offset="0.303" stop-color="#ff00ee"/><stop offset="0.3232" stop-color="#fd00f3"/><stop offset="0.3401" stop-color="#ff00d9"/><stop offset="0.367" stop-color="#ff007d"/><stop offset="0.3906" stop-color="#ff0029"/><stop offset="0.3939" stop-color="#ff0022"/><stop offset="0.4175" stop-color="#ff005c"/><stop offset="0.4444" stop-color="#ff009e"/><stop offset="0.4646" stop-color="#ff00b0"/><stop offset="0.4848" stop-color="#ff009e"/><stop offset="0.5152" stop-color="#ff0051"/><stop offset="0.5354" stop-color="#ff0022"/><stop offset="0.6195" stop-color="#ff007e"/><stop offset="0.6566" stop-color="#ff0085"/><stop offset="0.7003" stop-color="#ff0062"/><stop offset="0.7542" stop-color="#ff0023"/><stop offset="0.8047" stop-color="#ff0070"/><stop offset="0.8283" stop-color="#ff0074"/><stop offset="0.8552" stop-color="#ff0051"/><stop offset="0.8822" stop-color="#ff0023"/><stop offset="0.9057" stop-color="#ff0047"/><stop offset="0.9495" stop-color="#ff0096"/><stop offset="0.9596" stop-color="#ff00bc"/><stop offset="0.9663" stop-color="#ff00e8"/><stop offset="0.9697" stop-color="#f700ff"/><stop offset="0.9764" stop-color="#a500ff"/><stop offset="0.9832" stop-color="#2f00ff"/><stop offset="0.9865" stop-color="#001aff"/><stop offset="0.9933" stop-color="#00c1ff"/><stop offset="0.9966" stop-color="#00ffe8"/><stop offset="1" stop-color="#00ffa6"/></linearGradient><linearGradient id="g96"><stop offset="0" stop-color="#00eaff"/><stop offset="0.0034" stop-color="#00a6ff"/><stop offset="0.0067" stop-color="#003bff"/><stop offset="0.0101" stop-color="#3600ff"/><stop offset="0.0135" stop-color="#9d00ff"/><stop offset="0.0168" stop-color="#f400ff"/><stop offset="0.0202" stop-color="#ff00c5"/><stop offset="0.0236" stop-color="#ff0091"/><stop offset="0.0269" stop-color="#ff006c"/><stop offset="0.0303" stop-color="#ff005c"/><stop offset="0.037" stop-color="#ff005c"/><stop offset="0.0572" stop-color="#ff0094"/><stop offset="0.0673" stop-color="#ff0096"/><stop offset="0.0774" stop-color="#ff007e"/><stop offset="0.0976" stop-color="#ff0029"/><stop offset="0.101" stop-color="#ff0024"/><stop offset="0.1178" stop-color="#ff0062"/><stop offset="0.1448" stop-color="#ff00d0"/><stop offset="0.1582" stop-color="#ff00f0"/><stop offset="0.1785" stop-color="#fe00f1"/><stop offset="0.1953" stop-color="#ff00ca"/><stop offset="0.2357" stop-color="#ff0028"/><stop offset="0.2391" stop-color="#ff0023"/><stop offset="0.2593" stop-color="#ff0067"/><stop offset="0.2896" stop-color="#ff00d4"/><stop offset="0.3064" stop-color="#fd00f3"/><stop offset="0.3266" stop-color="#fe00f2"/><stop offset="0.3434" stop-color="#ff00d0"/><stop offset="0.3906" stop-color="#ff0027"/><stop offset="0.3973" stop-color="#ff0029"/><stop offset="0.4411" stop-color="#ff009b"/><stop offset="0.4613" stop-color="#ff00b2"/><stop offset="0.4815" stop-color="#ff00a6"/><stop offset="0.5084" stop-color="#ff0067"/><stop offset="0.5354" stop-color="#ff0023"/><stop offset="0.6195" stop-color="#ff0080"/><stop offset="0.6566" stop-color="#ff0088"/><stop offset="0.697" stop-color="#ff0069"/><stop offset="0.7542" stop-color="#ff0023"/><stop offset="0.771" stop-color="#ff0039"/><stop offset="0.8047" stop-color="#ff0071"/><stop offset="0.8283" stop-color="#ff0077"/><stop offset="0.8552" stop-color="#ff0054"/><stop offset="0.8822" stop-color="#ff0024"/><stop offset="0.899" stop-color="#ff003a"/><stop offset="0.9529" stop-color="#ff009b"/><stop offset="0.963" stop-color="#ff00c6"/><stop offset="0.9697" stop-color="#fb00f6"/><stop offset="0.9731" stop-color="#e100ff"/><stop offset="0.9798" stop-color="#8100ff"/><stop offset="0.9865" stop-color="#0409ff"/><stop offset="0.9933" stop-color="#00acff"/><stop offset="0.9966" stop-color="#00fffc"/><stop offset="1" stop-color="#00ffba"/></linearGradient><linearGradient id="g97"><stop offset="0" stop-color="#00d8ff"/><stop offset="0.0034" stop-color="#0091ff"/><stop offset="0.0067" stop-color="#0022ff"/><stop offset="0.0101" stop-color="#5100ff"/><stop offset="0.0135" stop-color="#b800ff"/><stop offset="0.0168" stop-color="#fe00f0"/><stop offset="0.0202" stop-color="#ff00b0"/><stop offset="0.0236" stop-color="#ff0080"/><stop offset="0.0269" stop-color="#ff005f"/><stop offset="0.0303" stop-color="#ff0053"/><stop offset="0.037" stop-color="#ff0058"/><stop offset="0.0572" stop-color="#ff0097"/><stop offset="0.0673" stop-color="#ff009b"/><stop offset="0.0774" stop-color="#ff0084"/><stop offset="0.0976" stop-color="#ff002b"/><stop offset="0.101" stop-color="#ff0023"/><stop offset="0.1145" stop-color="#ff0051"/><stop offset="0.1448" stop-color="#ff00d1"/><stop offset="0.1582" stop-color="#fe00f1"/><stop offset="0.1785" stop-color="#fd00f3"/><stop offset="0.1919" stop-color="#ff00d7"/><stop offset="0.2155" stop-color="#ff0079"/><stop offset="0.2357" stop-color="#ff0027"/><stop offset="0.2391" stop-color="#ff0024"/><stop offset="0.2593" stop-color="#ff0069"/><stop offset="0.2862" stop-color="#ff00cd"/><stop offset="0.303" stop-color="#fe00f1"/><stop offset="0.3232" stop-color="#fc00f5"/><stop offset="0.3367" stop-color="#ff00e1"/><stop offset="0.3603" stop-color="#ff0094"/><stop offset="0.3872" stop-color="#ff002e"/><stop offset="0.3939" stop-color="#ff0024"/><stop offset="0.4444" stop-color="#ff00a4"/><stop offset="0.4646" stop-color="#ff00b6"/><stop offset="0.4848" stop-color="#ff00a3"/><stop offset="0.5152" stop-color="#ff0056"/><stop offset="0.5354" stop-color="#ff0023"/><stop offset="0.5758" stop-color="#ff0051"/><stop offset="0.6229" stop-color="#ff0084"/><stop offset="0.6599" stop-color="#ff008a"/><stop offset="0.7003" stop-color="#ff0068"/><stop offset="0.7576" stop-color="#ff0022"/><stop offset="0.8081" stop-color="#ff0076"/><stop offset="0.8316" stop-color="#ff0078"/><stop offset="0.8586" stop-color="#ff0050"/><stop offset="0.8855" stop-color="#ff0023"/><stop offset="0.9428" stop-color="#ff0084"/><stop offset="0.9562" stop-color="#ff00a1"/><stop offset="0.9663" stop-color="#ff00d2"/><stop offset="0.9697" stop-color="#ff00ed"/><stop offset="0.9731" stop-color="#f000ff"/><stop offset="0.9798" stop-color="#9300ff"/><stop offset="0.9832" stop-color="#5700ff"/><stop offset="0.9865" stop-color="#1000ff"/><stop offset="0.9899" stop-color="#0040ff"/><stop offset="0.9966" stop-color="#00edff"/><stop offset="1" stop-color="#00ffcd"/></linearGradient><linearGradient id="g98"><stop offset="0" stop-color="#00c6ff"/><stop offset="0.0034" stop-color="#007bff"/><stop offset="0.0067" stop-color="#030bff"/><stop offset="0.0101" stop-color="#6d00ff"/><stop offset="0.0135" stop-color="#d400ff"/><stop offset="0.0168" stop-color="#ff00d8"/><stop offset="0.0202" stop-color="#ff009b"/><stop offset="0.0236" stop-color="#ff006f"/><stop offset="0.0269" stop-color="#ff0052"/><stop offset="0.0303" stop-color="#ff004a"/><stop offset="0.037" stop-color="#ff0055"/><stop offset="0.0539" stop-color="#ff0093"/><stop offset="0.064" stop-color="#ff00a1"/><stop offset="0.0741" stop-color="#ff0093"/><stop offset="0.0909" stop-color="#ff004d"/><stop offset="0.101" stop-color="#ff0023"/><stop offset="0.1111" stop-color="#ff0041"/><stop offset="0.1448" stop-color="#ff00d2"/><stop offset="0.1582" stop-color="#fd00f3"/><stop offset="0.1751" stop-color="#fb00f7"/><stop offset="0.1886" stop-color="#ff00e3"/><stop offset="0.2088" stop-color="#ff0098"/><stop offset="0.2323" stop-color="#ff0030"/><stop offset="0.2391" stop-color="#ff0025"/><stop offset="0.2593" stop-color="#ff006b"/><stop offset="0.2862" stop-color="#ff00cf"/><stop offset="0.303" stop-color="#fd00f3"/><stop offset="0.3232" stop-color="#fc00f5"/><stop offset="0.3367" stop-color="#ff00e1"/><stop offset="0.3603" stop-color="#ff0092"/><stop offset="0.3872" stop-color="#ff002c"/><stop offset="0.3939" stop-color="#ff0025"/><stop offset="0.4411" stop-color="#ff00a1"/><stop offset="0.4613" stop-color="#ff00b8"/><stop offset="0.4815" stop-color="#ff00ab"/><stop offset="0.5084" stop-color="#ff006c"/><stop offset="0.5354" stop-color="#ff0024"/><stop offset="0.5623" stop-color="#ff003e"/><stop offset="0.6195" stop-color="#ff0084"/><stop offset="0.6566" stop-color="#ff008e"/><stop offset="0.697" stop-color="#ff006f"/><stop offset="0.7576" stop-color="#ff0023"/><stop offset="0.7811" stop-color="#ff004b"/><stop offset="0.8081" stop-color="#ff0078"/><stop offset="0.8316" stop-color="#ff007b"/><stop offset="0.8586" stop-color="#ff0053"/><stop offset="0.8855" stop-color="#ff0023"/><stop offset="0.936" stop-color="#ff007b"/><stop offset="0.9562" stop-color="#ff009c"/><stop offset="0.9663" stop-color="#ff00c8"/><stop offset="0.9731" stop-color="#f900fa"/><stop offset="0.9764" stop-color="#d600ff"/><stop offset="0.9798" stop-color="#a600ff"/><stop offset="0.9832" stop-color="#6b00ff"/><stop offset="0.9865" stop-color="#2500ff"/><stop offset="0.9899" stop-color="#002aff"/><stop offset="0.9966" stop-color="#00d9ff"/><stop offset="1" stop-color="#00ffe1"/></linearGradient><linearGradient id="g99"><stop offset="0" stop-color="#00b4ff"/><stop offset="0.0034" stop-color="#0065ff"/><stop offset="0.0067" stop-color="#1200ff"/><stop offset="0.0101" stop-color="#8900ff"/><stop offset="0.0135" stop-color="#ef00ff"/><stop offset="0.0168" stop-color="#ff00c0"/><stop offset="0.0202" stop-color="#ff0087"/><stop offset="0.0236" stop-color="#ff0060"/><stop offset="0.0269" stop-color="#ff0047"/><stop offset="0.0303" stop-color="#ff0043"/><stop offset="0.0404" stop-color="#ff0061"/><stop offset="0.0539" stop-color="#ff0096"/><stop offset="0.064" stop-color="#ff00a6"/><stop offset="0.0741" stop-color="#ff0099"/><stop offset="0.0875" stop-color="#ff0062"/><stop offset="0.101" stop-color="#ff0025"/><stop offset="0.1077" stop-color="#ff0032"/><stop offset="0.1448" stop-color="#ff00d2"/><stop offset="0.1582" stop-color="#fd00f4"/><stop offset="0.1751" stop-color="#fa00f9"/><stop offset="0.1886" stop-color="#ff00e6"/><stop offset="0.2088" stop-color="#ff0098"/><stop offset="0.2323" stop-color="#ff002f"/><stop offset="0.2357" stop-color="#ff0025"/><stop offset="0.2424" stop-color="#ff002e"/><stop offset="0.2862" stop-color="#ff00d2"/><stop offset="0.2997" stop-color="#fe00f1"/><stop offset="0.3199" stop-color="#fb00f8"/><stop offset="0.3333" stop-color="#ff00e9"/><stop offset="0.3535" stop-color="#ff00ab"/><stop offset="0.3872" stop-color="#ff002a"/><stop offset="0.3906" stop-color="#ff0023"/><stop offset="0.4074" stop-color="#ff0048"/><stop offset="0.4411" stop-color="#ff00a4"/><stop offset="0.4613" stop-color="#ff00bb"/><stop offset="0.4815" stop-color="#ff00ae"/><stop offset="0.5084" stop-color="#ff006e"/><stop offset="0.5354" stop-color="#ff0025"/><stop offset="0.5556" stop-color="#ff0035"/><stop offset="0.6162" stop-color="#ff0083"/><stop offset="0.6532" stop-color="#ff0091"/><stop offset="0.6902" stop-color="#ff007a"/><stop offset="0.7576" stop-color="#ff0024"/><stop offset="0.771" stop-color="#ff0034"/><stop offset="0.8047" stop-color="#ff0075"/><stop offset="0.8249" stop-color="#ff0081"/><stop offset="0.8485" stop-color="#ff0069"/><stop offset="0.8855" stop-color="#ff0023"/><stop offset="0.936" stop-color="#ff007b"/><stop offset="0.9562" stop-color="#ff0098"/><stop offset="0.9663" stop-color="#ff00bf"/><stop offset="0.9731" stop-color="#fe00f1"/><stop offset="0.9764" stop-color="#e600ff"/><stop offset="0.9798" stop-color="#b800ff"/><stop offset="0.9832" stop-color="#7e00ff"/><stop offset="0.9865" stop-color="#3a00ff"/><stop offset="0.9899" stop-color="#0015ff"/><stop offset="0.9966" stop-color="#00c4ff"/><stop offset="1" stop-color="#00fff4"/></linearGradient><linearGradient id="g100"><stop offset="0" stop-color="#00a2ff"/><stop offset="0.0034" stop-color="#004fff"/><stop offset="0.0067" stop-color="#2e00ff"/><stop offset="0.0101" stop-color="#a700ff"/><stop offset="0.0135" stop-color="#fe00f2"/><stop offset="0.0168" stop-color="#ff00a9"/><stop offset="0.0202" stop-color="#ff0075"/><stop offset="0.0236" stop-color="#ff0053"/><stop offset="0.0269" stop-color="#ff003e"/><stop offset="0.0337" stop-color="#ff0045"/><stop offset="0.0539" stop-color="#ff0099"/><stop offset="0.064" stop-color="#ff00aa"/><stop offset="0.0741" stop-color="#ff009e"/><stop offset="0.0875" stop-color="#ff0067"/><stop offset="0.101" stop-color="#ff0028"/><stop offset="0.1044" stop-color="#ff0025"/><stop offset="0.1212" stop-color="#ff006a"/><stop offset="0.1448" stop-color="#ff00d3"/><stop offset="0.1582" stop-color="#fc00f5"/><stop offset="0.1751" stop-color="#f900fb"/><stop offset="0.1886" stop-color="#ff00e8"/><stop offset="0.2088" stop-color="#ff0099"/><stop offset="0.2323" stop-color="#ff002f"/><stop offset="0.2357" stop-color="#ff0024"/><stop offset="0.2424" stop-color="#ff0030"/><stop offset="0.2862" stop-color="#ff00d5"/><stop offset="0.2997" stop-color="#fd00f2"/><stop offset="0.3199" stop-color="#fa00f9"/><stop offset="0.3333" stop-color="#ff00e9"/><stop offset="0.3535" stop-color="#ff00aa"/><stop offset="0.3872" stop-color="#ff0029"/><stop offset="0.3906" stop-color="#ff0023"/><stop offset="0.4141" stop-color="#ff005f"/><stop offset="0.4411" stop-color="#ff00a7"/><stop offset="0.4613" stop-color="#ff00be"/><stop offset="0.4815" stop-color="#ff00b1"/><stop offset="0.5084" stop-color="#ff0071"/><stop offset="0.5354" stop-color="#ff0026"/><stop offset="0.5488" stop-color="#ff002c"/><stop offset="0.6195" stop-color="#ff0087"/><stop offset="0.6566" stop-color="#ff0094"/><stop offset="0.6936" stop-color="#ff0079"/><stop offset="0.7609" stop-color="#ff0022"/><stop offset="0.8081" stop-color="#ff007a"/><stop offset="0.8283" stop-color="#ff0083"/><stop offset="0.8519" stop-color="#ff0067"/><stop offset="0.8855" stop-color="#ff0023"/><stop offset="0.9091" stop-color="#ff004e"/><stop offset="0.9394" stop-color="#ff007f"/><stop offset="0.9596" stop-color="#ff009c"/><stop offset="0.9697" stop-color="#ff00ca"/><stop offset="0.9764" stop-color="#f600ff"/><stop offset="0.9798" stop-color="#c900ff"/><stop offset="0.9832" stop-color="#9200ff"/><stop offset="0.9899" stop-color="#0605ff"/><stop offset="0.9966" stop-color="#00b0ff"/><stop offset="1" stop-color="#00f6ff"/></linearGradient><linearGradient id="g101"><stop offset="0" stop-color="#0099ff"/><stop offset="0.0034" stop-color="#0042ff"/><stop offset="0.0067" stop-color="#3e00ff"/><stop offset="0.0101" stop-color="#b800ff"/><stop offset="0.0135" stop-color="#ff00e3"/><stop offset="0.0168" stop-color="#ff009b"/><stop offset="0.0202" stop-color="#ff006a"/><stop offset="0.0236" stop-color="#ff004b"/><stop offset="0.0269" stop-color="#ff0039"/><stop offset="0.0337" stop-color="#ff0044"/><stop offset="0.0539" stop-color="#ff009e"/><stop offset="0.064" stop-color="#ff00b0"/><stop offset="0.0741" stop-color="#ff00a4"/><stop offset="0.0875" stop-color="#ff006c"/><stop offset="0.101" stop-color="#ff0029"/><stop offset="0.1044" stop-color="#ff0024"/><stop offset="0.1212" stop-color="#ff0069"/><stop offset="0.1448" stop-color="#ff00d4"/><stop offset="0.1582" stop-color="#fb00f6"/><stop offset="0.1751" stop-color="#f900fc"/><stop offset="0.1886" stop-color="#ff00e9"/><stop offset="0.2088" stop-color="#ff0099"/><stop offset="0.2323" stop-color="#ff002d"/><stop offset="0.2357" stop-color="#ff0024"/><stop offset="0.2458" stop-color="#ff003c"/><stop offset="0.2828" stop-color="#ff00cd"/><stop offset="0.2997" stop-color="#fd00f4"/><stop offset="0.3199" stop-color="#fa00f9"/><stop offset="0.3333" stop-color="#ff00e8"/><stop offset="0.3535" stop-color="#ff00a7"/><stop offset="0.3838" stop-color="#ff0030"/><stop offset="0.3906" stop-color="#ff0023"/><stop offset="0.4209" stop-color="#ff0076"/><stop offset="0.4444" stop-color="#ff00af"/><stop offset="0.4646" stop-color="#ff00c0"/><stop offset="0.4848" stop-color="#ff00ad"/><stop offset="0.5118" stop-color="#ff0069"/><stop offset="0.5354" stop-color="#ff0027"/><stop offset="0.5421" stop-color="#ff0025"/><stop offset="0.6195" stop-color="#ff0089"/><stop offset="0.6566" stop-color="#ff0095"/><stop offset="0.6936" stop-color="#ff007c"/><stop offset="0.7609" stop-color="#ff0023"/><stop offset="0.7912" stop-color="#ff005e"/><stop offset="0.8148" stop-color="#ff0081"/><stop offset="0.835" stop-color="#ff0081"/><stop offset="0.862" stop-color="#ff0054"/><stop offset="0.8855" stop-color="#ff0024"/><stop offset="0.899" stop-color="#ff0037"/><stop offset="0.9327" stop-color="#ff0078"/><stop offset="0.9596" stop-color="#ff0098"/><stop offset="0.9697" stop-color="#ff00c1"/><stop offset="0.9764" stop-color="#fb00f7"/><stop offset="0.9798" stop-color="#d800ff"/><stop offset="0.9832" stop-color="#a300ff"/><stop offset="0.9865" stop-color="#6100ff"/><stop offset="0.9899" stop-color="#1300ff"/><stop offset="0.9933" stop-color="#0044ff"/><stop offset="0.9966" stop-color="#009eff"/><stop offset="1" stop-color="#00e6ff"/></linearGradient><linearGradient id="g102"><stop offset="0" stop-color="#0099ff"/><stop offset="0.0034" stop-color="#0041ff"/><stop offset="0.0067" stop-color="#4200ff"/><stop offset="0.0101" stop-color="#bd00ff"/><stop offset="0.0135" stop-color="#ff00de"/><stop offset="0.0168" stop-color="#ff0096"/><stop offset="0.0202" stop-color="#ff0066"/><stop offset="0.0236" stop-color="#ff0048"/><stop offset="0.0269" stop-color="#ff0037"/><stop offset="0.0337" stop-color="#ff0044"/><stop offset="0.0539" stop-color="#ff00a4"/><stop offset="0.064" stop-color="#ff00b7"/><stop offset="0.0741" stop-color="#ff00aa"/><stop offset="0.0875" stop-color="#ff006f"/><stop offset="0.101" stop-color="#ff0029"/><stop offset="0.1044" stop-color="#ff0024"/><stop offset="0.1212" stop-color="#ff006a"/><stop offset="0.1448" stop-color="#ff00d5"/><stop offset="0.1582" stop-color="#fb00f7"/><stop offset="0.1751" stop-color="#f800fc"/><stop offset="0.1886" stop-color="#ff00e8"/><stop offset="0.2088" stop-color="#ff0097"/><stop offset="0.2323" stop-color="#ff002c"/><stop offset="0.2357" stop-color="#ff0023"/><stop offset="0.2492" stop-color="#ff004b"/><stop offset="0.2828" stop-color="#ff00cf"/><stop offset="0.2963" stop-color="#fe00f1"/><stop offset="0.3165" stop-color="#f900fa"/><stop offset="0.3333" stop-color="#ff00e6"/><stop offset="0.3569" stop-color="#ff0097"/><stop offset="0.3838" stop-color="#ff002d"/><stop offset="0.3906" stop-color="#ff0025"/><stop offset="0.4411" stop-color="#ff00ab"/><stop offset="0.4613" stop-color="#ff00c1"/><stop offset="0.4815" stop-color="#ff00b4"/><stop offset="0.5084" stop-color="#ff0075"/><stop offset="0.5354" stop-color="#ff0029"/><stop offset="0.5421" stop-color="#ff0024"/><stop offset="0.6195" stop-color="#ff0089"/><stop offset="0.6566" stop-color="#ff0097"/><stop offset="0.6936" stop-color="#ff007d"/><stop offset="0.7609" stop-color="#ff0023"/><stop offset="0.8114" stop-color="#ff007f"/><stop offset="0.8316" stop-color="#ff0084"/><stop offset="0.8552" stop-color="#ff0064"/><stop offset="0.8855" stop-color="#ff0025"/><stop offset="0.8923" stop-color="#ff0028"/><stop offset="0.9327" stop-color="#ff0078"/><stop offset="0.9596" stop-color="#ff0094"/><stop offset="0.9697" stop-color="#ff00ba"/><stop offset="0.9764" stop-color="#ff00f0"/><stop offset="0.9798" stop-color="#e500ff"/><stop offset="0.9832" stop-color="#b000ff"/><stop offset="0.9865" stop-color="#7000ff"/><stop offset="0.9899" stop-color="#2300ff"/><stop offset="0.9933" stop-color="#0035ff"/><stop offset="0.9966" stop-color="#0090ff"/><stop offset="1" stop-color="#00d8ff"/></linearGradient><linearGradient id="g103"><stop offset="0" stop-color="#0099ff"/><stop offset="0.0034" stop-color="#003fff"/><stop offset="0.0067" stop-color="#4600ff"/><stop offset="0.0101" stop-color="#c300ff"/><stop offset="0.0135" stop-color="#ff00d8"/><stop offset="0.0168" stop-color="#ff0091"/><stop offset="0.0202" stop-color="#ff0063"/><stop offset="0.0236" stop-color="#ff0046"/><stop offset="0.0269" stop-color="#ff0036"/><stop offset="0.0337" stop-color="#ff0045"/><stop offset="0.0539" stop-color="#ff00aa"/><stop offset="0.064" stop-color="#ff00be"/><stop offset="0.0741" stop-color="#ff00b0"/><stop offset="0.0875" stop-color="#ff0073"/><stop offset="0.101" stop-color="#ff002a"/><stop offset="0.1044" stop-color="#ff0024"/><stop offset="0.1212" stop-color="#ff006a"/><stop offset="0.1448" stop-color="#ff00d6"/><stop offset="0.1549" stop-color="#fd00f2"/><stop offset="0.1717" stop-color="#f800fe"/><stop offset="0.1886" stop-color="#ff00e8"/><stop offset="0.2088" stop-color="#ff0096"/><stop offset="0.2323" stop-color="#ff002a"/><stop offset="0.2357" stop-color="#ff0023"/><stop offset="0.2525" stop-color="#ff005a"/><stop offset="0.2828" stop-color="#ff00d1"/><stop offset="0.2963" stop-color="#fe00f2"/><stop offset="0.3165" stop-color="#f900fa"/><stop offset="0.3333" stop-color="#ff00e5"/><stop offset="0.3569" stop-color="#ff0093"/><stop offset="0.3838" stop-color="#ff002a"/><stop offset="0.3872" stop-color="#ff0023"/><stop offset="0.404" stop-color="#ff0049"/><stop offset="0.4377" stop-color="#ff00a6"/><stop offset="0.4579" stop-color="#ff00c2"/><stop offset="0.4781" stop-color="#ff00ba"/><stop offset="0.5017" stop-color="#ff008a"/><stop offset="0.5387" stop-color="#ff0024"/><stop offset="0.5657" stop-color="#ff0041"/><stop offset="0.6195" stop-color="#ff008a"/><stop offset="0.6532" stop-color="#ff0098"/><stop offset="0.6902" stop-color="#ff0081"/><stop offset="0.7609" stop-color="#ff0023"/><stop offset="0.8114" stop-color="#ff007f"/><stop offset="0.8316" stop-color="#ff0084"/><stop offset="0.8552" stop-color="#ff0066"/><stop offset="0.8889" stop-color="#ff0022"/><stop offset="0.9327" stop-color="#ff0077"/><stop offset="0.963" stop-color="#ff0098"/><stop offset="0.9697" stop-color="#ff00b3"/><stop offset="0.9764" stop-color="#ff00e6"/><stop offset="0.9798" stop-color="#f100ff"/><stop offset="0.9832" stop-color="#be00ff"/><stop offset="0.9865" stop-color="#7e00ff"/><stop offset="0.9899" stop-color="#3200ff"/><stop offset="0.9933" stop-color="#0026ff"/><stop offset="0.9966" stop-color="#0081ff"/><stop offset="1" stop-color="#00cbff"/></linearGradient><linearGradient id="g104"><stop offset="0" stop-color="#0099ff"/><stop offset="0.0034" stop-color="#003cff"/><stop offset="0.0067" stop-color="#4b00ff"/><stop offset="0.0101" stop-color="#c900ff"/><stop offset="0.0135" stop-color="#ff00d2"/><stop offset="0.0168" stop-color="#ff008d"/><stop offset="0.0202" stop-color="#ff005f"/><stop offset="0.0236" stop-color="#ff0043"/><stop offset="0.0269" stop-color="#ff0034"/><stop offset="0.0337" stop-color="#ff0046"/><stop offset="0.0539" stop-color="#ff00b0"/><stop offset="0.064" stop-color="#ff00c5"/><stop offset="0.0741" stop-color="#ff00b6"/><stop offset="0.0875" stop-color="#ff0076"/><stop offset="0.101" stop-color="#ff002a"/><stop offset="0.1044" stop-color="#ff0024"/><stop offset="0.1212" stop-color="#ff006b"/><stop offset="0.1448" stop-color="#ff00d6"/><stop offset="0.1549" stop-color="#fd00f3"/><stop offset="0.1717" stop-color="#f800fe"/><stop offset="0.1852" stop-color="#fe00f0"/><stop offset="0.202" stop-color="#ff00b4"/><stop offset="0.229" stop-color="#ff0035"/><stop offset="0.2357" stop-color="#ff0023"/><stop offset="0.2525" stop-color="#ff005c"/><stop offset="0.2828" stop-color="#ff00d3"/><stop offset="0.2963" stop-color="#fd00f3"/><stop offset="0.3165" stop-color="#fa00fa"/><stop offset="0.3333" stop-color="#ff00e3"/><stop offset="0.3569" stop-color="#ff0090"/><stop offset="0.3838" stop-color="#ff0028"/><stop offset="0.3872" stop-color="#ff0023"/><stop offset="0.4108" stop-color="#ff0060"/><stop offset="0.4411" stop-color="#ff00af"/><stop offset="0.4613" stop-color="#ff00c4"/><stop offset="0.4815" stop-color="#ff00b7"/><stop offset="0.5084" stop-color="#ff0078"/><stop offset="0.5387" stop-color="#ff0025"/><stop offset="0.5556" stop-color="#ff0032"/><stop offset="0.6195" stop-color="#ff008a"/><stop offset="0.6532" stop-color="#ff0099"/><stop offset="0.6902" stop-color="#ff0082"/><stop offset="0.7609" stop-color="#ff0022"/><stop offset="0.8114" stop-color="#ff007f"/><stop offset="0.8316" stop-color="#ff0085"/><stop offset="0.8552" stop-color="#ff0067"/><stop offset="0.8889" stop-color="#ff0023"/><stop offset="0.9057" stop-color="#ff0041"/><stop offset="0.9327" stop-color="#ff0077"/><stop offset="0.963" stop-color="#ff0094"/><stop offset="0.9697" stop-color="#ff00ac"/><stop offset="0.9764" stop-color="#ff00dc"/><stop offset="0.9798" stop-color="#f900fb"/><stop offset="0.9832" stop-color="#cb00ff"/><stop offset="0.9865" stop-color="#8d00ff"/><stop offset="0.9899" stop-color="#4100ff"/><stop offset="0.9933" stop-color="#0016ff"/><stop offset="0.9966" stop-color="#0073ff"/><stop offset="1" stop-color="#00bdff"/></linearGradient><linearGradient id="g105"><stop offset="0" stop-color="#0099ff"/><stop offset="0.0034" stop-color="#003aff"/><stop offset="0.0067" stop-color="#4f00ff"/><stop offset="0.0101" stop-color="#ce00ff"/><stop offset="0.0135" stop-color="#ff00cd"/><stop offset="0.0168" stop-color="#ff0088"/><stop offset="0.0202" stop-color="#ff005c"/><stop offset="0.0236" stop-color="#ff0041"/><stop offset="0.0269" stop-color="#ff0033"/><stop offset="0.0337" stop-color="#ff0047"/><stop offset="0.0505" stop-color="#ff00a7"/><stop offset="0.0606" stop-color="#ff00c8"/><stop offset="0.0707" stop-color="#ff00c6"/><stop offset="0.0808" stop-color="#ff00a0"/><stop offset="0.101" stop-color="#ff002a"/><stop offset="0.1044" stop-color="#ff0024"/><stop offset="0.1212" stop-color="#ff006b"/><stop offset="0.1448" stop-color="#ff00d7"/><stop offset="0.1549" stop-color="#fd00f3"/><stop offset="0.1717" stop-color="#f800fe"/><stop offset="0.1852" stop-color="#ff00f0"/><stop offset="0.202" stop-color="#ff00b2"/><stop offset="0.229" stop-color="#ff0033"/><stop offset="0.2357" stop-color="#ff0024"/><stop offset="0.2559" stop-color="#ff006d"/><stop offset="0.2828" stop-color="#ff00d5"/><stop offset="0.2963" stop-color="#fd00f4"/><stop offset="0.3165" stop-color="#fa00fa"/><stop offset="0.33" stop-color="#ff00ea"/><stop offset="0.3502" stop-color="#ff00a8"/><stop offset="0.3805" stop-color="#ff002f"/><stop offset="0.3872" stop-color="#ff0024"/><stop offset="0.4411" stop-color="#ff00b1"/><stop offset="0.4613" stop-color="#ff00c6"/><stop offset="0.4815" stop-color="#ff00b9"/><stop offset="0.5084" stop-color="#ff007a"/><stop offset="0.5387" stop-color="#ff0026"/><stop offset="0.5488" stop-color="#ff0029"/><stop offset="0.6195" stop-color="#ff008b"/><stop offset="0.6532" stop-color="#ff009a"/><stop offset="0.6902" stop-color="#ff0083"/><stop offset="0.7609" stop-color="#ff0022"/><stop offset="0.8114" stop-color="#ff007f"/><stop offset="0.8316" stop-color="#ff0086"/><stop offset="0.8552" stop-color="#ff0069"/><stop offset="0.8889" stop-color="#ff0024"/><stop offset="0.899" stop-color="#ff0030"/><stop offset="0.9327" stop-color="#ff0077"/><stop offset="0.963" stop-color="#ff0091"/><stop offset="0.9697" stop-color="#ff00a5"/><stop offset="0.9764" stop-color="#ff00d2"/><stop offset="0.9798" stop-color="#fd00f3"/><stop offset="0.9832" stop-color="#d900ff"/><stop offset="0.9865" stop-color="#9c00ff"/><stop offset="0.9933" stop-color="#030aff"/><stop offset="0.9966" stop-color="#0064ff"/><stop offset="1" stop-color="#00b0ff"/></linearGradient><linearGradient id="g106"><stop offset="0" stop-color="#0099ff"/><stop offset="0.0034" stop-color="#0038ff"/><stop offset="0.0067" stop-color="#5400ff"/><stop offset="0.0101" stop-color="#d400ff"/><stop offset="0.0135" stop-color="#ff00c7"/><stop offset="0.0168" stop-color="#ff0083"/><stop offset="0.0202" stop-color="#ff0058"/><stop offset="0.0236" stop-color="#ff003f"/><stop offset="0.0269" stop-color="#ff0031"/><stop offset="0.0337" stop-color="#ff0048"/><stop offset="0.0505" stop-color="#ff00ac"/><stop offset="0.0606" stop-color="#ff00cf"/><stop offset="0.0707" stop-color="#ff00cc"/><stop offset="0.0808" stop-color="#ff00a6"/><stop offset="0.101" stop-color="#ff002b"/><stop offset="0.1044" stop-color="#ff0024"/><stop offset="0.1212" stop-color="#ff006b"/><stop offset="0.1448" stop-color="#ff00d8"/><stop offset="0.1549" stop-color="#fd00f4"/><stop offset="0.1717" stop-color="#f800fe"/><stop offset="0.1852" stop-color="#ff00ef"/><stop offset="0.202" stop-color="#ff00b1"/><stop offset="0.229" stop-color="#ff0031"/><stop offset="0.2323" stop-color="#ff0026"/><stop offset="0.2391" stop-color="#ff002e"/><stop offset="0.2828" stop-color="#ff00d8"/><stop offset="0.2963" stop-color="#fc00f5"/><stop offset="0.3165" stop-color="#fa00fa"/><stop offset="0.33" stop-color="#ff00e8"/><stop offset="0.3502" stop-color="#ff00a5"/><stop offset="0.3805" stop-color="#ff002c"/><stop offset="0.3838" stop-color="#ff0024"/><stop offset="0.3973" stop-color="#ff003d"/><stop offset="0.4377" stop-color="#ff00ac"/><stop offset="0.4579" stop-color="#ff00c6"/><stop offset="0.4781" stop-color="#ff00bf"/><stop offset="0.5017" stop-color="#ff008f"/><stop offset="0.5387" stop-color="#ff0028"/><stop offset="0.5455" stop-color="#ff0025"/><stop offset="0.6229" stop-color="#ff008e"/><stop offset="0.6566" stop-color="#ff009b"/><stop offset="0.6936" stop-color="#ff0080"/><stop offset="0.7609" stop-color="#ff0022"/><stop offset="0.8114" stop-color="#ff007f"/><stop offset="0.8316" stop-color="#ff0086"/><stop offset="0.8552" stop-color="#ff006a"/><stop offset="0.8923" stop-color="#ff0023"/><stop offset="0.9327" stop-color="#ff0077"/><stop offset="0.9663" stop-color="#ff0094"/><stop offset="0.9731" stop-color="#ff00b0"/><stop offset="0.9798" stop-color="#ff00ea"/><stop offset="0.9832" stop-color="#e600ff"/><stop offset="0.9865" stop-color="#ab00ff"/><stop offset="0.9899" stop-color="#6000ff"/><stop offset="0.9933" stop-color="#0900ff"/><stop offset="1" stop-color="#00a3ff"/></linearGradient><linearGradient id="g107"><stop offset="0" stop-color="#0099ff"/><stop offset="0.0034" stop-color="#0036ff"/><stop offset="0.0067" stop-color="#5900ff"/><stop offset="0.0101" stop-color="#da00ff"/><stop offset="0.0135" stop-color="#ff00c1"/><stop offset="0.0168" stop-color="#ff007e"/><stop offset="0.0202" stop-color="#ff0055"/><stop offset="0.0236" stop-color="#ff003c"/><stop offset="0.0269" stop-color="#ff0030"/><stop offset="0.0337" stop-color="#ff0049"/><stop offset="0.0505" stop-color="#ff00b2"/><stop offset="0.0606" stop-color="#ff00d6"/><stop offset="0.0707" stop-color="#ff00d3"/><stop offset="0.0808" stop-color="#ff00ab"/><stop offset="0.101" stop-color="#ff002b"/><stop offset="0.1044" stop-color="#ff0024"/><stop offset="0.1212" stop-color="#ff006c"/><stop offset="0.1448" stop-color="#ff00d9"/><stop offset="0.1549" stop-color="#fc00f4"/><stop offset="0.1717" stop-color="#f700fe"/><stop offset="0.1852" stop-color="#ff00ef"/><stop offset="0.202" stop-color="#ff00af"/><stop offset="0.229" stop-color="#ff002f"/><stop offset="0.2323" stop-color="#ff0025"/><stop offset="0.2391" stop-color="#ff0030"/><stop offset="0.2828" stop-color="#ff00da"/><stop offset="0.2963" stop-color="#fc00f5"/><stop offset="0.3165" stop-color="#fa00f9"/><stop offset="0.33" stop-color="#ff00e6"/><stop offset="0.3535" stop-color="#ff0094"/><stop offset="0.3805" stop-color="#ff0029"/><stop offset="0.3838" stop-color="#ff0022"/><stop offset="0.4074" stop-color="#ff005d"/><stop offset="0.4377" stop-color="#ff00ae"/><stop offset="0.4579" stop-color="#ff00c8"/><stop offset="0.4781" stop-color="#ff00c0"/><stop offset="0.5017" stop-color="#ff0091"/><stop offset="0.5387" stop-color="#ff0029"/><stop offset="0.5455" stop-color="#ff0024"/><stop offset="0.6229" stop-color="#ff008f"/><stop offset="0.6566" stop-color="#ff009c"/><stop offset="0.6936" stop-color="#ff0081"/><stop offset="0.7609" stop-color="#ff0022"/><stop offset="0.8114" stop-color="#ff007f"/><stop offset="0.835" stop-color="#ff0085"/><stop offset="0.8586" stop-color="#ff0066"/><stop offset="0.8923" stop-color="#ff0023"/><stop offset="0.936" stop-color="#ff007b"/><stop offset="0.9663" stop-color="#ff0090"/><stop offset="0.9731" stop-color="#ff00a9"/><stop offset="0.9798" stop-color="#ff00df"/><stop offset="0.9832" stop-color="#f300ff"/><stop offset="0.9865" stop-color="#b900ff"/><stop offset="0.9899" stop-color="#7000ff"/><stop offset="0.9933" stop-color="#1800ff"/><stop offset="0.9966" stop-color="#0047ff"/><stop offset="1" stop-color="#0095ff"/></linearGradient><linearGradient id="g108"><stop offset="0" stop-color="#0099ff"/><stop offset="0.0034" stop-color="#0033ff"/><stop offset="0.0067" stop-color="#5e00ff"/><stop offset="0.0101" stop-color="#e000ff"/><stop offset="0.0135" stop-color="#ff00bb"/><stop offset="0.0168" stop-color="#ff007a"/><stop offset="0.0202" stop-color="#ff0051"/><stop offset="0.0236" stop-color="#ff003a"/><stop offset="0.0269" stop-color="#ff002e"/><stop offset="0.0337" stop-color="#ff004a"/><stop offset="0.0505" stop-color="#ff00b7"/><stop offset="0.0606" stop-color="#ff00dc"/><stop offset="0.0707" stop-color="#ff00da"/><stop offset="0.0808" stop-color="#ff00b0"/><stop offset="0.101" stop-color="#ff002b"/><stop offset="0.1044" stop-color="#ff0024"/><stop offset="0.1212" stop-color="#ff006c"/><stop offset="0.1448" stop-color="#ff00d9"/><stop offset="0.1549" stop-color="#fc00f5"/><stop offset="0.1717" stop-color="#f700fe"/><stop offset="0.1852" stop-color="#ff00ee"/><stop offset="0.202" stop-color="#ff00ae"/><stop offset="0.229" stop-color="#ff002e"/><stop offset="0.2323" stop-color="#ff0024"/><stop offset="0.2424" stop-color="#ff003d"/><stop offset="0.2795" stop-color="#ff00d1"/><stop offset="0.2929" stop-color="#fd00f3"/><stop offset="0.3131" stop-color="#f900fb"/><stop offset="0.33" stop-color="#ff00e5"/><stop offset="0.3535" stop-color="#ff0090"/><stop offset="0.3771" stop-color="#ff0031"/><stop offset="0.3838" stop-color="#ff0023"/><stop offset="0.4108" stop-color="#ff006a"/><stop offset="0.4411" stop-color="#ff00b7"/><stop offset="0.4613" stop-color="#ff00cb"/><stop offset="0.4815" stop-color="#ff00bd"/><stop offset="0.5084" stop-color="#ff0080"/><stop offset="0.5421" stop-color="#ff0024"/><stop offset="0.5657" stop-color="#ff003e"/><stop offset="0.6195" stop-color="#ff008c"/><stop offset="0.6532" stop-color="#ff009d"/><stop offset="0.6869" stop-color="#ff008a"/><stop offset="0.7609" stop-color="#ff0022"/><stop offset="0.8114" stop-color="#ff007f"/><stop offset="0.835" stop-color="#ff0086"/><stop offset="0.8586" stop-color="#ff0067"/><stop offset="0.8923" stop-color="#ff0024"/><stop offset="0.9057" stop-color="#ff003a"/><stop offset="0.9327" stop-color="#ff0076"/><stop offset="0.9663" stop-color="#ff008d"/><stop offset="0.9731" stop-color="#ff00a2"/><stop offset="0.9798" stop-color="#ff00d4"/><stop offset="0.9832" stop-color="#fa00f9"/><stop offset="0.9865" stop-color="#c800ff"/><stop offset="0.9899" stop-color="#7f00ff"/><stop offset="0.9933" stop-color="#2800ff"/><stop offset="0.9966" stop-color="#0038ff"/><stop offset="1" stop-color="#0088ff"/></linearGradient><linearGradient id="g109"><stop offset="0" stop-color="#0099ff"/><stop offset="0.0034" stop-color="#0031ff"/><stop offset="0.0067" stop-color="#6300ff"/><stop offset="0.0101" stop-color="#e700ff"/><stop offset="0.0135" stop-color="#ff00b6"/><stop offset="0.0168" stop-color="#ff0075"/><stop offset="0.0202" stop-color="#ff004e"/><stop offset="0.0236" stop-color="#ff0038"/><stop offset="0.0269" stop-color="#ff002d"/><stop offset="0.0337" stop-color="#ff004b"/><stop offset="0.0505" stop-color="#ff00bd"/><stop offset="0.0606" stop-color="#ff00e3"/><stop offset="0.0707" stop-color="#ff00e0"/><stop offset="0.0808" stop-color="#ff00b5"/><stop offset="0.101" stop-color="#ff002c"/><stop offset="0.1044" stop-color="#ff0024"/><stop offset="0.1212" stop-color="#ff006d"/><stop offset="0.1448" stop-color="#ff00da"/><stop offset="0.1549" stop-color="#fc00f5"/><stop offset="0.1717" stop-color="#f700fe"/><stop offset="0.1852" stop-color="#ff00ee"/><stop offset="0.202" stop-color="#ff00ac"/><stop offset="0.229" stop-color="#ff002c"/><stop offset="0.2323" stop-color="#ff0023"/><stop offset="0.2458" stop-color="#ff004c"/><stop offset="0.2795" stop-color="#ff00d4"/><stop offset="0.2929" stop-color="#fd00f4"/><stop offset="0.3131" stop-color="#f900fb"/><stop offset="0.3266" stop-color="#ff00eb"/><stop offset="0.3468" stop-color="#ff00a9"/><stop offset="0.3771" stop-color="#ff002e"/><stop offset="0.3838" stop-color="#ff0025"/><stop offset="0.4377" stop-color="#ff00b3"/><stop offset="0.4579" stop-color="#ff00cb"/><stop offset="0.4781" stop-color="#ff00c3"/><stop offset="0.5017" stop-color="#ff0094"/><stop offset="0.5421" stop-color="#ff0025"/><stop offset="0.5556" stop-color="#ff002e"/><stop offset="0.6195" stop-color="#ff008d"/><stop offset="0.6532" stop-color="#ff009e"/><stop offset="0.6869" stop-color="#ff008b"/><stop offset="0.7609" stop-color="#ff0023"/><stop offset="0.8114" stop-color="#ff007f"/><stop offset="0.835" stop-color="#ff0087"/><stop offset="0.8586" stop-color="#ff0069"/><stop offset="0.8923" stop-color="#ff0025"/><stop offset="0.899" stop-color="#ff0029"/><stop offset="0.9327" stop-color="#ff0076"/><stop offset="0.9562" stop-color="#ff0084"/><stop offset="0.9697" stop-color="#ff0090"/><stop offset="0.9764" stop-color="#ff00ad"/><stop offset="0.9798" stop-color="#ff00c9"/><stop offset="0.9832" stop-color="#fe00f0"/><stop offset="0.9865" stop-color="#d600ff"/><stop offset="0.9899" stop-color="#8f00ff"/><stop offset="0.9933" stop-color="#3800ff"/><stop offset="0.9966" stop-color="#0029ff"/><stop offset="1" stop-color="#007aff"/></linearGradient><linearGradient id="g110"><stop offset="0" stop-color="#0099ff"/><stop offset="0.0034" stop-color="#002eff"/><stop offset="0.0067" stop-color="#6900ff"/><stop offset="0.0101" stop-color="#ed00ff"/><stop offset="0.0135" stop-color="#ff00b0"/><stop offset="0.0168" stop-color="#ff0070"/><stop offset="0.0202" stop-color="#ff004b"/><stop offset="0.0236" stop-color="#ff0036"/><stop offset="0.0269" stop-color="#ff002c"/><stop offset="0.0337" stop-color="#ff004c"/><stop offset="0.0505" stop-color="#ff00c2"/><stop offset="0.0606" stop-color="#ff00ea"/><stop offset="0.0673" stop-color="#ff00ed"/><stop offset="0.0774" stop-color="#ff00cd"/><stop offset="0.0909" stop-color="#ff0072"/><stop offset="0.101" stop-color="#ff002c"/><stop offset="0.1044" stop-color="#ff0024"/><stop offset="0.1212" stop-color="#ff006d"/><stop offset="0.1448" stop-color="#ff00db"/><stop offset="0.1549" stop-color="#fc00f6"/><stop offset="0.1717" stop-color="#f700fe"/><stop offset="0.1852" stop-color="#ff00ed"/><stop offset="0.202" stop-color="#ff00ab"/><stop offset="0.229" stop-color="#ff002b"/><stop offset="0.2323" stop-color="#ff0023"/><stop offset="0.2492" stop-color="#ff005c"/><stop offset="0.2795" stop-color="#ff00d6"/><stop offset="0.2929" stop-color="#fc00f5"/><stop offset="0.3131" stop-color="#f900fb"/><stop offset="0.3266" stop-color="#ff00ea"/><stop offset="0.3468" stop-color="#ff00a5"/><stop offset="0.3771" stop-color="#ff002b"/><stop offset="0.3805" stop-color="#ff0023"/><stop offset="0.3973" stop-color="#ff0047"/><stop offset="0.4343" stop-color="#ff00ae"/><stop offset="0.4579" stop-color="#ff00cd"/><stop offset="0.4781" stop-color="#ff00c5"/><stop offset="0.5017" stop-color="#ff0096"/><stop offset="0.5421" stop-color="#ff0027"/><stop offset="0.5522" stop-color="#ff0029"/><stop offset="0.6229" stop-color="#ff0091"/><stop offset="0.6566" stop-color="#ff009f"/><stop offset="0.6902" stop-color="#ff0088"/><stop offset="0.7576" stop-color="#ff0024"/><stop offset="0.7677" stop-color="#ff002c"/><stop offset="0.8081" stop-color="#ff007b"/><stop offset="0.8316" stop-color="#ff0089"/><stop offset="0.8552" stop-color="#ff0070"/><stop offset="0.8956" stop-color="#ff0022"/><stop offset="0.936" stop-color="#ff007a"/><stop offset="0.9697" stop-color="#ff008b"/><stop offset="0.9764" stop-color="#ff00a5"/><stop offset="0.9798" stop-color="#ff00bf"/><stop offset="0.9832" stop-color="#ff00e4"/><stop offset="0.9865" stop-color="#e500ff"/><stop offset="0.9899" stop-color="#9f00ff"/><stop offset="0.9933" stop-color="#4800ff"/><stop offset="0.9966" stop-color="#001aff"/><stop offset="1" stop-color="#006dff"/></linearGradient><linearGradient id="g111"><stop offset="0" stop-color="#0099ff"/><stop offset="0.0034" stop-color="#002bff"/><stop offset="0.0067" stop-color="#6e00ff"/><stop offset="0.0101" stop-color="#f400ff"/><stop offset="0.0135" stop-color="#ff00aa"/><stop offset="0.0168" stop-color="#ff006c"/><stop offset="0.0202" stop-color="#ff0048"/><stop offset="0.0236" stop-color="#ff0034"/><stop offset="0.0269" stop-color="#ff002b"/><stop offset="0.0337" stop-color="#ff004d"/><stop offset="0.0505" stop-color="#ff00c7"/><stop offset="0.0606" stop-color="#ff00f0"/><stop offset="0.0707" stop-color="#ff00ed"/><stop offset="0.0808" stop-color="#ff00bf"/><stop offset="0.101" stop-color="#ff002c"/><stop offset="0.1044" stop-color="#ff0024"/><stop offset="0.1212" stop-color="#ff006e"/><stop offset="0.1448" stop-color="#ff00dc"/><stop offset="0.1549" stop-color="#fb00f6"/><stop offset="0.1717" stop-color="#f700fe"/><stop offset="0.1852" stop-color="#ff00ed"/><stop offset="0.202" stop-color="#ff00a9"/><stop offset="0.229" stop-color="#ff0029"/><stop offset="0.2323" stop-color="#ff0023"/><stop offset="0.2492" stop-color="#ff005e"/><stop offset="0.2795" stop-color="#ff00d8"/><stop offset="0.2929" stop-color="#fc00f6"/><stop offset="0.3131" stop-color="#f900fa"/><stop offset="0.3266" stop-color="#ff00e8"/><stop offset="0.3468" stop-color="#ff00a2"/><stop offset="0.3737" stop-color="#ff0033"/><stop offset="0.3805" stop-color="#ff0023"/><stop offset="0.404" stop-color="#ff005e"/><stop offset="0.4377" stop-color="#ff00b6"/><stop offset="0.4579" stop-color="#ff00ce"/><stop offset="0.4781" stop-color="#ff00c6"/><stop offset="0.5017" stop-color="#ff0098"/><stop offset="0.5421" stop-color="#ff0028"/><stop offset="0.5488" stop-color="#ff0025"/><stop offset="0.6229" stop-color="#ff0091"/><stop offset="0.6566" stop-color="#ff00a0"/><stop offset="0.6902" stop-color="#ff0089"/><stop offset="0.7576" stop-color="#ff0024"/><stop offset="0.7677" stop-color="#ff002c"/><stop offset="0.8114" stop-color="#ff007f"/><stop offset="0.835" stop-color="#ff0088"/><stop offset="0.8586" stop-color="#ff006c"/><stop offset="0.8956" stop-color="#ff0023"/><stop offset="0.9125" stop-color="#ff0045"/><stop offset="0.936" stop-color="#ff007a"/><stop offset="0.9562" stop-color="#ff0083"/><stop offset="0.9697" stop-color="#ff0087"/><stop offset="0.9764" stop-color="#ff009d"/><stop offset="0.9798" stop-color="#ff00b5"/><stop offset="0.9832" stop-color="#ff00d8"/><stop offset="0.9865" stop-color="#f300ff"/><stop offset="0.9899" stop-color="#af00ff"/><stop offset="0.9933" stop-color="#5800ff"/><stop offset="0.9966" stop-color="#020dff"/><stop offset="1" stop-color="#005fff"/></linearGradient><linearGradient id="g112"><stop offset="0" stop-color="#0099ff"/><stop offset="0.0034" stop-color="#0028ff"/><stop offset="0.0067" stop-color="#7400ff"/><stop offset="0.0101" stop-color="#f800fd"/><stop offset="0.0135" stop-color="#ff00a4"/><stop offset="0.0168" stop-color="#ff0067"/><stop offset="0.0202" stop-color="#ff0045"/><stop offset="0.0269" stop-color="#ff002a"/><stop offset="0.0337" stop-color="#ff004e"/><stop offset="0.0505" stop-color="#ff00cd"/><stop offset="0.0572" stop-color="#ff00ee"/><stop offset="0.0673" stop-color="#fb00f7"/><stop offset="0.0741" stop-color="#ff00e9"/><stop offset="0.0842" stop-color="#ff00ad"/><stop offset="0.101" stop-color="#ff002d"/><stop offset="0.1044" stop-color="#ff0024"/><stop offset="0.1212" stop-color="#ff006e"/><stop offset="0.1448" stop-color="#ff00dd"/><stop offset="0.1549" stop-color="#fb00f7"/><stop offset="0.1717" stop-color="#f700ff"/><stop offset="0.1852" stop-color="#ff00ec"/><stop offset="0.202" stop-color="#ff00a7"/><stop offset="0.2256" stop-color="#ff0034"/><stop offset="0.2323" stop-color="#ff0024"/><stop offset="0.2525" stop-color="#ff006f"/><stop offset="0.2795" stop-color="#ff00da"/><stop offset="0.2929" stop-color="#fb00f6"/><stop offset="0.3131" stop-color="#f900fa"/><stop offset="0.3266" stop-color="#ff00e6"/><stop offset="0.3502" stop-color="#ff0090"/><stop offset="0.3737" stop-color="#ff0030"/><stop offset="0.3805" stop-color="#ff0024"/><stop offset="0.4108" stop-color="#ff0075"/><stop offset="0.4377" stop-color="#ff00b8"/><stop offset="0.4579" stop-color="#ff00d0"/><stop offset="0.4781" stop-color="#ff00c7"/><stop offset="0.5017" stop-color="#ff0099"/><stop offset="0.5421" stop-color="#ff0029"/><stop offset="0.5488" stop-color="#ff0024"/><stop offset="0.6229" stop-color="#ff0092"/><stop offset="0.6566" stop-color="#ff00a1"/><stop offset="0.6902" stop-color="#ff008b"/><stop offset="0.7576" stop-color="#ff0024"/><stop offset="0.7677" stop-color="#ff002d"/><stop offset="0.8114" stop-color="#ff007f"/><stop offset="0.835" stop-color="#ff0089"/><stop offset="0.8586" stop-color="#ff006d"/><stop offset="0.8956" stop-color="#ff0024"/><stop offset="0.9057" stop-color="#ff0032"/><stop offset="0.936" stop-color="#ff007a"/><stop offset="0.9562" stop-color="#ff0083"/><stop offset="0.9697" stop-color="#ff0084"/><stop offset="0.9764" stop-color="#ff0096"/><stop offset="0.9798" stop-color="#ff00ab"/><stop offset="0.9832" stop-color="#ff00cc"/><stop offset="0.9865" stop-color="#fa00f8"/><stop offset="0.9899" stop-color="#be00ff"/><stop offset="0.9933" stop-color="#6800ff"/><stop offset="0.9966" stop-color="#0702ff"/><stop offset="1" stop-color="#0052ff"/></linearGradient><linearGradient id="g113"><stop offset="0" stop-color="#0099ff"/><stop offset="0.0034" stop-color="#0025ff"/><stop offset="0.0067" stop-color="#7a00ff"/><stop offset="0.0101" stop-color="#fa00f8"/><stop offset="0.0135" stop-color="#ff009e"/><stop offset="0.0168" stop-color="#ff0063"/><stop offset="0.0202" stop-color="#ff0042"/><stop offset="0.0269" stop-color="#ff0029"/><stop offset="0.0337" stop-color="#ff004f"/><stop offset="0.0505" stop-color="#ff00d2"/><stop offset="0.0572" stop-color="#fd00f2"/><stop offset="0.0673" stop-color="#f900fb"/><stop offset="0.0741" stop-color="#ff00ef"/><stop offset="0.0842" stop-color="#ff00b1"/><stop offset="0.101" stop-color="#ff002d"/><stop offset="0.1044" stop-color="#ff0024"/><stop offset="0.1212" stop-color="#ff006e"/><stop offset="0.1448" stop-color="#ff00dd"/><stop offset="0.1549" stop-color="#fb00f7"/><stop offset="0.1717" stop-color="#f700ff"/><stop offset="0.1852" stop-color="#ff00eb"/><stop offset="0.202" stop-color="#ff00a6"/><stop offset="0.2256" stop-color="#ff0032"/><stop offset="0.229" stop-color="#ff0026"/><stop offset="0.2323" stop-color="#ff0025"/><stop offset="0.2525" stop-color="#ff0072"/><stop offset="0.2795" stop-color="#ff00dd"/><stop offset="0.2929" stop-color="#fb00f7"/><stop offset="0.3131" stop-color="#fa00fa"/><stop offset="0.3266" stop-color="#ff00e4"/><stop offset="0.3502" stop-color="#ff008d"/><stop offset="0.3737" stop-color="#ff002d"/><stop offset="0.3771" stop-color="#ff0024"/><stop offset="0.3906" stop-color="#ff003c"/><stop offset="0.4343" stop-color="#ff00b4"/><stop offset="0.4579" stop-color="#ff00d1"/><stop offset="0.4781" stop-color="#ff00c9"/><stop offset="0.5017" stop-color="#ff009b"/><stop offset="0.5421" stop-color="#ff002b"/><stop offset="0.5522" stop-color="#ff0027"/><stop offset="0.6229" stop-color="#ff0092"/><stop offset="0.6566" stop-color="#ff00a3"/><stop offset="0.6902" stop-color="#ff008c"/><stop offset="0.7576" stop-color="#ff0024"/><stop offset="0.7677" stop-color="#ff002d"/><stop offset="0.8114" stop-color="#ff0080"/><stop offset="0.835" stop-color="#ff0089"/><stop offset="0.8586" stop-color="#ff006f"/><stop offset="0.899" stop-color="#ff0023"/><stop offset="0.936" stop-color="#ff0079"/><stop offset="0.9529" stop-color="#ff0085"/><stop offset="0.9697" stop-color="#ff0081"/><stop offset="0.9764" stop-color="#ff008f"/><stop offset="0.9798" stop-color="#ff00a2"/><stop offset="0.9832" stop-color="#ff00c1"/><stop offset="0.9865" stop-color="#ff00ef"/><stop offset="0.9899" stop-color="#ce00ff"/><stop offset="0.9933" stop-color="#7800ff"/><stop offset="0.9966" stop-color="#1400ff"/><stop offset="1" stop-color="#0044ff"/></linearGradient><linearGradient id="g114"><stop offset="0" stop-color="#0099ff"/><stop offset="0.0034" stop-color="#0022ff"/><stop offset="0.0067" stop-color="#8000ff"/><stop offset="0.0101" stop-color="#fd00f4"/><stop offset="0.0135" stop-color="#ff0098"/><stop offset="0.0168" stop-color="#ff005f"/><stop offset="0.0202" stop-color="#ff003f"/><stop offset="0.0269" stop-color="#ff0029"/><stop offset="0.0337" stop-color="#ff0050"/><stop offset="0.0505" stop-color="#ff00d7"/><stop offset="0.0572" stop-color="#fb00f7"/><stop offset="0.0673" stop-color="#f600ff"/><stop offset="0.0741" stop-color="#fd00f3"/><stop offset="0.0808" stop-color="#ff00cf"/><stop offset="0.101" stop-color="#ff002d"/><stop offset="0.1044" stop-color="#ff0024"/><stop offset="0.1212" stop-color="#ff006f"/><stop offset="0.1448" stop-color="#ff00de"/><stop offset="0.1549" stop-color="#fb00f8"/><stop offset="0.1717" stop-color="#f700ff"/><stop offset="0.1852" stop-color="#ff00eb"/><stop offset="0.202" stop-color="#ff00a4"/><stop offset="0.2256" stop-color="#ff0030"/><stop offset="0.229" stop-color="#ff0025"/><stop offset="0.2357" stop-color="#ff0030"/><stop offset="0.2761" stop-color="#ff00d4"/><stop offset="0.2896" stop-color="#fc00f5"/><stop offset="0.3098" stop-color="#f900fc"/><stop offset="0.3232" stop-color="#ff00eb"/><stop offset="0.3434" stop-color="#ff00a6"/><stop offset="0.3737" stop-color="#ff002a"/><stop offset="0.3771" stop-color="#ff0022"/><stop offset="0.4007" stop-color="#ff005c"/><stop offset="0.4343" stop-color="#ff00b6"/><stop offset="0.4579" stop-color="#ff00d3"/><stop offset="0.4781" stop-color="#ff00ca"/><stop offset="0.5017" stop-color="#ff009d"/><stop offset="0.5455" stop-color="#ff0026"/><stop offset="0.5556" stop-color="#ff002a"/><stop offset="0.6229" stop-color="#ff0092"/><stop offset="0.6566" stop-color="#ff00a4"/><stop offset="0.6902" stop-color="#ff008d"/><stop offset="0.7576" stop-color="#ff0024"/><stop offset="0.771" stop-color="#ff0033"/><stop offset="0.8114" stop-color="#ff0080"/><stop offset="0.835" stop-color="#ff008a"/><stop offset="0.8586" stop-color="#ff0070"/><stop offset="0.899" stop-color="#ff0023"/><stop offset="0.9192" stop-color="#ff0052"/><stop offset="0.9394" stop-color="#ff007e"/><stop offset="0.9562" stop-color="#ff0084"/><stop offset="0.9731" stop-color="#ff0081"/><stop offset="0.9798" stop-color="#ff0099"/><stop offset="0.9832" stop-color="#ff00b5"/><stop offset="0.9865" stop-color="#ff00e1"/><stop offset="0.9899" stop-color="#de00ff"/><stop offset="0.9933" stop-color="#8900ff"/><stop offset="0.9966" stop-color="#2300ff"/><stop offset="1" stop-color="#0037ff"/></linearGradient><linearGradient id="g115" x1="0" y1="0" x2="0" y2="1"><stop offset="0" stop-color="#ff0000"/><stop offset="0.02083" stop-color="#ff1e00"/><stop offset="0.04167" stop-color="#ff3b00"/><stop offset="0.0625" stop-color="#ff5900"/><stop offset="0.08333" stop-color="#ff7c00"/><stop offset="0.1042" stop-color="#ff9a00"/><stop offset="0.125" stop-color="#ffb700"/><stop offset="0.1458" stop-color="#ffdb00"/><stop offset="0.1667" stop-color="#fcf500"/><stop offset="0.1875" stop-color="#e8ff00"/><stop offset="0.2083" stop-color="#c5ff00"/><stop offset="0.2292" stop-color="#a7ff00"/><stop offset="0.25" stop-color="#8aff00"/><stop offset="0.2708" stop-color="#66ff00"/><stop offset="0.2917" stop-color="#49ff00"/><stop offset="0.3125" stop-color="#2bff00"/><stop offset="0.3333" stop-color="#08ff00"/><stop offset="0.3542" stop-color="#00ff16"/><stop offset="0.375" stop-color="#00ff33"/><stop offset="0.3958" stop-color="#00ff57"/><stop offset="0.4167" stop-color="#00ff74"/><stop offset="0.4375" stop-color="#00ff92"/><stop offset="0.4583" stop-color="#00ffb5"/><stop offset="0.4792" stop-color="#00ffd3"/><stop offset="0.5" stop-color="#00fff0"/><stop offset="0.5208" stop-color="#00eaff"/><stop offset="0.5417" stop-color="#00cdff"/><stop offset="0.5625" stop-color="#00afff"/><stop offset="0.5833" stop-color="#008cff"/><stop offset="0.6042" stop-color="#006eff"/><stop offset="0.625" stop-color="#0051ff"/><stop offset="0.6458" stop-color="#002dff"/><stop offset="0.6667" stop-color="#0010ff"/><stop offset="0.6875" stop-color="#0e00ff"/><stop offset="0.7083" stop-color="#3100ff"/><stop offset="0.7292" stop-color="#4f00ff"/><stop offset="0.75" stop-color="#6c00ff"/><stop offset="0.7708" stop-color="#9000ff"/><stop offset="0.7917" stop-color="#ad00ff"/><stop offset="0.8125" stop-color="#cb00ff"/><stop offset="0.8333" stop-color="#ee00ff"/><stop offset="0.8542" stop-color="#fe00f1"/><stop offset="0.875" stop-color="#ff00d5"/><stop offset="0.8958" stop-color="#ff00b1"/><stop offset="0.9167" stop-color="#ff0094"/><stop offset="0.9375" stop-color="#ff0076"/><stop offset="0.9583" stop-color="#ff0053"/><stop offset="0.9792" stop-color="#ff0035"/><stop offset="1" stop-color="#ff0018"/></linearGradient></defs><rect width="685" height="297" fill="#fff"/><rect x="27.00" y="14.50" width="137.70" height="5.46" fill="url(#g1)"/>
<rect x="27.00" y="18.46" width="137.70" height="5.46" fill="url(#g2)"/>
<rect x="27.00" y="22.43" width="137.70" height="5.46" fill="url(#g3)"/>
<rect x="27.00" y="26.39" width="137.70" height="5.46" fill="url(#g4)"/>
<rect x="27.00" y="30.36" width="137.70" height="5.46" fill="url(#g5)"/>
<rect x="27.00" y="34.32" width="137.70" height="5.46" fill="url(#g6)"/>
<rect x="27.00" y="38.29" width="137.70" height="5.46" fill="url(#g7)"/>
<rect x="27.00" y="42.25" width="137.70" height="5.46" fill="url(#g8)"/>
<rect x="27.00" y="46.21" width="137.70" height="5.46" fill="url(#g9)"/>
<rect x="27.00" y="50.18" width="137.70" height="5.46" fill="url(#g10)"/>
<rect x="27.00" y="54.14" width="137.70" height="5.46" fill="url(#g11)"/>
<rect x="27.00" y="58.11" width="137.70" height="5.46" fill="url(#g12)"/>
<rect x="27.00" y="62.07" width="137.70" height="5.46" fill="url(#g13)"/>
<rect x="27.00" y="66.04" width="137.70" height="5.46" fill="url(#g14)"/>
<rect x="27.00" y="70.00" width="137.70" height="5.46" fill="url(#g15)"/>
<rect x="27.00" y="73.96" width="137.70" height="5.46" fill="url(#g16)"/>
<rect x="27.00" y="77.93" width="137.70" height="5.46" fill="url(#g17)"/>
<rect x="27.00" y="81.89" width="137.70" height="5.46" fill="url(#g18)"/>
<rect x="27.00" y="85.86" width="137.70" height="5.46" fill="url(#g19)"/>
<rect x="27.00" y="89.82" width="137.70" height="5.46" fill="url(#g20)"/>
<rect x="27.00" y="93.79" width="137.70" height="5.46" fill="url(#g21)"/>
<rect x="27.00" y="97.75" width="137.70" height="5.46" fill="url(#g22)"/>
<rect x="27.00" y="101.71" width="137.70" height="5.46" fill="url(#g23)"/>
<rect x="27.00" y="105.68" width="137.70" height="5.46" fill="url(#g24)"/>
<rect x="27.00" y="109.64" width="137.70" height="5.46" fill="url(#g25)"/>
<rect x="27.00" y="113.61" width="137.70" height="5.46" fill="url(#g26)"/>
<rect x="27.00" y="117.57" width="137.70" height="5.46" fill="url(#g27)"/>
<rect x="27.00" y="121.54" width="137.70" height="5.46" fill="url(#g28)"/>
<rect x="27.00" y="125.50" width="137.70" height="5.46" fill="url(#g29)"/>
<rect x="27.00" y="129.46" width="137.70" height="5.46" fill="url(#g30)"/>
<rect x="27.00" y="133.43" width="137.70" height="5.46" fill="url(#g31)"/>
<rect x="27.00" y="137.39" width="137.70" height="5.46" fill="url(#g32)"/>
<rect x="27.00" y="141.36" width="137.70" height="5.46" fill="url(#g33)"/>
<rect x="27.00" y="145.32" width="137.70" height="5.46" fill="url(#g34)"/>
<rect x="27.00" y="149.29" width="137.70" height="5.46" fill="url(#g35)"/>
<rect x="27.00" y="153.25" width="137.70" height="5.46" fill="url(#g36)"/>
<rect x="27.00" y="157.21" width="137.70" height="5.46" fill="url(#g37)"/>
<rect x="27.00" y="161.18" width="137.70" height="5.46" fill="url(#g38)"/>
<rect x="27.00" y="165.14" width="137.70" height="5.46" fill="url(#g39)"/>
<rect x="27.00" y="169.11" width="137.70" height="5.46" fill="url(#g40)"/>
<rect x="27.00" y="173.07" width="137.70" height="5.46" fill="url(#g41)"/>
<rect x="27.00" y="177.04" width="137.70" height="5.46" fill="url(#g42)"/>
<rect x="27.00" y="181.00" width="137.70" height="5.46" fill="url(#g43)"/>
<rect x="27.00" y="184.96" width="137.70" height="5.46" fill="url(#g44)"/>
<rect x="27.00" y="188.93" width="137.70" height="5.46" fill="url(#g45)"/>
<rect x="27.00" y="192.89" width="137.70" height="5.46" fill="url(#g46)"/>
<rect x="27.00" y="196.86" width="137.70" height="5.46" fill="url(#g47)"/>
<rect x="27.00" y="200.82" width="137.70" height="5.46" fill="url(#g48)"/>
<rect x="27.00" y="204.79" width="137.70" height="5.46" fill="url(#g49)"/>
<rect x="27.00" y="208.75" width="137.70" height="5.46" fill="url(#g50)"/>
<rect x="27.00" y="212.71" width="137.70" height="5.46" fill="url(#g51)"/>
<rect x="27.00" y="216.68" width="137.70" height="5.46" fill="url(#g52)"/>
<rect x="27.00" y="220.64" width="137.70" height="5.46" fill="url(#g53)"/>
<rect x="27.00" y="224.61" width="137.70" height="5.46" fill="url(#g54)"/>
<rect x="27.00" y="228.57" width="137.70" height="5.46" fill="url(#g55)"/>
<rect x="27.00" y="232.54" width="137.70" height="3.96" fill="url(#g56)"/>
<rect x="27.00" y="14.50" width="137.70" height="222.00" fill="none" stroke="#000" stroke-width="0.60"/>
<line x1="27.00" y1="236.50" x2="27.00" y2="240.00" stroke="#000" stroke-width="0.65"/>
<text transform="translate(27.00 249.10) scale(0.8036 1)" font-family="'DejaVu Sans','Liberation Sans',sans-serif" font-size="8.50" text-anchor="middle" fill="#000" stroke="#000" stroke-width="0.15" >0.0</text>
<line x1="49.95" y1="236.50" x2="49.95" y2="240.00" stroke="#000" stroke-width="0.65"/>
<text transform="translate(49.95 249.10) scale(0.8036 1)" font-family="'DejaVu Sans','Liberation Sans',sans-serif" font-size="8.50" text-anchor="middle" fill="#000" stroke="#000" stroke-width="0.15" >0.5</text>
<line x1="72.90" y1="236.50" x2="72.90" y2="240.00" stroke="#000" stroke-width="0.65"/>
<text transform="translate(72.90 249.10) scale(0.8036 1)" font-family="'DejaVu Sans','Liberation Sans',sans-serif" font-size="8.50" text-anchor="middle" fill="#000" stroke="#000" stroke-width="0.15" >1.0</text>
<line x1="95.85" y1="236.50" x2="95.85" y2="240.00" stroke="#000" stroke-width="0.65"/>
<text transform="translate(95.85 249.10) scale(0.8036 1)" font-family="'DejaVu Sans','Liberation Sans',sans-serif" font-size="8.50" text-anchor="middle" fill="#000" stroke="#000" stroke-width="0.15" >1.5</text>
<line x1="118.80" y1="236.50" x2="118.80" y2="240.00" stroke="#000" stroke-width="0.65"/>
<text transform="translate(118.80 249.10) scale(0.8036 1)" font-family="'DejaVu Sans','Liberation Sans',sans-serif" font-size="8.50" text-anchor="middle" fill="#000" stroke="#000" stroke-width="0.15" >2.0</text>
<line x1="141.75" y1="236.50" x2="141.75" y2="240.00" stroke="#000" stroke-width="0.65"/>
<text transform="translate(141.75 249.10) scale(0.8036 1)" font-family="'DejaVu Sans','Liberation Sans',sans-serif" font-size="8.50" text-anchor="middle" fill="#000" stroke="#000" stroke-width="0.15" >2.5</text>
<line x1="164.70" y1="236.50" x2="164.70" y2="240.00" stroke="#000" stroke-width="0.65"/>
<text transform="translate(164.70 249.10) scale(0.8036 1)" font-family="'DejaVu Sans','Liberation Sans',sans-serif" font-size="8.50" text-anchor="middle" fill="#000" stroke="#000" stroke-width="0.15" >3.0</text>
<line x1="24.50" y1="236.50" x2="27.00" y2="236.50" stroke="#000" stroke-width="0.70"/>
<text transform="translate(22.00 239.80) scale(0.8036 1)" font-family="'DejaVu Sans','Liberation Sans',sans-serif" font-size="8.50" text-anchor="end" fill="#000" stroke="#000" stroke-width="0.15" >0.0</text>
<line x1="24.50" y1="208.75" x2="27.00" y2="208.75" stroke="#000" stroke-width="0.70"/>
<text transform="translate(22.00 212.05) scale(0.8036 1)" font-family="'DejaVu Sans','Liberation Sans',sans-serif" font-size="8.50" text-anchor="end" fill="#000" stroke="#000" stroke-width="0.15" >0.5</text>
<line x1="24.50" y1="181.00" x2="27.00" y2="181.00" stroke="#000" stroke-width="0.70"/>
<text transform="translate(22.00 184.30) scale(0.8036 1)" font-family="'DejaVu Sans','Liberation Sans',sans-serif" font-size="8.50" text-anchor="end" fill="#000" stroke="#000" stroke-width="0.15" >1.0</text>
<line x1="24.50" y1="153.25" x2="27.00" y2="153.25" stroke="#000" stroke-width="0.70"/>
<text transform="translate(22.00 156.55) scale(0.8036 1)" font-family="'DejaVu Sans','Liberation Sans',sans-serif" font-size="8.50" text-anchor="end" fill="#000" stroke="#000" stroke-width="0.15" >1.5</text>
<line x1="24.50" y1="125.50" x2="27.00" y2="125.50" stroke="#000" stroke-width="0.70"/>
<text transform="translate(22.00 128.80) scale(0.8036 1)" font-family="'DejaVu Sans','Liberation Sans',sans-serif" font-size="8.50" text-anchor="end" fill="#000" stroke="#000" stroke-width="0.15" >2.0</text>
<line x1="24.50" y1="97.75" x2="27.00" y2="97.75" stroke="#000" stroke-width="0.70"/>
<text transform="translate(22.00 101.05) scale(0.8036 1)" font-family="'DejaVu Sans','Liberation Sans',sans-serif" font-size="8.50" text-anchor="end" fill="#000" stroke="#000" stroke-width="0.15" >2.5</text>
<line x1="24.50" y1="70.00" x2="27.00" y2="70.00" stroke="#000" stroke-width="0.70"/>
<text transform="translate(22.00 73.30) scale(0.8036 1)" font-family="'DejaVu Sans','Liberation Sans',sans-serif" font-size="8.50" text-anchor="end" fill="#000" stroke="#000" stroke-width="0.15" >3.0</text>
<line x1="24.50" y1="42.25" x2="27.00" y2="42.25" stroke="#000" stroke-width="0.70"/>
<text transform="translate(22.00 45.55) scale(0.8036 1)" font-family="'DejaVu Sans','Liberation Sans',sans-serif" font-size="8.50" text-anchor="end" fill="#000" stroke="#000" stroke-width="0.15" >3.5</text>
<line x1="24.50" y1="14.50" x2="27.00" y2="14.50" stroke="#000" stroke-width="0.70"/>
<text transform="translate(22.00 17.80) scale(0.8036 1)" font-family="'DejaVu Sans','Liberation Sans',sans-serif" font-size="8.50" text-anchor="end" fill="#000" stroke="#000" stroke-width="0.15" >4.0</text>
<text transform="translate(95.55 262.80) scale(0.82 1)" font-family="'DejaVu Sans','Liberation Sans',sans-serif" font-size="10.80" text-anchor="middle" fill="#000" stroke="#000" stroke-width="0.15" font-style="italic">t</text>
<text transform="translate(5.10 126.10) scale(0.8 1) rotate(-90)" font-family="'DejaVu Sans','Liberation Sans',sans-serif" font-size="10.20" text-anchor="middle" fill="#000" stroke="#000" stroke-width="0.15" font-style="italic">x</text>
<text transform="translate(95.60 9.40) scale(0.82 1)" font-family="'DejaVu Sans','Liberation Sans',sans-serif" font-size="10.00" text-anchor="middle" fill="#000" stroke="#000" stroke-width="0.15" >2D plot of PINN solution</text>
<rect x="177.10" y="14.50" width="9.60" height="222.00" fill="url(#g57)"/>
<rect x="177.10" y="14.50" width="9.60" height="222.00" fill="none" stroke="#000" stroke-width="0.60"/>
<line x1="186.70" y1="42.25" x2="189.20" y2="42.25" stroke="#000" stroke-width="0.70"/>
<text transform="translate(190.90 45.55) scale(0.8036 1)" font-family="'DejaVu Sans','Liberation Sans',sans-serif" font-size="8.50" text-anchor="start" fill="#000" stroke="#000" stroke-width="0.15" >0.75</text>
<line x1="186.70" y1="70.00" x2="189.20" y2="70.00" stroke="#000" stroke-width="0.70"/>
<text transform="translate(190.90 73.30) scale(0.8036 1)" font-family="'DejaVu Sans','Liberation Sans',sans-serif" font-size="8.50" text-anchor="start" fill="#000" stroke="#000" stroke-width="0.15" >0.50</text>
<line x1="186.70" y1="97.75" x2="189.20" y2="97.75" stroke="#000" stroke-width="0.70"/>
<text transform="translate(190.90 101.05) scale(0.8036 1)" font-family="'DejaVu Sans','Liberation Sans',sans-serif" font-size="8.50" text-anchor="start" fill="#000" stroke="#000" stroke-width="0.15" >0.25</text>
<line x1="186.70" y1="125.50" x2="189.20" y2="125.50" stroke="#000" stroke-width="0.70"/>
<text transform="translate(190.90 128.80) scale(0.8036 1)" font-family="'DejaVu Sans','Liberation Sans',sans-serif" font-size="8.50" text-anchor="start" fill="#000" stroke="#000" stroke-width="0.15" >0.00</text>
<line x1="186.70" y1="153.25" x2="189.20" y2="153.25" stroke="#000" stroke-width="0.70"/>
<text transform="translate(190.90 156.55) scale(0.8036 1)" font-family="'DejaVu Sans','Liberation Sans',sans-serif" font-size="8.50" text-anchor="start" fill="#000" stroke="#000" stroke-width="0.15" >−0.25</text>
<line x1="186.70" y1="181.00" x2="189.20" y2="181.00" stroke="#000" stroke-width="0.70"/>
<text transform="translate(190.90 184.30) scale(0.8036 1)" font-family="'DejaVu Sans','Liberation Sans',sans-serif" font-size="8.50" text-anchor="start" fill="#000" stroke="#000" stroke-width="0.15" >−0.50</text>
<line x1="186.70" y1="208.75" x2="189.20" y2="208.75" stroke="#000" stroke-width="0.70"/>
<text transform="translate(190.90 212.05) scale(0.8036 1)" font-family="'DejaVu Sans','Liberation Sans',sans-serif" font-size="8.50" text-anchor="start" fill="#000" stroke="#000" stroke-width="0.15" >−0.75</text>
<rect x="263.40" y="14.50" width="137.90" height="5.46" fill="url(#g1)"/>
<rect x="263.40" y="18.46" width="137.90" height="5.46" fill="url(#g2)"/>
<rect x="263.40" y="22.43" width="137.90" height="5.46" fill="url(#g3)"/>
<rect x="263.40" y="26.39" width="137.90" height="5.46" fill="url(#g4)"/>
<rect x="263.40" y="30.36" width="137.90" height="5.46" fill="url(#g5)"/>
<rect x="263.40" y="34.32" width="137.90" height="5.46" fill="url(#g6)"/>
<rect x="263.40" y="38.29" width="137.90" height="5.46" fill="url(#g7)"/>
<rect x="263.40" y="42.25" width="137.90" height="5.46" fill="url(#g8)"/>
<rect x="263.40" y="46.21" width="137.90" height="5.46" fill="url(#g9)"/>
<rect x="263.40" y="50.18" width="137.90" height="5.46" fill="url(#g10)"/>
<rect x="263.40" y="54.14" width="137.90" height="5.46" fill="url(#g11)"/>
<rect x="263.40" y="58.11" width="137.90" height="5.46" fill="url(#g12)"/>
<rect x="263.40" y="62.07" width="137.90" height="5.46" fill="url(#g13)"/>
<rect x="263.40" y="66.04" width="137.90" height="5.46" fill="url(#g14)"/>
<rect x="263.40" y="70.00" width="137.90" height="5.46" fill="url(#g15)"/>
<rect x="263.40" y="73.96" width="137.90" height="5.46" fill="url(#g16)"/>
<rect x="263.40" y="77.93" width="137.90" height="5.46" fill="url(#g17)"/>
<rect x="263.40" y="81.89" width="137.90" height="5.46" fill="url(#g18)"/>
<rect x="263.40" y="85.86" width="137.90" height="5.46" fill="url(#g19)"/>
<rect x="263.40" y="89.82" width="137.90" height="5.46" fill="url(#g20)"/>
<rect x="263.40" y="93.79" width="137.90" height="5.46" fill="url(#g21)"/>
<rect x="263.40" y="97.75" width="137.90" height="5.46" fill="url(#g22)"/>
<rect x="263.40" y="101.71" width="137.90" height="5.46" fill="url(#g23)"/>
<rect x="263.40" y="105.68" width="137.90" height="5.46" fill="url(#g24)"/>
<rect x="263.40" y="109.64" width="137.90" height="5.46" fill="url(#g25)"/>
<rect x="263.40" y="113.61" width="137.90" height="5.46" fill="url(#g26)"/>
<rect x="263.40" y="117.57" width="137.90" height="5.46" fill="url(#g27)"/>
<rect x="263.40" y="121.54" width="137.90" height="5.46" fill="url(#g28)"/>
<rect x="263.40" y="125.50" width="137.90" height="5.46" fill="url(#g29)"/>
<rect x="263.40" y="129.46" width="137.90" height="5.46" fill="url(#g30)"/>
<rect x="263.40" y="133.43" width="137.90" height="5.46" fill="url(#g31)"/>
<rect x="263.40" y="137.39" width="137.90" height="5.46" fill="url(#g32)"/>
<rect x="263.40" y="141.36" width="137.90" height="5.46" fill="url(#g33)"/>
<rect x="263.40" y="145.32" width="137.90" height="5.46" fill="url(#g34)"/>
<rect x="263.40" y="149.29" width="137.90" height="5.46" fill="url(#g35)"/>
<rect x="263.40" y="153.25" width="137.90" height="5.46" fill="url(#g36)"/>
<rect x="263.40" y="157.21" width="137.90" height="5.46" fill="url(#g37)"/>
<rect x="263.40" y="161.18" width="137.90" height="5.46" fill="url(#g38)"/>
<rect x="263.40" y="165.14" width="137.90" height="5.46" fill="url(#g39)"/>
<rect x="263.40" y="169.11" width="137.90" height="5.46" fill="url(#g40)"/>
<rect x="263.40" y="173.07" width="137.90" height="5.46" fill="url(#g41)"/>
<rect x="263.40" y="177.04" width="137.90" height="5.46" fill="url(#g42)"/>
<rect x="263.40" y="181.00" width="137.90" height="5.46" fill="url(#g43)"/>
<rect x="263.40" y="184.96" width="137.90" height="5.46" fill="url(#g44)"/>
<rect x="263.40" y="188.93" width="137.90" height="5.46" fill="url(#g45)"/>
<rect x="263.40" y="192.89" width="137.90" height="5.46" fill="url(#g46)"/>
<rect x="263.40" y="196.86" width="137.90" height="5.46" fill="url(#g47)"/>
<rect x="263.40" y="200.82" width="137.90" height="5.46" fill="url(#g48)"/>
<rect x="263.40" y="204.79" width="137.90" height="5.46" fill="url(#g49)"/>
<rect x="263.40" y="208.75" width="137.90" height="5.46" fill="url(#g50)"/>
<rect x="263.40" y="212.71" width="137.90" height="5.46" fill="url(#g51)"/>
<rect x="263.40" y="216.68" width="137.90" height="5.46" fill="url(#g52)"/>
<rect x="263.40" y="220.64" width="137.90" height="5.46" fill="url(#g53)"/>
<rect x="263.40" y="224.61" width="137.90" height="5.46" fill="url(#g54)"/>
<rect x="263.40" y="228.57" width="137.90" height="5.46" fill="url(#g55)"/>
<rect x="263.40" y="232.54" width="137.90" height="3.96" fill="url(#g56)"/>
<rect x="263.40" y="14.50" width="137.90" height="222.00" fill="none" stroke="#000" stroke-width="0.60"/>
<line x1="263.40" y1="236.50" x2="263.40" y2="240.00" stroke="#000" stroke-width="0.65"/>
<text transform="translate(263.40 249.10) scale(0.8036 1)" font-family="'DejaVu Sans','Liberation Sans',sans-serif" font-size="8.50" text-anchor="middle" fill="#000" stroke="#000" stroke-width="0.15" >0.0</text>
<line x1="286.38" y1="236.50" x2="286.38" y2="240.00" stroke="#000" stroke-width="0.65"/>
<text transform="translate(286.38 249.10) scale(0.8036 1)" font-family="'DejaVu Sans','Liberation Sans',sans-serif" font-size="8.50" text-anchor="middle" fill="#000" stroke="#000" stroke-width="0.15" >0.5</text>
<line x1="309.37" y1="236.50" x2="309.37" y2="240.00" stroke="#000" stroke-width="0.65"/>
<text transform="translate(309.37 249.10) scale(0.8036 1)" font-family="'DejaVu Sans','Liberation Sans',sans-serif" font-size="8.50" text-anchor="middle" fill="#000" stroke="#000" stroke-width="0.15" >1.0</text>
<line x1="332.35" y1="236.50" x2="332.35" y2="240.00" stroke="#000" stroke-width="0.65"/>
<text transform="translate(332.35 249.10) scale(0.8036 1)" font-family="'DejaVu Sans','Liberation Sans',sans-serif" font-size="8.50" text-anchor="middle" fill="#000" stroke="#000" stroke-width="0.15" >1.5</text>
<line x1="355.33" y1="236.50" x2="355.33" y2="240.00" stroke="#000" stroke-width="0.65"/>
<text transform="translate(355.33 249.10) scale(0.8036 1)" font-family="'DejaVu Sans','Liberation Sans',sans-serif" font-size="8.50" text-anchor="middle" fill="#000" stroke="#000" stroke-width="0.15" >2.0</text>
<line x1="378.32" y1="236.50" x2="378.32" y2="240.00" stroke="#000" stroke-width="0.65"/>
<text transform="translate(378.32 249.10) scale(0.8036 1)" font-family="'DejaVu Sans','Liberation Sans',sans-serif" font-size="8.50" text-anchor="middle" fill="#000" stroke="#000" stroke-width="0.15" >2.5</text>
<line x1="401.30" y1="236.50" x2="401.30" y2="240.00" stroke="#000" stroke-width="0.65"/>
<text transform="translate(401.30 249.10) scale(0.8036 1)" font-family="'DejaVu Sans','Liberation Sans',sans-serif" font-size="8.50" text-anchor="middle" fill="#000" stroke="#000" stroke-width="0.15" >3.0</text>
<line x1="260.90" y1="236.50" x2="263.40" y2="236.50" stroke="#000" stroke-width="0.70"/>
<text transform="translate(258.40 239.80) scale(0.8036 1)" font-family="'DejaVu Sans','Liberation Sans',sans-serif" font-size="8.50" text-anchor="end" fill="#000" stroke="#000" stroke-width="0.15" >0.0</text>
<line x1="260.90" y1="208.75" x2="263.40" y2="208.75" stroke="#000" stroke-width="0.70"/>
<text transform="translate(258.40 212.05) scale(0.8036 1)" font-family="'DejaVu Sans','Liberation Sans',sans-serif" font-size="8.50" text-anchor="end" fill="#000" stroke="#000" stroke-width="0.15" >0.5</text>
<line x1="260.90" y1="181.00" x2="263.40" y2="181.00" stroke="#000" stroke-width="0.70"/>
<text transform="translate(258.40 184.30) scale(0.8036 1)" font-family="'DejaVu Sans','Liberation Sans',sans-serif" font-size="8.50" text-anchor="end" fill="#000" stroke="#000" stroke-width="0.15" >1.0</text>
<line x1="260.90" y1="153.25" x2="263.40" y2="153.25" stroke="#000" stroke-width="0.70"/>
<text transform="translate(258.40 156.55) scale(0.8036 1)" font-family="'DejaVu Sans','Liberation Sans',sans-serif" font-size="8.50" text-anchor="end" fill="#000" stroke="#000" stroke-width="0.15" >1.5</text>
<line x1="260.90" y1="125.50" x2="263.40" y2="125.50" stroke="#000" stroke-width="0.70"/>
<text transform="translate(258.40 128.80) scale(0.8036 1)" font-family="'DejaVu Sans','Liberation Sans',sans-serif" font-size="8.50" text-anchor="end" fill="#000" stroke="#000" stroke-width="0.15" >2.0</text>
<line x1="260.90" y1="97.75" x2="263.40" y2="97.75" stroke="#000" stroke-width="0.70"/>
<text transform="translate(258.40 101.05) scale(0.8036 1)" font-family="'DejaVu Sans','Liberation Sans',sans-serif" font-size="8.50" text-anchor="end" fill="#000" stroke="#000" stroke-width="0.15" >2.5</text>
<line x1="260.90" y1="70.00" x2="263.40" y2="70.00" stroke="#000" stroke-width="0.70"/>
<text transform="translate(258.40 73.30) scale(0.8036 1)" font-family="'DejaVu Sans','Liberation Sans',sans-serif" font-size="8.50" text-anchor="end" fill="#000" stroke="#000" stroke-width="0.15" >3.0</text>
<line x1="260.90" y1="42.25" x2="263.40" y2="42.25" stroke="#000" stroke-width="0.70"/>
<text transform="translate(258.40 45.55) scale(0.8036 1)" font-family="'DejaVu Sans','Liberation Sans',sans-serif" font-size="8.50" text-anchor="end" fill="#000" stroke="#000" stroke-width="0.15" >3.5</text>
<line x1="260.90" y1="14.50" x2="263.40" y2="14.50" stroke="#000" stroke-width="0.70"/>
<text transform="translate(258.40 17.80) scale(0.8036 1)" font-family="'DejaVu Sans','Liberation Sans',sans-serif" font-size="8.50" text-anchor="end" fill="#000" stroke="#000" stroke-width="0.15" >4.0</text>
<text transform="translate(332.05 262.80) scale(0.82 1)" font-family="'DejaVu Sans','Liberation Sans',sans-serif" font-size="10.80" text-anchor="middle" fill="#000" stroke="#000" stroke-width="0.15" font-style="italic">x</text>
<text transform="translate(242.60 126.10) scale(0.82 1) rotate(-90)" font-family="'DejaVu Sans','Liberation Sans',sans-serif" font-size="10.00" text-anchor="middle" fill="#000" stroke="#000" stroke-width="0.15" font-style="italic">t</text>
<text transform="translate(330.70 9.40) scale(0.82 1)" font-family="'DejaVu Sans','Liberation Sans',sans-serif" font-size="10.00" text-anchor="middle" fill="#000" stroke="#000" stroke-width="0.15" >2D Plot of Exact solution</text>
<rect x="413.30" y="14.50" width="9.60" height="222.00" fill="url(#g58)"/>
<rect x="413.30" y="14.50" width="9.60" height="222.00" fill="none" stroke="#000" stroke-width="0.60"/>
<line x1="422.90" y1="42.25" x2="425.40" y2="42.25" stroke="#000" stroke-width="0.70"/>
<text transform="translate(427.10 45.55) scale(0.8036 1)" font-family="'DejaVu Sans','Liberation Sans',sans-serif" font-size="8.50" text-anchor="start" fill="#000" stroke="#000" stroke-width="0.15" >0.75</text>
<line x1="422.90" y1="70.00" x2="425.40" y2="70.00" stroke="#000" stroke-width="0.70"/>
<text transform="translate(427.10 73.30) scale(0.8036 1)" font-family="'DejaVu Sans','Liberation Sans',sans-serif" font-size="8.50" text-anchor="start" fill="#000" stroke="#000" stroke-width="0.15" >0.50</text>
<line x1="422.90" y1="97.75" x2="425.40" y2="97.75" stroke="#000" stroke-width="0.70"/>
<text transform="translate(427.10 101.05) scale(0.8036 1)" font-family="'DejaVu Sans','Liberation Sans',sans-serif" font-size="8.50" text-anchor="start" fill="#000" stroke="#000" stroke-width="0.15" >0.25</text>
<line x1="422.90" y1="125.50" x2="425.40" y2="125.50" stroke="#000" stroke-width="0.70"/>
<text transform="translate(427.10 128.80) scale(0.8036 1)" font-family="'DejaVu Sans','Liberation Sans',sans-serif" font-size="8.50" text-anchor="start" fill="#000" stroke="#000" stroke-width="0.15" >0.00</text>
<line x1="422.90" y1="153.25" x2="425.40" y2="153.25" stroke="#000" stroke-width="0.70"/>
<text transform="translate(427.10 156.55) scale(0.8036 1)" font-family="'DejaVu Sans','Liberation Sans',sans-serif" font-size="8.50" text-anchor="start" fill="#000" stroke="#000" stroke-width="0.15" >−0.25</text>
<line x1="422.90" y1="181.00" x2="425.40" y2="181.00" stroke="#000" stroke-width="0.70"/>
<text transform="translate(427.10 184.30) scale(0.8036 1)" font-family="'DejaVu Sans','Liberation Sans',sans-serif" font-size="8.50" text-anchor="start" fill="#000" stroke="#000" stroke-width="0.15" >−0.50</text>
<line x1="422.90" y1="208.75" x2="425.40" y2="208.75" stroke="#000" stroke-width="0.70"/>
<text transform="translate(427.10 212.05) scale(0.8036 1)" font-family="'DejaVu Sans','Liberation Sans',sans-serif" font-size="8.50" text-anchor="start" fill="#000" stroke="#000" stroke-width="0.15" >−0.75</text>
<rect x="503.30" y="14.50" width="148.20" height="5.46" fill="url(#g59)"/>
<rect x="503.30" y="18.46" width="148.20" height="5.46" fill="url(#g60)"/>
<rect x="503.30" y="22.43" width="148.20" height="5.46" fill="url(#g61)"/>
<rect x="503.30" y="26.39" width="148.20" height="5.46" fill="url(#g62)"/>
<rect x="503.30" y="30.36" width="148.20" height="5.46" fill="url(#g63)"/>
<rect x="503.30" y="34.32" width="148.20" height="5.46" fill="url(#g64)"/>
<rect x="503.30" y="38.29" width="148.20" height="5.46" fill="url(#g65)"/>
<rect x="503.30" y="42.25" width="148.20" height="5.46" fill="url(#g66)"/>
<rect x="503.30" y="46.21" width="148.20" height="5.46" fill="url(#g67)"/>
<rect x="503.30" y="50.18" width="148.20" height="5.46" fill="url(#g68)"/>
<rect x="503.30" y="54.14" width="148.20" height="5.46" fill="url(#g69)"/>
<rect x="503.30" y="58.11" width="148.20" height="5.46" fill="url(#g70)"/>
<rect x="503.30" y="62.07" width="148.20" height="5.46" fill="url(#g71)"/>
<rect x="503.30" y="66.04" width="148.20" height="5.46" fill="url(#g72)"/>
<rect x="503.30" y="70.00" width="148.20" height="5.46" fill="url(#g73)"/>
<rect x="503.30" y="73.96" width="148.20" height="5.46" fill="url(#g74)"/>
<rect x="503.30" y="77.93" width="148.20" height="5.46" fill="url(#g75)"/>
<rect x="503.30" y="81.89" width="148.20" height="5.46" fill="url(#g76)"/>
<rect x="503.30" y="85.86" width="148.20" height="5.46" fill="url(#g77)"/>
<rect x="503.30" y="89.82" width="148.20" height="5.46" fill="url(#g78)"/>
<rect x="503.30" y="93.79" width="148.20" height="5.46" fill="url(#g79)"/>
<rect x="503.30" y="97.75" width="148.20" height="5.46" fill="url(#g80)"/>
<rect x="503.30" y="101.71" width="148.20" height="5.46" fill="url(#g81)"/>
<rect x="503.30" y="105.68" width="148.20" height="5.46" fill="url(#g82)"/>
<rect x="503.30" y="109.64" width="148.20" height="5.46" fill="url(#g83)"/>
<rect x="503.30" y="113.61" width="148.20" height="5.46" fill="url(#g84)"/>
<rect x="503.30" y="117.57" width="148.20" height="5.46" fill="url(#g85)"/>
<rect x="503.30" y="121.54" width="148.20" height="5.46" fill="url(#g86)"/>
<rect x="503.30" y="125.50" width="148.20" height="5.46" fill="url(#g87)"/>
<rect x="503.30" y="129.46" width="148.20" height="5.46" fill="url(#g88)"/>
<rect x="503.30" y="133.43" width="148.20" height="5.46" fill="url(#g89)"/>
<rect x="503.30" y="137.39" width="148.20" height="5.46" fill="url(#g90)"/>
<rect x="503.30" y="141.36" width="148.20" height="5.46" fill="url(#g91)"/>
<rect x="503.30" y="145.32" width="148.20" height="5.46" fill="url(#g92)"/>
<rect x="503.30" y="149.29" width="148.20" height="5.46" fill="url(#g93)"/>
<rect x="503.30" y="153.25" width="148.20" height="5.46" fill="url(#g94)"/>
<rect x="503.30" y="157.21" width="148.20" height="5.46" fill="url(#g95)"/>
<rect x="503.30" y="161.18" width="148.20" height="5.46" fill="url(#g96)"/>
<rect x="503.30" y="165.14" width="148.20" height="5.46" fill="url(#g97)"/>
<rect x="503.30" y="169.11" width="148.20" height="5.46" fill="url(#g98)"/>
<rect x="503.30" y="173.07" width="148.20" height="5.46" fill="url(#g99)"/>
<rect x="503.30" y="177.04" width="148.20" height="5.46" fill="url(#g100)"/>
<rect x="503.30" y="181.00" width="148.20" height="5.46" fill="url(#g101)"/>
<rect x="503.30" y="184.96" width="148.20" height="5.46" fill="url(#g102)"/>
<rect x="503.30" y="188.93" width="148.20" height="5.46" fill="url(#g103)"/>
<rect x="503.30" y="192.89" width="148.20" height="5.46" fill="url(#g104)"/>
<rect x="503.30" y="196.86" width="148.20" height="5.46" fill="url(#g105)"/>
<rect x="503.30" y="200.82" width="148.20" height="5.46" fill="url(#g106)"/>
<rect x="503.30" y="204.79" width="148.20" height="5.46" fill="url(#g107)"/>
<rect x="503.30" y="208.75" width="148.20" height="5.46" fill="url(#g108)"/>
<rect x="503.30" y="212.71" width="148.20" height="5.46" fill="url(#g109)"/>
<rect x="503.30" y="216.68" width="148.20" height="5.46" fill="url(#g110)"/>
<rect x="503.30" y="220.64" width="148.20" height="5.46" fill="url(#g111)"/>
<rect x="503.30" y="224.61" width="148.20" height="5.46" fill="url(#g112)"/>
<rect x="503.30" y="228.57" width="148.20" height="5.46" fill="url(#g113)"/>
<rect x="503.30" y="232.54" width="148.20" height="3.96" fill="url(#g114)"/>
<rect x="503.30" y="14.50" width="148.20" height="222.00" fill="none" stroke="#000" stroke-width="0.60"/>
<line x1="503.30" y1="236.50" x2="503.30" y2="240.00" stroke="#000" stroke-width="0.65"/>
<text transform="translate(503.30 249.10) scale(0.8624 1)" font-family="'DejaVu Sans','Liberation Sans',sans-serif" font-size="8.50" text-anchor="middle" fill="#000" stroke="#000" stroke-width="0.15" >0.0</text>
<line x1="528.00" y1="236.50" x2="528.00" y2="240.00" stroke="#000" stroke-width="0.65"/>
<text transform="translate(528.00 249.10) scale(0.8624 1)" font-family="'DejaVu Sans','Liberation Sans',sans-serif" font-size="8.50" text-anchor="middle" fill="#000" stroke="#000" stroke-width="0.15" >0.5</text>
<line x1="552.70" y1="236.50" x2="552.70" y2="240.00" stroke="#000" stroke-width="0.65"/>
<text transform="translate(552.70 249.10) scale(0.8624 1)" font-family="'DejaVu Sans','Liberation Sans',sans-serif" font-size="8.50" text-anchor="middle" fill="#000" stroke="#000" stroke-width="0.15" >1.0</text>
<line x1="577.40" y1="236.50" x2="577.40" y2="240.00" stroke="#000" stroke-width="0.65"/>
<text transform="translate(577.40 249.10) scale(0.8624 1)" font-family="'DejaVu Sans','Liberation Sans',sans-serif" font-size="8.50" text-anchor="middle" fill="#000" stroke="#000" stroke-width="0.15" >1.5</text>
<line x1="602.10" y1="236.50" x2="602.10" y2="240.00" stroke="#000" stroke-width="0.65"/>
<text transform="translate(602.10 249.10) scale(0.8624 1)" font-family="'DejaVu Sans','Liberation Sans',sans-serif" font-size="8.50" text-anchor="middle" fill="#000" stroke="#000" stroke-width="0.15" >2.0</text>
<line x1="626.80" y1="236.50" x2="626.80" y2="240.00" stroke="#000" stroke-width="0.65"/>
<text transform="translate(626.80 249.10) scale(0.8624 1)" font-family="'DejaVu Sans','Liberation Sans',sans-serif" font-size="8.50" text-anchor="middle" fill="#000" stroke="#000" stroke-width="0.15" >2.5</text>
<line x1="651.50" y1="236.50" x2="651.50" y2="240.00" stroke="#000" stroke-width="0.65"/>
<text transform="translate(651.50 249.10) scale(0.8624 1)" font-family="'DejaVu Sans','Liberation Sans',sans-serif" font-size="8.50" text-anchor="middle" fill="#000" stroke="#000" stroke-width="0.15" >3.0</text>
<line x1="500.80" y1="236.50" x2="503.30" y2="236.50" stroke="#000" stroke-width="0.70"/>
<text transform="translate(498.20 239.80) scale(0.8624 1)" font-family="'DejaVu Sans','Liberation Sans',sans-serif" font-size="8.50" text-anchor="end" fill="#000" stroke="#000" stroke-width="0.15" >0.0</text>
<line x1="500.80" y1="208.75" x2="503.30" y2="208.75" stroke="#000" stroke-width="0.70"/>
<text transform="translate(498.20 212.05) scale(0.8624 1)" font-family="'DejaVu Sans','Liberation Sans',sans-serif" font-size="8.50" text-anchor="end" fill="#000" stroke="#000" stroke-width="0.15" >0.5</text>
<line x1="500.80" y1="181.00" x2="503.30" y2="181.00" stroke="#000" stroke-width="0.70"/>
<text transform="translate(498.20 184.30) scale(0.8624 1)" font-family="'DejaVu Sans','Liberation Sans',sans-serif" font-size="8.50" text-anchor="end" fill="#000" stroke="#000" stroke-width="0.15" >1.0</text>
<line x1="500.80" y1="153.25" x2="503.30" y2="153.25" stroke="#000" stroke-width="0.70"/>
<text transform="translate(498.20 156.55) scale(0.8624 1)" font-family="'DejaVu Sans','Liberation Sans',sans-serif" font-size="8.50" text-anchor="end" fill="#000" stroke="#000" stroke-width="0.15" >1.5</text>
<line x1="500.80" y1="125.50" x2="503.30" y2="125.50" stroke="#000" stroke-width="0.70"/>
<text transform="translate(498.20 128.80) scale(0.8624 1)" font-family="'DejaVu Sans','Liberation Sans',sans-serif" font-size="8.50" text-anchor="end" fill="#000" stroke="#000" stroke-width="0.15" >2.0</text>
<line x1="500.80" y1="97.75" x2="503.30" y2="97.75" stroke="#000" stroke-width="0.70"/>
<text transform="translate(498.20 101.05) scale(0.8624 1)" font-family="'DejaVu Sans','Liberation Sans',sans-serif" font-size="8.50" text-anchor="end" fill="#000" stroke="#000" stroke-width="0.15" >2.5</text>
<line x1="500.80" y1="70.00" x2="503.30" y2="70.00" stroke="#000" stroke-width="0.70"/>
<text transform="translate(498.20 73.30) scale(0.8624 1)" font-family="'DejaVu Sans','Liberation Sans',sans-serif" font-size="8.50" text-anchor="end" fill="#000" stroke="#000" stroke-width="0.15" >3.0</text>
<line x1="500.80" y1="42.25" x2="503.30" y2="42.25" stroke="#000" stroke-width="0.70"/>
<text transform="translate(498.20 45.55) scale(0.8624 1)" font-family="'DejaVu Sans','Liberation Sans',sans-serif" font-size="8.50" text-anchor="end" fill="#000" stroke="#000" stroke-width="0.15" >3.5</text>
<line x1="500.80" y1="14.50" x2="503.30" y2="14.50" stroke="#000" stroke-width="0.70"/>
<text transform="translate(498.20 17.80) scale(0.8624 1)" font-family="'DejaVu Sans','Liberation Sans',sans-serif" font-size="8.50" text-anchor="end" fill="#000" stroke="#000" stroke-width="0.15" >4.0</text>
<text transform="translate(577.10 262.70) scale(0.88 1)" font-family="'DejaVu Sans','Liberation Sans',sans-serif" font-size="11.60" text-anchor="middle" fill="#000" stroke="#000" stroke-width="0.15" font-style="italic">t</text>
<text transform="translate(480.50 126.10) scale(0.88 1) rotate(-90)" font-family="'DejaVu Sans','Liberation Sans',sans-serif" font-size="12.20" text-anchor="middle" fill="#000" stroke="#000" stroke-width="0.15" font-style="italic">x</text>
<text transform="translate(577.00 9.40) scale(0.88 1)" font-family="'DejaVu Sans','Liberation Sans',sans-serif" font-size="10.00" text-anchor="middle" fill="#000" stroke="#000" stroke-width="0.15" >2D plot of Absolute error</text>
<rect x="664.80" y="14.50" width="9.70" height="222.00" fill="url(#g115)"/>
<rect x="664.80" y="14.50" width="9.70" height="222.00" fill="none" stroke="#000" stroke-width="0.60"/>
<line x1="674.50" y1="205.62" x2="677.00" y2="205.62" stroke="#000" stroke-width="0.70"/>
<text transform="translate(679.50 208.92) scale(0.8624 1)" font-family="'DejaVu Sans','Liberation Sans',sans-serif" font-size="8.50" text-anchor="start" fill="#000" stroke="#000" stroke-width="0.15" >1</text>
<line x1="674.50" y1="174.75" x2="677.00" y2="174.75" stroke="#000" stroke-width="0.70"/>
<text transform="translate(679.50 178.05) scale(0.8624 1)" font-family="'DejaVu Sans','Liberation Sans',sans-serif" font-size="8.50" text-anchor="start" fill="#000" stroke="#000" stroke-width="0.15" >2</text>
<line x1="674.50" y1="143.87" x2="677.00" y2="143.87" stroke="#000" stroke-width="0.70"/>
<text transform="translate(679.50 147.17) scale(0.8624 1)" font-family="'DejaVu Sans','Liberation Sans',sans-serif" font-size="8.50" text-anchor="start" fill="#000" stroke="#000" stroke-width="0.15" >3</text>
<line x1="674.50" y1="113.00" x2="677.00" y2="113.00" stroke="#000" stroke-width="0.70"/>
<text transform="translate(679.50 116.30) scale(0.8624 1)" font-family="'DejaVu Sans','Liberation Sans',sans-serif" font-size="8.50" text-anchor="start" fill="#000" stroke="#000" stroke-width="0.15" >4</text>
<line x1="674.50" y1="82.12" x2="677.00" y2="82.12" stroke="#000" stroke-width="0.70"/>
<text transform="translate(679.50 85.42) scale(0.8624 1)" font-family="'DejaVu Sans','Liberation Sans',sans-serif" font-size="8.50" text-anchor="start" fill="#000" stroke="#000" stroke-width="0.15" >5</text>
<line x1="674.50" y1="51.24" x2="677.00" y2="51.24" stroke="#000" stroke-width="0.70"/>
<text transform="translate(679.50 54.54) scale(0.8624 1)" font-family="'DejaVu Sans','Liberation Sans',sans-serif" font-size="8.50" text-anchor="start" fill="#000" stroke="#000" stroke-width="0.15" >6</text>
<line x1="674.50" y1="20.37" x2="677.00" y2="20.37" stroke="#000" stroke-width="0.70"/>
<text transform="translate(679.50 23.67) scale(0.8624 1)" font-family="'DejaVu Sans','Liberation Sans',sans-serif" font-size="8.50" text-anchor="start" fill="#000" stroke="#000" stroke-width="0.15" >7</text>
<text transform="translate(674.80 11.60) scale(0.88 1)" font-family="'DejaVu Sans','Liberation Sans',sans-serif" font-size="8.16" text-anchor="end" fill="#000" stroke="#000" stroke-width="0.15" >1e−5</text>
<text x="105.20" y="292.8" font-family="'Liberation Serif',serif" text-anchor="middle" letter-spacing="-0.35" fill="#222" stroke="#222" stroke-width="0.12"><tspan font-size="16" dy="0.1">(</tspan><tspan font-size="15.2" dy="-0.1">a</tspan><tspan font-size="16" dy="0.1">)</tspan></text>
<text x="342.10" y="292.8" font-family="'Liberation Serif',serif" text-anchor="middle" letter-spacing="-0.35" fill="#222" stroke="#222" stroke-width="0.12"><tspan font-size="16" dy="0.1">(</tspan><tspan font-size="15.2" dy="-0.1">b</tspan><tspan font-size="16" dy="0.1">)</tspan></text>
<text x="578.80" y="292.8" font-family="'Liberation Serif',serif" text-anchor="middle" letter-spacing="-0.35" fill="#222" stroke="#222" stroke-width="0.12"><tspan font-size="16" dy="0.1">(</tspan><tspan font-size="15.2" dy="-0.1">c</tspan><tspan font-size="16" dy="0.1">)</tspan></text></svg></body></html>
